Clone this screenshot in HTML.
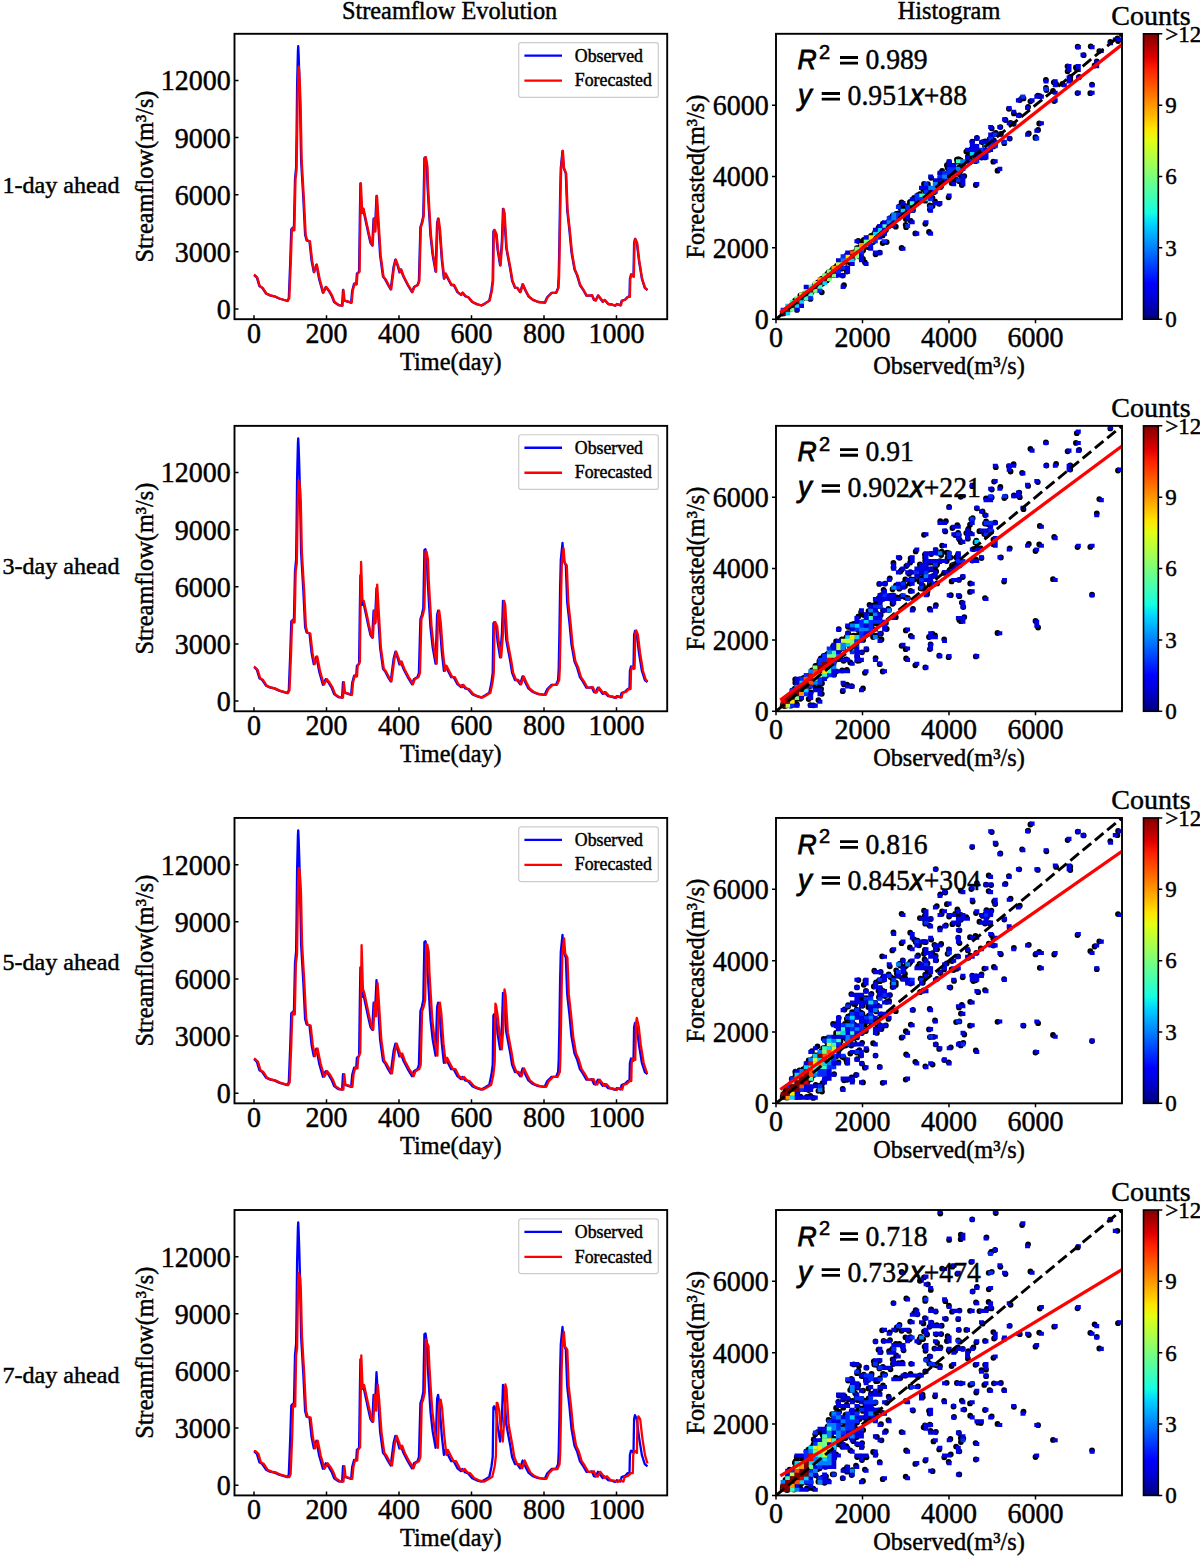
<!DOCTYPE html>
<html><head><meta charset="utf-8"><style>html,body{margin:0;padding:0;background:#fff;width:1200px;height:1557px;overflow:hidden}svg{display:block}text{stroke:#000;stroke-width:0.45px}</style></head>
<body><svg width="1200" height="1557" viewBox="0 0 1200 1557">
<defs>
<linearGradient id="jet" x1="0" y1="0" x2="0" y2="1"><stop offset="0.0000" stop-color="#800000"/><stop offset="0.0417" stop-color="#b00000"/><stop offset="0.0833" stop-color="#e00000"/><stop offset="0.1250" stop-color="#ff2100"/><stop offset="0.1667" stop-color="#ff4800"/><stop offset="0.2083" stop-color="#ff7000"/><stop offset="0.2500" stop-color="#ff9700"/><stop offset="0.2917" stop-color="#ffbe00"/><stop offset="0.3333" stop-color="#ffe600"/><stop offset="0.3750" stop-color="#e2ff15"/><stop offset="0.4167" stop-color="#c0ff37"/><stop offset="0.4583" stop-color="#9eff59"/><stop offset="0.5000" stop-color="#7bff7b"/><stop offset="0.5417" stop-color="#59ff9e"/><stop offset="0.5833" stop-color="#37ffc0"/><stop offset="0.6250" stop-color="#15ffe2"/><stop offset="0.6667" stop-color="#00d5ff"/><stop offset="0.7083" stop-color="#00aaff"/><stop offset="0.7500" stop-color="#0080ff"/><stop offset="0.7917" stop-color="#0055ff"/><stop offset="0.8333" stop-color="#002aff"/><stop offset="0.8750" stop-color="#0000ff"/><stop offset="0.9167" stop-color="#0000e0"/><stop offset="0.9583" stop-color="#0000b0"/><stop offset="1.0000" stop-color="#000080"/></linearGradient>
<clipPath id="cl0"><rect x="234.5" y="33.8" width="432.7" height="285.4"/></clipPath>
<clipPath id="cr0"><rect x="776.0" y="33.8" width="346.0" height="285.4"/></clipPath>
<clipPath id="cl1"><rect x="234.5" y="425.9" width="432.7" height="285.4"/></clipPath>
<clipPath id="cr1"><rect x="776.0" y="425.9" width="346.0" height="285.4"/></clipPath>
<clipPath id="cl2"><rect x="234.5" y="817.9" width="432.7" height="285.4"/></clipPath>
<clipPath id="cr2"><rect x="776.0" y="817.9" width="346.0" height="285.4"/></clipPath>
<clipPath id="cl3"><rect x="234.5" y="1210.0" width="432.7" height="285.4"/></clipPath>
<clipPath id="cr3"><rect x="776.0" y="1210.0" width="346.0" height="285.4"/></clipPath>
</defs>
<rect width="1200" height="1557" fill="#fff"/>
<text x="449.6" y="19" text-anchor="middle" style="font-family:'Liberation Serif',serif;font-size:24.3px">Streamflow Evolution</text>
<text x="949" y="18.7" text-anchor="middle" style="font-family:'Liberation Serif',serif;font-size:24.3px">Histogram</text>
<text x="2.4" y="193.0" style="font-family:'Liberation Serif',serif;font-size:24.1px">1-day ahead</text>
<g clip-path="url(#cl0)">
<polyline points="254,274.9 256.9,277.7 259.4,286.1 262.3,287.9 266,293.5 269.9,295.4 274.3,296.3 279,298.5 287.4,301 288.8,298.2 290.2,262.8 291.3,229.3 293.1,227.4 293.9,230.2 295,179 296.1,167.8 296.6,132.4 297.1,85.9 297.9,51.9 298.2,46.2 298.6,53.8 299.3,74.8 300,100.8 301.1,160.4 303.3,197.6 305.1,234.8 306.6,240.4 309.5,241.4 311.6,260.9 313.8,272.1 316.4,264.6 319.2,279.5 322.9,292.6 325.8,287 328.7,290.7 331.6,295.7 334.1,302 338.5,305.1 342.1,305.5 343,290 344.1,300.6 346.8,301.3 351.1,302.7 352.2,290.7 354.1,283.6 356.2,284.3 356.9,273.7 359.1,271.6 359.9,213 360.4,183.3 361.7,213 363.1,208.8 366.7,225.7 368.2,232.8 370.4,242.7 372.2,245.5 373.6,218.6 374.9,231.4 376.5,196 378,220 380.1,255.4 383,276.6 385.2,279.4 388.1,285 390.7,289.3 393.6,266.7 395.4,259.6 397.9,266.7 399.4,272.3 400.8,269.5 403.4,276.6 407.7,285 412,292.1 413.9,287.1 417.5,285 418.9,280.8 420.4,227.1 421.8,222.9 423.3,215.8 424.4,157.9 425.5,157.2 426.9,166.4 427.6,187.6 429.1,213 430.5,235.6 432.7,255.4 435.6,271.6 437.1,222.9 438.1,218.6 439.6,230 441.8,259.6 443.9,278.7 445.4,273.7 448.3,279.4 451.2,285 453.7,285 457.4,292.1 461,294.9 462.4,292.8 465.3,296.3 467.9,297 472.2,302 476.6,304.1 481.3,305.5 484.9,303.4 489.3,300.6 491.4,290.7 492.7,280.8 493.4,231.4 494.2,230 496.1,234.2 497.6,249.7 500.1,265.3 501.9,241.2 503,208.8 504.1,213 506.3,248.3 510.3,269.5 512.1,280.8 515,287.9 517.2,287.9 520.1,292.1 522.6,284.3 525.5,290.7 528.4,296.3 532.8,299.9 538.2,302 544.7,302.7 547.3,297 551.6,292.8 556,292.8 558.1,287.9 558.7,276.6 559.4,241.2 560.1,196 560.8,167.8 562.5,150.8 563.6,167.8 565.8,173.4 567.2,210.2 569.4,230 571.5,252.5 574.5,269.5 577,275.1 579.9,285 582.8,289.3 586.4,295.6 590.4,295.6 591.8,295.1 594,300 595.5,300.4 598,295.5 602.7,301.8 604.5,300 608.2,304 611.8,304.5 615,305.8 616.9,304 620.5,305.4 621.6,300.9 625.2,299.5 627.7,296.9 629.5,296.9 629.9,278.9 631,274.4 632.1,275.3 633.5,276.6 634.1,242.9 635,238.9 636.8,242.9 639,260.9 641.9,278.9 644.8,287.9 647.5,290.1" fill="none" stroke="#0000ff" stroke-width="2.3" stroke-linejoin="round" stroke-linecap="butt"/>
<polyline points="254,274.9 254.4,274.9 257.3,277.7 259.8,286.1 262.7,287.9 266.4,293.5 270.4,295.4 274.7,296.3 279.5,298.5 287.8,301 289.3,298.2 290.8,262.8 291.9,229.3 293.7,227.4 294.4,230.2 295.5,179 296.6,169.3 297.1,137.2 297.7,95.7 298.4,69 298.8,66.6 299.1,70.8 299.9,85.1 300.6,105.4 301.7,160.4 303.8,197.6 305.7,234.8 307.1,240.4 310,241.4 312.2,260.9 314.3,272.1 316.9,264.6 319.8,279.5 323.4,292.6 326.3,287 329.2,290.7 332.1,295.7 334.6,302 339,305.1 342.6,305.5 343.5,290 344.6,300.6 347.3,301.3 351.7,302.7 352.8,290.7 354.6,283.6 356.7,284.3 357.5,273.7 359.6,271.6 360.4,213 360.9,183.3 362.2,213 363.6,208.8 367.2,225.7 368.7,232.8 370.9,242.7 372.7,245.5 374.1,218.6 375.4,231.4 377,196 378.5,220 380.7,255.4 383.5,276.6 385.7,279.4 388.6,285 391.2,289.3 394.1,266.7 395.9,259.6 398.4,266.7 399.9,272.3 401.3,269.5 403.8,276.6 408.2,285 412.5,292.1 414.3,287.1 418,285 419.4,280.8 420.9,227.1 422.3,222.9 423.8,215.8 424.9,157.9 425.9,157.2 427.4,166.4 428.1,187.6 429.6,213 431,235.6 433.2,255.4 436.1,271.6 437.5,222.9 438.6,218.6 440.1,230 442.2,259.6 444.4,278.7 445.9,273.7 448.8,279.4 451.7,285 454.2,285 457.8,292.1 461.4,294.9 462.9,292.8 465.8,296.3 468.3,297 472.7,302 477,304.1 481.7,305.5 485.4,303.4 489.7,300.6 491.9,290.7 493.1,280.8 493.9,231.4 494.6,230 496.6,234.2 498,249.7 500.6,265.3 502.4,241.2 503.5,208.8 504.6,213 506.7,248.3 510.7,269.5 512.5,280.8 515.4,287.9 517.6,287.9 520.5,292.1 523,284.3 525.9,290.7 528.8,296.3 533.2,299.9 538.6,302 545.1,302.7 547.7,297 552,292.8 556.4,292.8 558.5,287.9 559.1,276.6 559.8,241.2 560.5,196 561.2,167.8 562.9,150.8 564,167.8 566.2,173.4 567.6,210.2 569.8,230 572,252.5 574.9,269.5 577.4,275.1 580.3,285 583.2,289.3 586.8,295.6 590.8,295.6 592.2,295.1 594.4,300 595.9,300.4 598.4,295.5 603.1,301.8 604.9,300 608.5,304 612.2,304.5 615.4,305.8 617.2,304 620.9,305.4 622,300.9 625.6,299.5 628.1,296.9 629.9,296.9 630.3,278.9 631.4,274.4 632.5,275.3 633.9,276.6 634.5,242.9 635.4,238.9 637.2,242.9 639.3,260.9 642.2,278.9 645.1,287.9 647.5,289.8" fill="none" stroke="#ff0000" stroke-width="2.3" stroke-linejoin="round" stroke-linecap="butt"/>
</g>
<rect x="234.5" y="33.80" width="432.70" height="285.4" fill="none" stroke="#000" stroke-width="1.9"/>
<text transform="translate(230.7,318.90) scale(1,1.08)" text-anchor="end" style="font-family:'Liberation Serif',serif;font-size:28px">0</text>
<text transform="translate(230.7,261.77) scale(1,1.08)" text-anchor="end" style="font-family:'Liberation Serif',serif;font-size:28px">3000</text>
<text transform="translate(230.7,204.65) scale(1,1.08)" text-anchor="end" style="font-family:'Liberation Serif',serif;font-size:28px">6000</text>
<text transform="translate(230.7,147.52) scale(1,1.08)" text-anchor="end" style="font-family:'Liberation Serif',serif;font-size:28px">9000</text>
<text transform="translate(230.7,90.40) scale(1,1.08)" text-anchor="end" style="font-family:'Liberation Serif',serif;font-size:28px">12000</text>
<text transform="translate(254.00,342.90) scale(1,1.08)" text-anchor="middle" style="font-family:'Liberation Serif',serif;font-size:28px">0</text>
<text transform="translate(326.50,342.90) scale(1,1.08)" text-anchor="middle" style="font-family:'Liberation Serif',serif;font-size:28px">200</text>
<text transform="translate(399.00,342.90) scale(1,1.08)" text-anchor="middle" style="font-family:'Liberation Serif',serif;font-size:28px">400</text>
<text transform="translate(471.50,342.90) scale(1,1.08)" text-anchor="middle" style="font-family:'Liberation Serif',serif;font-size:28px">600</text>
<text transform="translate(544.00,342.90) scale(1,1.08)" text-anchor="middle" style="font-family:'Liberation Serif',serif;font-size:28px">800</text>
<text transform="translate(616.50,342.90) scale(1,1.08)" text-anchor="middle" style="font-family:'Liberation Serif',serif;font-size:28px">1000</text>
<path d="M234.5,309.00h4 M234.5,251.87h4 M234.5,194.75h4 M234.5,137.62h4 M234.5,80.50h4 M254.00,319.20v-4 M326.50,319.20v-4 M399.00,319.20v-4 M471.50,319.20v-4 M544.00,319.20v-4 M616.50,319.20v-4" stroke="#000" stroke-width="1.5"/>
<text x="450.85" y="369.80" text-anchor="middle" style="font-family:'Liberation Serif',serif;font-size:24.3px">Time(day)</text>
<text transform="translate(153.1,176.50) rotate(-90)" text-anchor="middle" style="font-family:'Liberation Serif',serif;font-size:24.3px">Streamflow(m³/s)</text>
<rect x="518.7" y="42.70" width="139.6" height="54.7" rx="2.5" fill="#fff" fill-opacity="0.8" stroke="#cccccc" stroke-width="1.2"/>
<path d="M524.4,55.70H562" stroke="#0000ff" stroke-width="2.3"/>
<path d="M524.4,80.70H562" stroke="#ff0000" stroke-width="2.3"/>
<text x="574.8" y="61.70" style="font-family:'Liberation Serif',serif;font-size:17.8px">Observed</text>
<text x="574.8" y="86.30" style="font-family:'Liberation Serif',serif;font-size:17.8px">Forecasted</text>
<g clip-path="url(#cr0)">
<path d="M853.5 252.6h0M852.7 258.7h0M854.6 254.9h0M855.7 254.8h0M853.2 254.7h0M851.4 256.3h0M849.3 260.0h0M849.4 259.0h0M848.3 259.9h0M846.7 255.9h0M840.5 262.2h0M840.4 266.4h0M837.3 267.1h0M835.3 269.8h0M832.1 272.1h0M828.6 274.2h0M828.6 275.4h0M829.0 275.9h0M827.9 274.9h0M827.0 276.8h0M827.2 277.1h0M825.3 276.2h0M822.9 278.7h0M823.1 280.8h0M821.2 281.0h0M818.1 282.3h0M816.6 283.5h0M815.4 286.2h0M813.6 287.3h0M811.6 288.1h0M811.2 290.4h0M811.4 290.3h0M810.3 289.8h0M808.8 291.0h0M809.1 292.0h0M809.6 291.4h0M809.1 293.2h0M809.3 291.3h0M809.8 292.1h0M809.1 292.4h0M808.0 292.0h0M808.0 292.4h0M807.8 293.1h0M808.3 293.4h0M806.7 293.0h0M806.1 294.1h0M805.4 293.9h0M804.1 294.9h0M804.4 295.8h0M804.9 295.1h0M804.4 295.6h0M805.4 296.0h0M805.9 294.5h0M806.1 294.2h0M806.1 294.4h0M806.5 294.6h0M805.1 294.2h0M805.2 296.3h0M805.1 294.8h0M803.3 295.4h0M803.2 297.4h0M802.7 296.9h0M802.9 297.6h0M802.1 296.9h0M801.7 298.6h0M801.6 298.4h0M800.6 298.1h0M800.6 298.4h0M800.2 299.8h0M800.1 299.5h0M799.5 299.3h0M799.9 299.9h0M799.9 298.8h0M799.4 300.0h0M799.5 299.7h0M799.8 300.2h0M800.4 298.8h0M798.9 299.5h0M799.0 300.5h0M798.8 301.0h0M798.2 299.9h0M797.3 300.8h0M797.6 301.3h0M796.6 301.2h0M796.6 302.1h0M796.9 302.4h0M795.7 302.5h0M795.3 303.3h0M794.5 303.1h0M794.4 304.4h0M795.0 304.0h0M795.6 303.5h0M794.4 303.2h0M795.6 303.6h0M797.6 302.9h0M800.1 301.4h0M801.9 298.9h0M821.8 292.3h0M842.7 275.6h0M863.0 258.9h0M882.7 243.1h0M905.7 225.0h0M932.6 206.1h0M959.3 181.2h0M959.4 170.4h0M959.0 167.6h0M954.0 169.8h0M953.5 170.9h0M960.9 170.3h0M956.9 159.7h0M947.6 167.8h0M993.3 161.7h0M1035.5 137.1h0M1090.3 93.2h0M1096.8 61.5h0M1099.3 51.1h0M1094.6 65.5h0M1090.7 46.3h0M1067.5 66.3h0M1062.4 83.9h0M1045.9 80.0h0M1037.8 95.6h0M1028.1 107.0h0M1019.3 115.3h0M1005.5 120.0h0M991.8 135.9h0M971.3 149.5h0M949.1 162.1h0M942.1 171.0h0M936.8 184.2h0M929.5 189.8h0M925.1 196.6h0M925.5 199.3h0M927.1 194.2h0M926.1 192.7h0M919.5 197.0h0M920.6 199.8h0M922.6 199.2h0M927.5 196.7h0M929.7 197.5h0M920.0 195.9h0M910.6 202.5h0M910.6 209.9h0M905.0 210.6h0M902.2 215.2h0M899.3 216.5h0M890.0 218.1h0M885.1 227.1h0M880.5 230.6h0M876.1 232.7h0M871.6 236.7h0M866.4 239.0h0M868.3 247.2h0M866.5 242.2h0M868.3 244.8h0M868.9 242.7h0M871.7 240.6h0M873.0 238.2h0M877.2 236.4h0M874.9 236.0h0M871.0 236.0h0M867.0 242.3h0M862.4 245.5h0M856.8 248.2h0M852.0 254.5h0M846.8 255.1h0M843.3 260.5h0M840.3 262.0h0M838.2 266.7h0M833.0 269.6h0M831.5 272.4h0M827.4 273.8h0M823.7 278.2h0M820.8 280.3h0M817.5 283.1h0M815.2 284.4h0M811.9 288.1h0M812.6 288.8h0M813.7 289.1h0M816.9 287.9h0M818.7 285.5h0M819.1 284.7h0M820.9 283.1h0M820.9 281.4h0M825.1 281.0h0M822.4 278.9h0M822.3 279.7h0M822.1 280.8h0M819.6 281.6h0M819.2 283.5h0M819.5 284.6h0M819.0 282.9h0M818.1 285.2h0M817.6 284.1h0M816.1 285.3h0M814.8 285.7h0M813.0 287.7h0M811.9 289.5h0M809.4 290.0h0M808.6 292.1h0M806.6 292.9h0M803.7 294.6h0M802.0 296.8h0M801.0 298.1h0M799.3 299.3h0M796.7 300.7h0M794.8 303.3h0M792.4 304.3h0M791.7 306.2h0M791.0 306.1h0M789.6 306.8h0M789.2 308.5h0M788.3 308.5h0M787.7 309.2h0M786.8 310.0h0M786.0 310.4h0M785.4 311.2h0M785.3 311.7h0M785.2 311.6h0M784.7 311.8h0M784.8 312.0h0M784.7 312.1h0M784.2 312.1h0M784.2 312.3h0M784.2 312.6h0M784.1 312.5h0M784.1 312.5h0M784.1 312.6h0M783.9 312.3h0M783.5 312.8h0M796.9 309.9h0M810.4 298.9h0M813.3 290.2h0M806.9 288.6h0M800.4 295.4h0M795.2 300.3h0M795.3 303.2h0M795.5 303.2h0M795.4 302.4h0M795.5 303.3h0M794.9 303.0h0M794.9 303.6h0M795.4 303.3h0M795.2 303.6h0M794.3 303.0h0M794.1 304.2h0M794.2 304.2h0M793.8 304.6h0M793.0 304.9h0M793.2 305.0h0M792.2 305.0h0M792.0 305.7h0M791.5 305.8h0M790.7 306.4h0M790.9 307.0h0M800.4 304.3h0M808.7 296.8h0M818.4 289.9h0M821.1 283.0h0M822.0 280.8h0M824.6 280.4h0M828.4 278.5h0M832.7 274.3h0M832.8 270.6h0M832.7 272.5h0M833.2 272.4h0M832.6 272.3h0M834.0 271.0h0M833.7 273.2h0M846.3 268.1h0M859.4 256.5h0M857.6 251.9h0M856.8 250.1h0M860.9 250.8h0M862.1 249.6h0M861.9 247.9h0M863.2 250.2h0M929.0 232.0h0M997.5 170.7h0M1038.1 129.9h0M1053.0 91.0h0M1023.5 98.4h0M1013.9 113.4h0M991.7 128.3h0M986.0 150.4h0M988.6 147.3h0M990.4 142.7h0M995.1 145.2h0M986.5 145.3h0M986.9 144.2h0M1004.3 143.2h0M991.4 140.3h0M988.8 144.6h0M982.6 142.2h0M979.4 151.2h0M966.3 151.6h0M958.2 159.4h0M958.2 168.8h0M955.2 173.0h0M959.5 174.2h0M952.0 169.8h0M948.9 172.3h0M957.9 173.6h0M948.7 169.8h0M940.0 180.2h0M935.7 184.2h0M931.5 189.7h0M930.8 191.9h0M929.3 195.1h0M924.6 197.8h0M924.0 198.0h0M932.5 197.8h0M934.4 192.1h0M937.1 186.1h0M951.6 183.0h0M962.7 162.7h0M981.5 157.6h0M972.3 154.1h0M973.4 154.5h0M967.9 156.6h0M975.5 161.2h0M993.4 146.4h0M1009.8 138.6h0M1028.8 133.4h0M1054.2 101.0h0M1039.8 96.1h0M1019.8 100.1h0M1010.6 122.9h0M994.1 134.2h0M976.9 138.0h0M957.3 161.7h0M940.3 173.3h0M924.0 183.9h0M901.6 202.4h0M893.4 217.8h0M889.8 223.1h0M883.6 225.3h0M880.7 232.6h0M875.5 233.1h0M870.0 237.5h0M858.3 241.0h0M852.5 253.2h0M848.1 258.3h0M850.2 258.3h0M852.3 258.0h0M853.1 255.7h0M848.8 256.5h0M843.3 259.1h0M843.4 264.4h0M841.8 264.1h0M841.7 267.6h0M839.7 266.4h0M838.2 265.4h0M834.2 269.6h0M833.4 272.1h0M831.2 273.5h0M830.3 273.3h0M829.5 274.5h0M827.9 276.5h0M826.9 276.1h0M825.4 277.4h0M824.8 278.0h0M823.8 279.7h0M821.5 279.0h0M827.1 280.0h0M836.1 274.9h0M842.2 268.6h0M850.3 262.9h0M857.2 255.1h0M862.0 251.4h0M866.5 245.6h0M873.1 242.0h0M876.9 236.0h0M881.5 233.5h0M881.0 232.4h0M882.7 235.4h0M885.9 229.9h0M888.4 226.4h0M879.4 228.4h0M878.9 233.1h0M875.6 235.9h0M875.0 237.8h0M871.8 239.9h0M870.8 238.3h0M871.5 240.6h0M868.6 241.9h0M865.9 245.5h0M862.9 246.0h0M862.4 245.6h0M865.0 246.6h0M865.8 246.7h0M865.3 243.1h0M863.0 244.0h0M860.3 246.7h0M859.7 248.7h0M857.1 249.2h0M853.7 252.4h0M854.3 254.0h0M853.5 255.8h0M853.6 253.3h0M852.2 255.2h0M849.4 254.5h0M846.3 261.8h0M843.7 261.1h0M843.3 262.4h0M841.3 264.5h0M836.9 265.9h0M835.3 268.6h0M831.7 270.6h0M830.7 274.0h0M827.7 275.0h0M825.3 276.3h0M824.7 277.7h0M823.8 279.2h0M821.0 280.4h0M821.2 281.9h0M822.7 280.8h0M819.7 282.2h0M820.6 283.9h0M818.3 282.9h0M816.5 285.5h0M815.1 286.5h0M812.5 287.5h0M816.2 287.9h0M819.1 286.0h0M820.5 282.7h0M822.5 283.3h0M823.1 280.3h0M823.5 281.5h0M825.5 280.5h0M824.0 278.2h0M824.4 279.8h0M825.5 279.6h0M827.7 278.2h0M830.1 275.6h0M829.8 274.7h0M829.2 275.0h0M830.4 274.0h0M832.3 274.5h0M834.3 272.7h0M838.5 270.6h0M843.6 265.2h0M875.6 254.3h0M906.1 227.2h0M939.2 203.8h0M960.8 179.7h0M963.3 163.5h0M960.9 166.5h0M975.6 160.4h0M980.8 150.8h0M984.3 151.8h0M986.1 147.2h0M976.3 148.7h0M985.0 145.9h0M1039.2 123.5h0M1077.5 93.1h0M1118.1 41.0h0M1117.4 38.4h0M1077.7 46.7h0M1053.8 82.3h0M1046.0 88.0h0M1022.1 97.8h0M1013.6 123.8h0M995.8 132.9h0M972.2 141.6h0M960.7 160.3h0M945.3 174.2h0M935.8 182.7h0M925.2 190.3h0M923.4 196.9h0M914.1 197.9h0M909.0 205.7h0M900.4 207.8h0M892.9 215.7h0M892.6 221.5h0M888.7 221.9h0M883.0 225.2h0M875.4 231.6h0M874.4 239.4h0M871.6 237.4h0M866.0 241.7h0M861.8 243.6h0M886.7 242.1h0M910.8 220.9h0M935.0 201.3h0M964.3 176.1h0M970.0 161.9h0M970.2 160.0h0M978.2 156.0h0M976.2 154.4h0M970.3 155.0h0M968.4 159.4h0M959.5 161.8h0M946.9 165.2h0M937.1 181.8h0M924.9 189.3h0M915.7 199.1h0M899.5 206.4h0M892.3 221.5h0M882.1 227.1h0M874.3 233.7h0M863.8 239.9h0M858.4 248.2h0M853.8 253.0h0M848.1 257.5h0M852.1 258.1h0M851.4 254.8h0M852.6 256.3h0M854.7 255.2h0M851.5 254.5h0M852.5 257.8h0M851.3 256.8h0M849.6 257.8h0M848.9 258.3h0M845.5 260.0h0M842.5 264.0h0M839.8 263.8h0M839.6 264.8h0M838.9 267.2h0M838.4 267.0h0M838.5 267.4h0M834.6 267.8h0M832.3 272.8h0M831.2 271.5h0M827.9 274.9h0M827.6 275.3h0M829.4 276.1h0M831.0 275.1h0M832.5 273.6h0M832.2 271.8h0M831.7 273.8h0M833.0 273.3h0M830.4 273.3h0M829.0 276.2h0M828.8 274.4h0M826.1 275.8h0M823.4 278.5h0M821.6 279.6h0M820.5 282.6h0M819.2 282.9h0M817.4 282.8h0M816.1 284.7h0M813.6 288.1h0M812.2 290.5h0M811.9 290.0h0M810.5 289.3h0M809.0 291.4h0M807.7 292.4h0M806.8 292.9h0M806.5 294.3h0M805.6 294.1h0M805.6 294.4h0M808.4 293.8h0M809.6 291.9h0M812.0 291.2h0M813.4 288.8h0M811.3 289.1h0M810.2 289.6h0M808.5 289.9h0M808.4 292.8h0M806.5 294.1h0M806.8 294.2h0M806.2 293.8h0M803.7 294.4h0M804.2 295.7h0M805.2 296.1h0M804.2 295.7h0M804.7 295.2h0M803.1 296.4h0M803.1 296.3h0M801.9 297.2h0M801.5 297.6h0M799.6 298.4h0M797.5 300.0h0M797.3 301.2h0M797.9 301.8h0M796.8 301.3h0M796.4 302.1h0M795.6 302.5h0M794.5 302.9h0M793.9 304.2h0M793.6 304.7h0M792.0 305.3h0M791.8 306.1h0M791.5 306.0h0M790.5 306.9h0M790.7 306.9h0M791.0 306.9h0M790.0 307.1h0M790.2 307.9h0M789.6 307.6h0M789.0 308.0h0M788.9 308.9h0M788.4 308.4h0M787.9 308.7h0M788.0 309.3h0M787.9 309.2h0M787.7 308.9h0M786.9 309.5h0M786.1 310.6h0M786.1 310.9h0M785.5 311.0h0M785.3 311.4h0M784.8 312.0h0M784.5 311.9h0M784.1 312.4h0M784.2 312.5h0M783.8 312.6h0M784.2 312.6h0M784.7 312.3h0M785.5 312.0h0M785.6 311.3h0M786.1 310.9h0M786.5 310.8h0M787.2 310.1h0M787.8 309.8h0M788.1 309.5h0M788.7 308.7h0M789.1 308.8h0M789.8 308.0h0M790.3 307.8h0M790.6 307.2h0M791.1 307.3h0M791.8 306.7h0M793.3 305.5h0M793.5 304.8h0M794.1 304.6h0M795.3 304.1h0M794.6 303.3h0M794.3 304.3h0M797.4 303.7h0M801.1 300.7h0M806.7 297.5h0M810.8 293.2h0M815.7 289.3h0M819.1 285.7h0M822.5 283.0h0M826.0 278.7h0M834.1 275.1h0M864.9 262.3h0M915.3 233.4h0M948.6 197.3h0M944.2 181.9h0M950.8 179.8h0M956.1 179.7h0M950.4 173.8h0M944.1 174.7h0M946.7 175.3h0M940.5 177.2h0M936.2 186.9h0M923.1 189.1h0M918.1 201.0h0M909.9 202.1h0M903.6 210.5h0M896.2 214.0h0M892.6 215.8h0M882.9 223.7h0M878.5 227.9h0M873.8 235.5h0M871.5 239.6h0M879.4 236.3h0M895.8 226.7h0M905.8 219.0h0M913.0 210.2h0M929.7 205.4h0M961.8 185.0h0M985.0 157.4h0M1004.1 142.3h0M1000.9 133.9h0M993.9 140.5h0M989.6 139.2h0M985.1 141.3h0M972.7 147.8h0M958.9 159.5h0M945.9 175.3h0M931.2 177.8h0M919.9 194.1h0M917.5 201.4h0M910.4 202.5h0M905.4 214.2h0M907.9 212.0h0M902.7 212.0h0M895.8 215.6h0M895.8 217.7h0M889.1 221.1h0M879.8 231.5h0M876.1 235.0h0M868.5 238.2h0M861.7 244.4h0M857.0 251.4h0M851.3 255.9h0M844.6 258.1h0M838.8 263.7h0M836.1 268.1h0M836.1 271.3h0M833.1 268.6h0M830.4 275.4h0M831.4 274.4h0M828.4 272.3h0M828.2 276.1h0M827.5 276.1h0M826.7 277.9h0M824.5 276.8h0M825.0 280.1h0M825.7 278.4h0M826.6 277.9h0M826.3 278.4h0M826.2 277.0h0M826.1 279.0h0M822.8 279.3h0M822.8 280.6h0M821.2 281.3h0M818.8 282.2h0M816.9 283.7h0M817.4 285.5h0M820.7 284.6h0M820.8 282.7h0M823.3 281.9h0M825.5 279.0h0M827.7 278.0h0M829.5 275.8h0M830.0 275.0h0M829.7 275.5h0M826.8 274.9h0M824.8 278.7h0M822.6 279.5h0M820.4 280.2h0M819.8 283.5h0M818.7 283.4h0M816.3 285.7h0M814.0 286.8h0M812.4 289.2h0M812.0 289.5h0M810.7 290.1h0M809.4 290.8h0M807.6 291.2h0M805.9 293.4h0M804.5 294.6h0M802.7 296.1h0M803.3 297.2h0M802.1 297.3h0M801.2 298.6h0M801.5 298.3h0M801.0 297.6h0M800.3 298.6h0M799.2 299.6h0M797.7 299.8h0M797.3 301.6h0M797.4 301.8h0M796.2 302.3h0M796.7 302.7h0M795.7 302.5h0M795.1 302.4h0M795.1 303.5h0M794.9 303.8h0M794.9 303.8h0M794.2 303.8h0M793.5 304.8h0M792.5 305.0h0M791.9 305.6h0M791.4 306.1h0M790.8 306.5h0M791.0 307.2h0M790.7 307.3h0M789.9 307.0h0M791.0 307.2h0M790.7 307.3h0M790.3 307.1h0M790.9 307.2h0M791.3 306.7h0M790.8 306.6h0M790.3 307.2h0M790.0 307.4h0M790.5 307.5h0M790.4 307.3h0M790.1 307.8h0M790.1 308.2h0M790.6 307.6h0M790.0 307.7h0M789.9 307.6h0M789.4 307.7h0M790.3 307.8h0M790.9 307.4h0M793.1 306.4h0M794.8 304.3h0M797.0 303.4h0M797.6 301.4h0M799.6 300.7h0M800.6 299.4h0M801.6 298.1h0M802.2 298.2h0M803.0 297.0h0M804.4 297.0h0M805.9 295.8h0M806.9 294.8h0M807.0 293.4h0M808.5 293.7h0M809.2 292.2h0M811.1 292.0h0M811.0 289.7h0M809.4 289.7h0M810.1 291.3h0M812.4 289.5h0M812.9 288.7h0M812.7 287.4h0M813.6 288.6h0M813.9 289.1h0M814.2 286.9h0M813.5 288.0h0M813.5 288.9h0M813.5 288.7h0M812.8 289.4h0M811.8 289.2h0M812.1 290.2h0M815.0 287.8h0M817.4 286.0h0M819.7 285.6h0M822.0 283.7h0M826.8 280.5h0M828.4 278.5h0M846.9 271.5h0M879.7 252.7h0M925.3 223.8h0M975.8 185.0h0M1035.5 137.9h0M1092.0 84.6h0M1110.3 42.0h0M1083.7 55.2h0M1075.9 67.4h0M1076.8 68.8h0M1070.3 79.7h0M1079.2 76.9h0M1067.6 71.3h0M1070.3 76.9h0M1056.1 83.9h0M1046.4 90.1h0M1030.4 101.3h0M1008.9 108.8h0M1000.4 127.1h0M991.2 141.2h0M988.7 149.9h0M976.0 146.6h0M970.0 151.8h0M960.8 160.9h0M952.4 166.2h0M941.7 177.7h0M941.2 186.3h0M927.9 184.2h0M919.0 195.9h0M910.2 201.8h0M906.3 212.5h0M901.6 212.5h0M896.8 218.0h0M893.5 218.8h0M883.0 226.0h0M877.7 233.3h0M869.5 238.3h0M865.4 241.1h0M861.1 246.5h0M857.8 250.9h0M856.6 253.4h0M858.2 253.7h0M857.6 249.5h0M856.3 254.6h0M857.0 253.9h0M851.7 252.9h0M844.9 257.0h0M841.9 263.3h0M839.1 264.7h0M838.7 266.4h0M839.3 266.3h0M833.9 268.3h0M834.5 269.7h0M834.9 270.6h0M833.9 269.4h0M832.2 272.9h0M833.4 271.6h0M830.9 273.6h0M827.9 275.9h0M826.1 276.4h0M822.5 279.4h0M821.3 280.8h0M819.4 283.0h0M818.1 282.5h0M816.7 284.8h0M814.0 287.0h0M813.7 287.8h0M811.1 288.2h0M810.4 290.8h0M807.5 291.2h0M806.4 292.4h0M805.8 293.8h0M805.9 294.6h0M805.5 294.8h0M804.1 294.9h0M803.7 296.8h0M804.1 297.6h0M804.9 296.1h0M804.1 296.0h0M803.0 295.4h0M802.9 296.9h0M803.3 297.3h0M803.6 297.1h0M803.7 296.2h0M805.1 296.4h0M806.4 295.2h0M805.3 294.4h0M802.9 295.5h0M801.3 297.3h0M799.5 298.7h0M797.0 299.9h0M795.9 301.5h0M795.8 303.3h0M795.4 302.1h0M796.0 303.0h0M796.1 302.2h0M798.1 302.3h0M800.4 300.2h0M802.3 298.5h0M802.8 297.3h0M804.0 296.4h0M806.3 295.2h0M807.2 294.4h0M806.0 293.8h0M805.2 294.2h0M805.0 294.8h0M804.5 295.6h0M803.6 296.0h0M801.9 296.9h0M801.0 298.5h0M799.8 299.3h0M798.3 299.3h0M797.6 301.1h0M796.3 301.6h0M794.5 303.1h0M793.8 303.7h0M794.3 303.9h0M795.3 303.9h0M795.2 303.1h0M796.0 303.4h0M796.3 302.0h0M795.0 302.5h0M793.3 304.2h0M793.6 304.5h0M792.6 304.8h0M791.9 305.5h0M791.4 306.1h0M790.4 306.9h0M789.6 307.7h0M788.2 308.2h0M787.3 309.4h0M787.1 310.1h0M787.2 309.6h0M787.1 310.0h0M786.6 310.3h0M786.1 310.7h0M785.8 310.8h0M786.0 310.9h0M786.1 310.9h0M786.1 310.7h0M785.5 311.2h0M784.7 311.6h0M784.5 312.1h0M784.3 312.3h0M784.0 312.4h0M783.9 312.9h0M783.6 312.3h0M783.2 313.1h0M782.9 313.3h0M782.7 313.5h0M783.6 313.4h0M784.4 312.7h0M785.8 312.3h0M786.5 311.1h0M787.4 310.1h0M786.8 310.1h0M786.4 310.6h0M786.3 311.0h0M786.1 310.5h0M785.8 310.8h0M785.6 311.3h0M785.2 311.4h0M784.5 311.8h0M783.6 312.6h0M783.9 312.9h0M787.4 311.8h0M790.8 308.8h0M793.4 306.0h0M793.3 304.8h0M794.4 304.8h0M793.6 304.1h0M794.0 304.8h0M794.9 304.5h0M795.4 303.1h0M796.3 303.1h0M796.6 302.4h0M798.2 301.6h0M797.8 301.4h0M797.9 300.9h0M798.9 300.7h0M800.7 299.9h0M801.4 298.5h0M802.9 298.2h0M803.2 297.9h0M803.2 296.9h0M804.2 296.9h0M805.2 295.3h0M806.1 294.8h0M805.3 294.8h0M804.2 295.2h0M844.0 285.2h0M847.0 261.1h0M851.6 259.0h0M856.0 255.2h0M852.3 254.5h0M852.2 256.4h0M851.7 255.7h0M851.3 257.0h0M850.6 256.9h0M849.5 259.3h0M850.0 260.4h0M901.6 247.9h0M929.9 209.5h0M930.6 188.6h0M935.9 187.3h0M933.5 190.5h0M923.6 195.6h0M924.9 195.1h0M922.8 195.7h0M925.2 200.7h0M918.0 195.2h0M911.1 203.3h0M905.3 206.2h0M898.5 213.5h0M890.5 218.3h0M879.2 226.9h0M879.9 235.5h0M871.0 236.0h0M865.9 243.1h0M863.0 244.5h0M859.0 249.8h0M855.2 253.7h0M851.4 253.9h0M848.1 256.4h0M845.4 258.6h0M847.1 260.2h0M841.4 263.6h0M838.3 266.7h0M834.4 269.3h0M830.6 272.0h0M828.1 276.7h0M827.0 276.5h0M825.0 277.4h0M823.2 280.0h0M823.3 280.1h0M823.0 279.3h0M824.4 280.0h0M824.3 278.4h0M823.2 278.8h0" stroke="#000" stroke-width="5.8" stroke-linecap="round" fill="none"/>
<path d="M849.8 252.6h4.9" stroke="#ff4800" stroke-width="4.11" fill="none"/>
<path d="M849.8 260.2h4.9M794.5 305.9h4.9M799.1 302.1h4.9M923.6 199.3h4.9M900.6 210.7h4.9M877.5 229.8h4.9M872.9 233.6h4.9M785.2 305.9h4.9M785.2 313.5h4.9M859.0 248.8h4.9M983.6 146.1h4.9M969.8 153.7h4.9M822.1 283.0h4.9" stroke="#00d4ff" stroke-width="4.11" fill="none"/>
<path d="M854.4 256.4h4.9M822.1 275.4h4.9M803.7 290.7h4.9M794.5 298.3h4.9M863.7 241.2h4.9M868.3 241.2h4.9M854.4 248.8h4.9M812.9 290.7h4.9M826.7 279.2h4.9M831.4 275.4h4.9M877.5 233.6h4.9M826.7 271.6h4.9M789.8 309.7h4.9" stroke="#7bff7b" stroke-width="4.11" fill="none"/>
<path d="M849.8 256.4h4.9M831.4 271.6h4.9M826.7 275.4h4.9M822.1 279.2h4.9M817.5 283.0h4.9M812.9 286.9h4.9M808.3 290.7h4.9M803.7 294.5h4.9M799.1 298.3h4.9M794.5 302.1h4.9M789.8 305.9h4.9M785.2 309.7h4.9M780.6 313.5h4.9" stroke="#800000" stroke-width="4.11" fill="none"/>
<path d="M845.2 260.2h4.9M817.5 279.2h4.9M859.0 245.0h4.9M831.4 267.8h4.9" stroke="#ff9700" stroke-width="4.11" fill="none"/>
<path d="M845.2 256.4h4.9M868.3 237.4h4.9M840.6 264.0h4.9" stroke="#ffe600" stroke-width="4.11" fill="none"/>
<path d="M836.0 264.0h4.9M812.9 283.0h4.9M799.1 294.5h4.9M872.9 237.4h4.9M854.4 252.6h4.9" stroke="#c0ff37" stroke-width="4.11" fill="none"/>
<path d="M836.0 267.8h4.9" stroke="#e00000" stroke-width="4.11" fill="none"/>
<path d="M808.3 286.9h4.9M808.3 294.5h4.9M789.8 302.1h4.9M955.9 161.3h4.9M923.6 195.5h4.9M919.0 195.5h4.9M909.8 203.1h4.9M882.1 226.0h4.9M817.5 286.9h4.9M863.7 245.0h4.9M803.7 298.3h4.9" stroke="#37ffc0" stroke-width="4.11" fill="none"/>
<path d="M817.5 290.7h4.9M882.1 241.2h4.9M905.2 226.0h4.9M928.2 206.9h4.9M955.9 180.3h4.9M951.3 168.9h4.9M951.3 172.7h4.9M946.7 168.9h4.9M1034.3 138.4h4.9M942.1 172.7h4.9M923.6 191.7h4.9M919.0 199.3h4.9M928.2 199.3h4.9M909.8 210.7h4.9M895.9 218.4h4.9M886.7 218.4h4.9M808.3 298.3h4.9M859.0 252.6h4.9M1020.5 96.6h4.9M988.2 146.1h4.9M988.2 142.3h4.9M992.8 146.1h4.9M1002.1 142.3h4.9M988.2 138.4h4.9M979.0 149.9h4.9M955.9 172.7h4.9M946.7 172.7h4.9M932.9 191.7h4.9M974.4 161.3h4.9M992.8 134.6h4.9M923.6 184.1h4.9M840.6 267.8h4.9M872.9 241.2h4.9M836.0 271.6h4.9M960.5 165.1h4.9M1043.6 89.0h4.9M905.2 206.9h4.9M895.9 206.9h4.9M891.3 222.2h4.9M969.8 161.3h4.9M914.4 199.3h4.9M937.5 176.5h4.9M895.9 214.6h4.9M905.2 210.7h4.9M840.6 256.4h4.9M914.4 195.5h4.9M780.6 309.7h4.9" stroke="#002aff" stroke-width="4.11" fill="none"/>
<path d="M840.6 275.4h4.9M859.0 260.2h4.9M960.5 168.9h4.9M992.8 161.3h4.9M1089.7 92.8h4.9M1094.3 62.3h4.9M1098.9 50.9h4.9M1094.3 66.1h4.9M1089.7 47.1h4.9M1066.6 66.1h4.9M1062.0 85.2h4.9M1043.6 81.4h4.9M1034.3 96.6h4.9M1025.1 108.0h4.9M1015.9 115.6h4.9M1002.1 119.4h4.9M988.2 134.6h4.9M969.8 149.9h4.9M946.7 161.3h4.9M900.6 214.6h4.9M863.7 237.4h4.9M868.3 248.8h4.9M868.3 245.0h4.9M836.0 260.2h4.9M794.5 309.7h4.9M803.7 286.9h4.9M799.1 305.9h4.9M845.2 267.8h4.9M859.0 256.4h4.9M928.2 233.6h4.9M997.4 168.9h4.9M1034.3 130.8h4.9M1052.8 92.8h4.9M1011.3 111.8h4.9M988.2 127.0h4.9M983.6 149.9h4.9M979.0 142.3h4.9M965.1 149.9h4.9M937.5 180.3h4.9M928.2 191.7h4.9M928.2 195.5h4.9M951.3 184.1h4.9M979.0 157.5h4.9M965.1 157.5h4.9M1006.7 138.4h4.9M1025.1 134.6h4.9M1052.8 100.4h4.9M1039.0 96.6h4.9M1015.9 100.4h4.9M1006.7 123.2h4.9M974.4 138.4h4.9M937.5 172.7h4.9M900.6 203.1h4.9M854.4 241.2h4.9M836.0 275.4h4.9M849.8 264.0h4.9M882.1 233.6h4.9M882.1 229.8h4.9M886.7 226.0h4.9M845.2 252.6h4.9M872.9 252.6h4.9M937.5 203.1h4.9M960.5 180.3h4.9M983.6 153.7h4.9M974.4 149.9h4.9M1039.0 123.2h4.9M1075.9 92.8h4.9M1117.4 39.5h4.9M1112.8 39.5h4.9M1075.9 47.1h4.9M1052.8 81.4h4.9M1011.3 123.2h4.9M969.8 142.3h4.9M909.8 199.3h4.9M872.9 229.8h4.9M909.8 222.2h4.9M932.9 203.1h4.9M960.5 176.5h4.9M974.4 157.5h4.9M974.4 153.7h4.9M965.1 161.3h4.9M946.7 165.1h4.9M932.9 180.3h4.9M923.6 187.9h4.9M863.7 264.0h4.9M914.4 233.6h4.9M946.7 195.5h4.9M942.1 180.3h4.9M946.7 180.3h4.9M919.0 187.9h4.9M882.1 222.2h4.9M877.5 237.4h4.9M891.3 226.0h4.9M905.2 218.4h4.9M960.5 184.1h4.9M983.6 157.5h4.9M997.4 134.6h4.9M992.8 142.3h4.9M983.6 142.3h4.9M969.8 146.1h4.9M928.2 176.5h4.9M914.4 203.1h4.9M905.2 214.6h4.9M845.2 271.6h4.9M877.5 252.6h4.9M923.6 222.2h4.9M974.4 184.1h4.9M1089.7 85.2h4.9M1108.2 43.3h4.9M1080.5 54.7h4.9M1075.9 66.1h4.9M1075.9 70.0h4.9M1066.6 81.4h4.9M1075.9 77.6h4.9M1066.6 70.0h4.9M1066.6 77.6h4.9M1052.8 85.2h4.9M1029.7 100.4h4.9M1006.7 108.0h4.9M997.4 127.0h4.9M988.2 149.9h4.9M974.4 146.1h4.9M951.3 165.1h4.9M937.5 187.9h4.9M840.6 286.9h4.9M900.6 248.8h4.9M928.2 210.7h4.9M877.5 226.0h4.9" stroke="#0000e0" stroke-width="4.11" fill="none"/>
<path d="M955.9 168.9h4.9M932.9 184.1h4.9M928.2 187.9h4.9M840.6 260.2h4.9M932.9 187.9h4.9M960.5 161.3h4.9M891.3 218.4h4.9M886.7 222.2h4.9M891.3 214.6h4.9M942.1 176.5h4.9" stroke="#0080ff" stroke-width="4.11" fill="none"/>
<path d="M776.0,319.20L1122.00,33.80" stroke="#000" stroke-width="2.9" stroke-dasharray="11.1,4.8"/>
<path d="M780.33,312.67L1122.00,44.65" stroke="#ff0000" stroke-width="3.3"/>
</g>
<rect x="776.0" y="33.80" width="346.0" height="285.4" fill="none" stroke="#000" stroke-width="1.9"/>
<text transform="translate(776.00,346.80) scale(1,1.08)" text-anchor="middle" style="font-family:'Liberation Serif',serif;font-size:28px">0</text>
<text transform="translate(768.7,329.10) scale(1,1.08)" text-anchor="end" style="font-family:'Liberation Serif',serif;font-size:28px">0</text>
<text transform="translate(862.50,346.80) scale(1,1.08)" text-anchor="middle" style="font-family:'Liberation Serif',serif;font-size:28px">2000</text>
<text transform="translate(768.7,257.75) scale(1,1.08)" text-anchor="end" style="font-family:'Liberation Serif',serif;font-size:28px">2000</text>
<text transform="translate(949.00,346.80) scale(1,1.08)" text-anchor="middle" style="font-family:'Liberation Serif',serif;font-size:28px">4000</text>
<text transform="translate(768.7,186.40) scale(1,1.08)" text-anchor="end" style="font-family:'Liberation Serif',serif;font-size:28px">4000</text>
<text transform="translate(1035.50,346.80) scale(1,1.08)" text-anchor="middle" style="font-family:'Liberation Serif',serif;font-size:28px">6000</text>
<text transform="translate(768.7,115.05) scale(1,1.08)" text-anchor="end" style="font-family:'Liberation Serif',serif;font-size:28px">6000</text>
<path d="M776.00,319.20v4 M776.0,319.20h-4 M862.50,319.20v4 M776.0,247.85h-4 M949.00,319.20v4 M776.0,176.50h-4 M1035.50,319.20v4 M776.0,105.15h-4" stroke="#000" stroke-width="1.5"/>
<text x="949" y="373.80" text-anchor="middle" style="font-family:'Liberation Serif',serif;font-size:24.3px">Observed(m³/s)</text>
<text transform="translate(704,176.50) rotate(-90)" text-anchor="middle" style="font-family:'Liberation Serif',serif;font-size:24.3px">Forecasted(m³/s)</text>
<text transform="translate(797.6,69.40) scale(0.93,1)" style="font-family:'Liberation Sans',sans-serif;font-size:28.5px;font-style:italic;stroke-width:0.9px">R</text>
<text x="819" y="59.20" style="font-family:'Liberation Sans',sans-serif;font-size:20px;stroke-width:0.6px">2</text>
<path d="M840,56.10h18v2.8h-18z M840,61.80h18v2.8h-18z" fill="#000"/>
<text transform="translate(865.4,69.40) scale(0.955,1.04)" style="font-family:'Liberation Serif',serif;font-size:29px">0.989</text>
<text transform="translate(798,105.40) scale(0.95,1)" style="font-family:'Liberation Sans',sans-serif;font-size:29px;font-style:italic;stroke-width:0.9px">y</text>
<path d="M821.7,92.10h18.3v2.8h-18.3z M821.7,97.80h18.3v2.8h-18.3z" fill="#000"/>
<text transform="translate(847.6,105.40) scale(0.955,1.04)" style="font-family:'Liberation Serif',serif;font-size:29px">0.951<tspan style="font-family:'Liberation Sans',sans-serif;font-style:italic;font-size:29px;stroke-width:0.9px">x</tspan>+88</text>
<rect x="1143.5" y="33.80" width="14.8" height="285.4" fill="url(#jet)" stroke="#000" stroke-width="1.6"/>
<text x="1165.3" y="327.00" style="font-family:'Liberation Serif',serif;font-size:23px">0</text>
<text x="1165.3" y="255.65" style="font-family:'Liberation Serif',serif;font-size:23px">3</text>
<text x="1165.3" y="184.30" style="font-family:'Liberation Serif',serif;font-size:23px">6</text>
<text x="1165.3" y="112.95" style="font-family:'Liberation Serif',serif;font-size:23px">9</text>
<text x="1165.3" y="41.60" style="font-family:'Liberation Serif',serif;font-size:23px">&gt;12</text>
<path d="M1158.3,319.20h4 M1158.3,247.85h4 M1158.3,176.50h4 M1158.3,105.15h4 M1158.3,33.80h4" stroke="#000" stroke-width="1.5"/>
<text x="1151" y="25.00" text-anchor="middle" style="font-family:'Liberation Serif',serif;font-size:28px">Counts</text>
<text x="2.4" y="573.8" style="font-family:'Liberation Serif',serif;font-size:24.1px">3-day ahead</text>
<g clip-path="url(#cl1)">
<polyline points="254,667 256.9,669.8 259.4,678.2 262.3,680 266,685.6 269.9,687.5 274.3,688.4 279,690.6 287.4,693.1 288.8,690.3 290.2,654.9 291.3,621.4 293.1,619.5 293.9,622.3 295,571.1 296.1,559.9 296.6,524.5 297.1,478 297.9,444 298.2,438.3 298.6,445.9 299.3,466.9 300,492.9 301.1,552.5 303.3,589.7 305.1,626.9 306.6,632.5 309.5,633.5 311.6,653 313.8,664.2 316.4,656.7 319.2,671.6 322.9,684.7 325.8,679.1 328.7,682.8 331.6,687.7 334.1,694.1 338.5,697.2 342.1,697.6 343,682.1 344.1,692.7 346.8,693.4 351.1,694.8 352.2,682.8 354.1,675.7 356.2,676.4 356.9,665.8 359.1,663.7 359.9,605.1 360.4,575.4 361.7,605.1 363.1,600.9 366.7,617.8 368.2,624.9 370.4,634.8 372.2,637.6 373.6,610.7 374.9,623.5 376.5,588.1 378,612.1 380.1,647.5 383,668.7 385.2,671.5 388.1,677.1 390.7,681.4 393.6,658.8 395.4,651.7 397.9,658.8 399.4,664.4 400.8,661.6 403.4,668.7 407.7,677.1 412,684.2 413.9,679.2 417.5,677.1 418.9,672.9 420.4,619.2 421.8,615 423.3,607.9 424.4,550 425.5,549.3 426.9,558.5 427.6,579.7 429.1,605.1 430.5,627.7 432.7,647.5 435.6,663.7 437.1,615 438.1,610.7 439.6,622.1 441.8,651.7 443.9,670.8 445.4,665.8 448.3,671.5 451.2,677.1 453.7,677.1 457.4,684.2 461,687 462.4,684.9 465.3,688.4 467.9,689.1 472.2,694.1 476.6,696.2 481.3,697.6 484.9,695.5 489.3,692.7 491.4,682.8 492.7,672.9 493.4,623.5 494.2,622.1 496.1,626.3 497.6,641.8 500.1,657.4 501.9,633.3 503,600.9 504.1,605.1 506.3,640.4 510.3,661.6 512.1,672.9 515,680 517.2,680 520.1,684.2 522.6,676.4 525.5,682.8 528.4,688.4 532.8,692 538.2,694.1 544.7,694.8 547.3,689.1 551.6,684.9 556,684.9 558.1,680 558.7,668.7 559.4,633.3 560.1,588.1 560.8,559.9 562.5,542.9 563.6,559.9 565.8,565.5 567.2,602.3 569.4,622.1 571.5,644.6 574.5,661.6 577,667.2 579.9,677.1 582.8,681.4 586.4,687.7 590.4,687.7 591.8,687.2 594,692.1 595.5,692.5 598,687.6 602.7,693.9 604.5,692.1 608.2,696.1 611.8,696.6 615,697.9 616.9,696.1 620.5,697.5 621.6,693 625.2,691.6 627.7,689 629.5,689 629.9,671 631,666.5 632.1,667.4 633.5,668.7 634.1,635 635,631 636.8,635 639,653 641.9,671 644.8,680 647.5,682.2" fill="none" stroke="#0000ff" stroke-width="2.3" stroke-linejoin="round" stroke-linecap="butt"/>
<polyline points="254,667 254.7,667 257.6,669.8 260.2,678.2 263.1,680 266.7,685.6 270.7,687.5 275,688.4 279.7,690.6 288.1,693.1 289.5,690.3 291,654.9 292.1,621.4 293.9,619.5 294.6,622.3 295.7,571.1 296.8,563.1 297.3,534.7 297.9,498.9 298.6,480.3 298.9,481.6 299.3,481.9 300.1,488.8 300.8,502.6 301.9,552.5 304.1,589.7 305.9,626.9 307.4,632.5 310.3,633.5 312.5,653 314.7,664.2 317.3,656.7 320.2,671.6 323.9,684.7 326.9,679.1 329.7,682.8 332.6,687.7 335.1,694.1 339.4,697.2 343,697.6 343.9,682.1 345,692.7 347.7,693.4 352,694.8 353,682.8 354.8,675.7 357,676.4 357.7,665.8 359.9,662 360.6,597.2 361.1,562 362.4,600.1 363.8,600.9 367.5,617.8 368.9,624.9 371.1,634.8 372.9,637.6 374.4,610.7 375.6,622.6 377.2,584.6 378.7,610.9 380.9,647.5 383.8,668.7 386,671.5 388.9,677.1 391.5,681.4 394.4,658.8 396.2,651.7 398.8,658.8 400.3,664.4 401.7,661.6 404.3,668.7 408.7,677.1 413,684.2 414.9,679.2 418.5,677.1 420,672.9 421.4,619.2 422.9,615 424.4,608.1 425.5,551.3 426.5,551.7 428,559.4 428.7,579.9 430.2,605.1 431.6,627.7 433.8,647.5 436.7,663.7 438.1,615 439.2,610.7 440.7,622.1 442.9,651.7 445,670.8 446.5,665.8 449.4,671.5 452.3,677.1 454.8,677.1 458.4,684.2 462.1,687 463.5,684.9 466.4,688.4 469,689.1 473.3,694.1 477.7,696.2 482.4,697.6 486,695.5 490.4,692.7 492.5,682.8 493.8,672.9 494.5,623.5 495.3,622.1 497.2,626.3 498.7,641.8 501.2,657.4 503,633.3 504.1,600.9 505.2,605.1 507.4,640.4 511.4,661.6 513.2,672.9 516.1,680 518.3,680 521.2,684.2 523.7,676.4 526.6,682.8 529.5,688.4 533.8,692 539.3,694.1 545.8,694.8 548.3,689.1 552.7,684.9 557,684.9 559.2,680 559.8,668.7 560.5,633.3 561.2,588.4 561.9,561.5 563.6,548.5 564.7,562.7 566.8,565.5 568.3,602.3 570.5,622.1 572.6,644.6 575.5,661.6 578.1,667.2 581,677.1 583.9,681.4 587.5,687.7 591.5,687.7 592.9,687.2 595.1,692.1 596.6,692.5 599.1,687.6 603.8,693.9 605.6,692.1 609.2,696.1 612.9,696.6 616.1,697.9 618,696.1 621.6,697.5 622.7,693 626.3,691.6 628.8,689 630.6,689 631,671 632.1,666.5 633.2,667.4 634.6,668.6 635.2,634.6 636.1,630.3 637.9,634.8 640.1,653 643,671 645.9,680 647.5,681.3" fill="none" stroke="#ff0000" stroke-width="2.3" stroke-linejoin="round" stroke-linecap="butt"/>
</g>
<rect x="234.5" y="425.87" width="432.70" height="285.4" fill="none" stroke="#000" stroke-width="1.9"/>
<text transform="translate(230.7,710.97) scale(1,1.08)" text-anchor="end" style="font-family:'Liberation Serif',serif;font-size:28px">0</text>
<text transform="translate(230.7,653.84) scale(1,1.08)" text-anchor="end" style="font-family:'Liberation Serif',serif;font-size:28px">3000</text>
<text transform="translate(230.7,596.72) scale(1,1.08)" text-anchor="end" style="font-family:'Liberation Serif',serif;font-size:28px">6000</text>
<text transform="translate(230.7,539.59) scale(1,1.08)" text-anchor="end" style="font-family:'Liberation Serif',serif;font-size:28px">9000</text>
<text transform="translate(230.7,482.47) scale(1,1.08)" text-anchor="end" style="font-family:'Liberation Serif',serif;font-size:28px">12000</text>
<text transform="translate(254.00,734.97) scale(1,1.08)" text-anchor="middle" style="font-family:'Liberation Serif',serif;font-size:28px">0</text>
<text transform="translate(326.50,734.97) scale(1,1.08)" text-anchor="middle" style="font-family:'Liberation Serif',serif;font-size:28px">200</text>
<text transform="translate(399.00,734.97) scale(1,1.08)" text-anchor="middle" style="font-family:'Liberation Serif',serif;font-size:28px">400</text>
<text transform="translate(471.50,734.97) scale(1,1.08)" text-anchor="middle" style="font-family:'Liberation Serif',serif;font-size:28px">600</text>
<text transform="translate(544.00,734.97) scale(1,1.08)" text-anchor="middle" style="font-family:'Liberation Serif',serif;font-size:28px">800</text>
<text transform="translate(616.50,734.97) scale(1,1.08)" text-anchor="middle" style="font-family:'Liberation Serif',serif;font-size:28px">1000</text>
<path d="M234.5,701.07h4 M234.5,643.94h4 M234.5,586.82h4 M234.5,529.69h4 M234.5,472.57h4 M254.00,711.27v-4 M326.50,711.27v-4 M399.00,711.27v-4 M471.50,711.27v-4 M544.00,711.27v-4 M616.50,711.27v-4" stroke="#000" stroke-width="1.5"/>
<text x="450.85" y="761.87" text-anchor="middle" style="font-family:'Liberation Serif',serif;font-size:24.3px">Time(day)</text>
<text transform="translate(153.1,568.57) rotate(-90)" text-anchor="middle" style="font-family:'Liberation Serif',serif;font-size:24.3px">Streamflow(m³/s)</text>
<rect x="518.7" y="434.77" width="139.6" height="54.7" rx="2.5" fill="#fff" fill-opacity="0.8" stroke="#cccccc" stroke-width="1.2"/>
<path d="M524.4,447.77H562" stroke="#0000ff" stroke-width="2.3"/>
<path d="M524.4,472.77H562" stroke="#ff0000" stroke-width="2.3"/>
<text x="574.8" y="453.77" style="font-family:'Liberation Serif',serif;font-size:17.8px">Observed</text>
<text x="574.8" y="478.37" style="font-family:'Liberation Serif',serif;font-size:17.8px">Forecasted</text>
<g clip-path="url(#cr1)">
<path d="M853.5 640.5h0M852.7 640.6h0M854.6 643.7h0M855.7 636.9h0M853.2 644.8h0M851.4 644.1h0M849.3 637.1h0M849.4 645.4h0M848.3 642.4h0M846.7 641.7h0M840.5 645.5h0M840.4 646.4h0M837.3 644.7h0M835.3 651.1h0M832.1 658.9h0M828.6 660.8h0M828.6 654.0h0M829.0 660.1h0M827.9 669.9h0M827.0 668.0h0M827.2 664.0h0M825.3 667.6h0M822.9 664.5h0M823.1 665.4h0M821.2 666.0h0M818.1 672.3h0M816.6 667.7h0M815.4 665.9h0M813.6 675.5h0M811.6 672.1h0M811.2 674.0h0M811.4 676.4h0M810.3 679.6h0M808.8 682.0h0M809.1 681.3h0M809.6 679.3h0M809.1 680.4h0M809.3 679.6h0M809.8 679.6h0M809.1 680.2h0M808.0 682.4h0M808.0 683.3h0M807.8 681.4h0M808.3 682.0h0M806.7 682.7h0M806.1 685.5h0M805.4 683.5h0M804.1 686.4h0M804.4 684.5h0M804.9 686.9h0M804.4 686.8h0M805.4 685.8h0M805.9 685.6h0M806.1 684.2h0M806.1 687.0h0M806.5 688.1h0M805.1 683.1h0M805.2 682.3h0M805.1 681.8h0M803.3 685.1h0M803.2 684.7h0M802.7 685.4h0M802.9 689.1h0M802.1 688.2h0M801.7 687.2h0M801.6 688.5h0M800.6 685.6h0M800.6 690.7h0M800.2 689.5h0M800.1 688.3h0M799.5 690.5h0M799.9 691.5h0M799.9 691.9h0M799.4 691.7h0M799.5 688.4h0M799.8 689.9h0M800.4 690.2h0M798.9 691.4h0M799.0 689.4h0M798.8 689.8h0M798.2 692.4h0M797.3 691.8h0M797.6 691.2h0M796.6 690.6h0M796.6 692.9h0M796.9 691.9h0M795.7 691.2h0M795.3 694.3h0M794.5 694.4h0M794.4 693.2h0M795.0 694.2h0M795.6 695.5h0M794.4 695.1h0M795.6 695.2h0M797.6 693.8h0M800.1 695.8h0M801.9 693.5h0M821.8 693.8h0M842.7 691.2h0M863.0 688.5h0M882.7 671.5h0M905.7 649.2h0M932.6 633.8h0M959.3 619.9h0M959.4 596.2h0M959.0 579.9h0M954.0 568.4h0M953.5 564.7h0M960.9 562.0h0M956.9 562.8h0M947.6 558.0h0M993.3 544.2h0M1035.5 551.0h0M1090.3 546.9h0M1096.8 513.5h0M1099.3 499.1h0M1045.9 442.4h0M1037.8 482.1h0M1028.1 485.9h0M1019.3 492.7h0M1005.5 496.7h0M991.8 489.5h0M971.3 519.1h0M949.1 506.9h0M942.1 545.6h0M936.8 552.6h0M929.5 562.7h0M925.1 557.6h0M925.5 577.2h0M927.1 594.2h0M926.1 578.3h0M919.5 581.5h0M920.6 588.3h0M922.6 588.7h0M927.5 591.3h0M929.7 584.6h0M920.0 578.5h0M910.6 590.9h0M910.6 558.3h0M905.0 586.1h0M902.2 596.1h0M899.3 588.7h0M890.0 597.4h0M885.1 583.7h0M880.5 595.5h0M876.1 612.8h0M871.6 617.0h0M866.4 621.4h0M868.3 624.2h0M866.5 622.7h0M868.3 633.8h0M868.9 620.6h0M871.7 631.0h0M873.0 629.7h0M877.2 623.7h0M874.9 635.7h0M871.0 629.7h0M867.0 618.2h0M862.4 623.3h0M856.8 626.8h0M852.0 628.2h0M846.8 636.8h0M843.3 639.9h0M840.3 648.7h0M838.2 654.8h0M833.0 646.4h0M831.5 657.0h0M827.4 658.1h0M823.7 655.9h0M820.8 658.5h0M817.5 666.8h0M815.2 670.0h0M811.9 671.5h0M812.6 676.3h0M813.7 675.1h0M816.9 678.9h0M818.7 678.3h0M819.1 676.1h0M820.9 673.2h0M820.9 668.7h0M825.1 669.1h0M822.4 675.1h0M822.3 668.9h0M822.1 670.3h0M819.6 673.3h0M819.2 668.1h0M819.5 671.8h0M819.0 673.1h0M818.1 670.1h0M817.6 673.9h0M816.1 674.9h0M814.8 672.9h0M813.0 671.3h0M811.9 674.3h0M809.4 679.7h0M808.6 679.5h0M806.6 679.5h0M803.7 677.8h0M802.0 680.7h0M801.0 682.7h0M799.3 685.0h0M796.7 688.9h0M794.8 688.7h0M792.4 690.3h0M791.7 694.3h0M791.0 695.0h0M789.6 696.7h0M789.2 698.7h0M788.3 697.8h0M787.7 699.1h0M786.8 699.3h0M786.0 701.3h0M785.4 701.3h0M785.3 701.3h0M785.2 702.4h0M784.7 703.7h0M784.8 703.3h0M784.7 702.8h0M784.2 704.0h0M784.2 703.6h0M784.2 702.7h0M784.1 704.4h0M784.1 704.4h0M784.1 704.7h0M783.9 704.7h0M783.5 703.8h0M796.9 704.5h0M810.4 705.1h0M813.3 705.3h0M806.9 693.1h0M800.4 679.2h0M795.2 679.4h0M795.3 682.7h0M795.5 690.6h0M795.4 694.3h0M795.5 694.1h0M794.9 693.8h0M794.9 694.9h0M795.4 694.6h0M795.2 694.5h0M794.3 696.2h0M794.1 694.3h0M794.2 694.2h0M793.8 694.5h0M793.0 695.7h0M793.2 695.8h0M792.2 695.9h0M792.0 697.3h0M791.5 696.7h0M790.7 697.1h0M790.9 697.4h0M800.4 698.8h0M808.7 699.0h0M818.4 700.1h0M821.1 689.0h0M822.0 683.2h0M824.6 672.9h0M828.4 673.7h0M832.7 670.5h0M832.8 666.8h0M832.7 661.8h0M833.2 664.7h0M832.6 658.0h0M834.0 661.3h0M833.7 662.7h0M846.3 659.4h0M859.4 660.5h0M857.6 660.8h0M856.8 651.3h0M860.9 636.0h0M862.1 638.5h0M861.9 640.1h0M863.2 639.9h0M929.0 637.0h0M997.5 633.0h0M1038.1 627.5h0M1053.0 579.2h0M1023.5 509.2h0M1013.9 495.4h0M991.7 497.5h0M986.0 498.3h0M988.6 524.4h0M990.4 525.5h0M995.1 522.6h0M986.5 535.6h0M986.9 531.9h0M1004.3 498.0h0M991.4 531.3h0M988.8 530.8h0M982.6 511.3h0M979.4 531.2h0M966.3 533.1h0M958.2 532.8h0M958.2 562.3h0M955.2 535.1h0M959.5 565.4h0M952.0 565.5h0M948.9 553.1h0M957.9 554.5h0M948.7 571.6h0M940.0 561.2h0M935.7 566.2h0M931.5 569.3h0M930.8 582.4h0M929.3 580.3h0M924.6 573.7h0M924.0 576.6h0M932.5 576.2h0M934.4 575.3h0M937.1 583.4h0M951.6 581.4h0M962.7 577.0h0M981.5 558.1h0M972.3 560.6h0M973.4 549.2h0M967.9 538.7h0M975.5 542.4h0M993.4 539.6h0M1009.8 548.3h0M1028.8 543.9h0M1054.2 537.0h0M1039.8 525.9h0M1019.8 497.2h0M1010.6 471.5h0M994.1 481.6h0M976.9 508.3h0M957.3 525.2h0M940.3 521.1h0M924.0 534.8h0M901.6 569.8h0M893.4 563.0h0M889.8 578.5h0M883.6 589.8h0M880.7 614.9h0M875.5 618.6h0M870.0 611.8h0M858.3 628.3h0M852.5 626.9h0M848.1 633.1h0M850.2 642.4h0M852.3 650.5h0M853.1 648.0h0M848.8 641.3h0M843.3 641.5h0M843.4 640.8h0M841.8 647.9h0M841.7 645.9h0M839.7 649.4h0M838.2 648.9h0M834.2 657.9h0M833.4 653.4h0M831.2 659.6h0M830.3 658.4h0M829.5 659.6h0M827.9 665.3h0M826.9 662.4h0M825.4 660.2h0M824.8 663.6h0M823.8 664.3h0M821.5 669.5h0M827.1 669.5h0M836.1 671.4h0M842.2 670.4h0M850.3 662.4h0M857.2 656.3h0M862.0 652.3h0M866.5 649.4h0M873.1 637.0h0M876.9 635.7h0M881.5 639.5h0M881.0 633.6h0M882.7 623.8h0M885.9 622.9h0M888.4 608.9h0M879.4 616.8h0M878.9 620.1h0M875.6 615.1h0M875.0 610.7h0M871.8 625.2h0M870.8 618.8h0M871.5 621.2h0M868.6 618.5h0M865.9 624.4h0M862.9 628.5h0M862.4 626.3h0M865.0 631.0h0M865.8 629.2h0M865.3 634.6h0M863.0 622.1h0M860.3 631.9h0M859.7 629.7h0M857.1 636.7h0M853.7 635.6h0M854.3 636.6h0M853.5 638.2h0M853.6 638.2h0M852.2 643.7h0M849.4 645.6h0M846.3 637.3h0M843.7 644.5h0M843.3 648.4h0M841.3 644.1h0M836.9 648.1h0M835.3 660.0h0M831.7 654.3h0M830.7 654.3h0M827.7 655.7h0M825.3 663.1h0M824.7 657.8h0M823.8 667.3h0M821.0 667.9h0M821.2 667.5h0M822.7 668.7h0M819.7 669.2h0M820.6 668.4h0M818.3 669.7h0M816.5 668.9h0M815.1 673.1h0M812.5 674.0h0M816.2 671.2h0M819.1 676.2h0M820.5 676.6h0M822.5 676.3h0M823.1 673.4h0M823.5 671.8h0M825.5 669.3h0M824.0 670.1h0M824.4 668.8h0M825.5 665.3h0M827.7 665.2h0M830.1 667.8h0M829.8 665.3h0M829.2 662.5h0M830.4 666.0h0M832.3 667.6h0M834.3 658.9h0M838.5 658.7h0M843.6 660.8h0M875.6 658.1h0M906.1 658.5h0M939.2 655.7h0M960.8 621.2h0M963.3 607.0h0M960.9 562.5h0M975.6 559.5h0M980.8 548.5h0M984.3 533.9h0M986.1 521.5h0M976.3 540.6h0M985.0 523.5h0M1039.2 544.3h0M1077.5 547.1h0M1118.0 470.5h0M1022.1 472.8h0M1013.6 464.2h0M995.8 467.2h0M972.2 486.2h0M960.7 496.8h0M945.3 531.4h0M935.8 550.2h0M925.2 560.7h0M923.4 573.3h0M914.1 579.6h0M909.0 573.8h0M900.4 571.5h0M892.9 595.3h0M892.6 589.2h0M888.7 610.1h0M883.0 610.4h0M875.4 614.6h0M874.4 621.1h0M871.6 616.4h0M866.0 622.7h0M861.8 626.1h0M886.7 629.0h0M910.8 635.8h0M935.0 635.4h0M964.3 617.1h0M970.0 591.9h0M970.2 583.5h0M978.2 548.5h0M976.2 541.2h0M970.3 533.3h0M968.4 528.8h0M959.5 539.6h0M946.9 552.7h0M937.1 564.5h0M924.9 554.6h0M915.7 551.4h0M899.5 557.8h0M892.3 600.4h0M882.1 594.9h0M874.3 605.2h0M863.8 615.1h0M858.4 616.4h0M853.8 623.9h0M848.1 635.4h0M852.1 638.0h0M851.4 648.2h0M852.6 650.7h0M854.7 647.0h0M851.5 640.3h0M852.5 649.3h0M851.3 642.1h0M849.6 640.8h0M848.9 643.3h0M845.5 640.8h0M842.5 648.2h0M839.8 644.6h0M839.6 645.9h0M838.9 643.5h0M838.4 651.8h0M838.5 649.5h0M834.6 655.2h0M832.3 655.3h0M831.2 650.1h0M827.9 657.2h0M827.6 656.6h0M829.4 660.0h0M831.0 658.7h0M832.5 658.2h0M832.2 666.0h0M831.7 656.4h0M833.0 659.6h0M830.4 659.7h0M829.0 662.0h0M828.8 658.2h0M826.1 665.8h0M823.4 666.0h0M821.6 666.3h0M820.5 665.8h0M819.2 666.6h0M817.4 668.7h0M816.1 670.7h0M813.6 674.1h0M812.2 678.0h0M811.9 674.6h0M810.5 677.4h0M809.0 678.2h0M807.7 676.4h0M806.8 680.8h0M806.5 682.3h0M805.6 686.8h0M805.6 683.0h0M808.4 684.3h0M809.6 686.3h0M812.0 684.5h0M813.4 684.2h0M811.3 682.3h0M810.2 675.1h0M808.5 676.3h0M808.4 677.9h0M806.5 679.4h0M806.8 681.3h0M806.2 682.2h0M803.7 680.3h0M804.2 684.2h0M805.2 683.3h0M804.2 687.2h0M804.7 687.0h0M803.1 689.1h0M803.1 689.1h0M801.9 683.5h0M801.5 685.3h0M799.6 688.1h0M797.5 688.7h0M797.3 688.2h0M797.9 691.9h0M796.8 690.5h0M796.4 693.9h0M795.6 693.0h0M794.5 696.0h0M793.9 691.9h0M793.6 694.3h0M792.0 693.7h0M791.8 696.8h0M791.5 695.8h0M790.5 697.5h0M790.7 697.6h0M791.0 696.3h0M790.0 697.1h0M790.2 697.6h0M789.6 698.8h0M789.0 698.6h0M788.9 698.2h0M788.4 699.3h0M787.9 699.9h0M788.0 700.0h0M787.9 701.3h0M787.7 701.0h0M786.9 700.1h0M786.1 701.7h0M786.1 701.3h0M785.5 701.6h0M785.3 703.4h0M784.8 702.8h0M784.5 704.0h0M784.1 703.7h0M784.2 704.5h0M783.8 704.5h0M784.2 704.7h0M784.7 704.5h0M785.5 704.8h0M785.6 705.3h0M786.1 703.2h0M786.5 703.4h0M787.2 703.7h0M787.8 703.1h0M788.1 702.2h0M788.7 702.4h0M789.1 701.5h0M789.8 701.3h0M790.3 700.1h0M790.6 700.6h0M791.1 699.2h0M791.8 698.8h0M793.3 698.9h0M793.5 697.3h0M794.1 697.7h0M795.3 697.4h0M794.6 696.0h0M794.3 695.6h0M797.4 694.7h0M801.1 695.0h0M806.7 693.1h0M810.8 692.5h0M815.7 688.7h0M819.1 684.5h0M822.5 677.7h0M826.0 676.0h0M834.1 674.7h0M864.9 672.8h0M915.3 665.3h0M948.6 657.2h0M944.2 639.3h0M950.8 595.2h0M956.1 557.3h0M950.4 557.5h0M944.1 572.9h0M946.7 561.0h0M940.5 554.1h0M936.2 571.4h0M923.1 568.6h0M918.1 574.1h0M909.9 583.5h0M903.6 583.3h0M896.2 585.4h0M892.6 603.8h0M882.9 598.9h0M878.5 598.5h0M873.8 607.4h0M871.5 611.4h0M879.4 623.5h0M895.8 617.2h0M905.8 630.4h0M913.0 608.9h0M929.7 608.9h0M961.8 602.6h0M985.0 598.1h0M1004.1 581.6h0M1000.9 557.5h0M993.9 542.0h0M989.6 524.1h0M985.1 515.1h0M972.7 518.2h0M958.9 535.0h0M945.9 521.2h0M931.2 554.0h0M919.9 564.4h0M917.5 574.9h0M910.4 572.2h0M905.4 597.3h0M907.9 598.1h0M902.7 584.6h0M895.8 585.9h0M895.8 586.4h0M889.1 609.9h0M879.8 606.1h0M876.1 600.7h0M868.5 611.1h0M861.7 628.0h0M857.0 624.4h0M851.3 637.1h0M844.6 640.4h0M838.8 629.2h0M836.1 641.4h0M836.1 655.3h0M833.1 660.2h0M830.4 656.3h0M831.4 659.7h0M828.4 658.7h0M828.2 664.7h0M827.5 662.5h0M826.7 663.9h0M824.5 667.6h0M825.0 670.4h0M825.7 669.2h0M826.6 669.8h0M826.3 668.2h0M826.2 667.2h0M826.1 666.4h0M822.8 665.1h0M822.8 668.9h0M821.2 662.8h0M818.8 664.3h0M816.9 668.7h0M817.4 670.6h0M820.7 670.2h0M820.8 673.4h0M823.3 674.0h0M825.5 671.9h0M827.7 673.1h0M829.5 672.0h0M830.0 665.4h0M829.7 661.9h0M826.8 666.6h0M824.8 663.4h0M822.6 662.8h0M820.4 667.2h0M819.8 669.8h0M818.7 670.8h0M816.3 676.2h0M814.0 672.4h0M812.4 674.0h0M812.0 670.5h0M810.7 675.5h0M809.4 679.6h0M807.6 679.2h0M805.9 677.1h0M804.5 678.6h0M802.7 683.0h0M803.3 685.2h0M802.1 688.3h0M801.2 688.4h0M801.5 687.6h0M801.0 689.4h0M800.3 686.9h0M799.2 691.4h0M797.7 689.7h0M797.3 689.6h0M797.4 690.6h0M796.2 690.5h0M796.7 694.3h0M795.7 693.6h0M795.1 693.7h0M795.1 693.3h0M794.9 694.6h0M794.9 695.6h0M794.2 693.7h0M793.5 696.0h0M792.5 695.6h0M791.9 694.2h0M791.4 694.6h0M790.8 696.4h0M791.0 698.4h0M790.7 698.8h0M789.9 699.3h0M791.0 699.4h0M790.7 699.1h0M790.3 698.5h0M790.9 698.3h0M791.3 699.3h0M790.8 699.6h0M790.3 699.4h0M790.0 697.2h0M790.5 700.1h0M790.4 698.9h0M790.1 700.3h0M790.1 699.7h0M790.6 700.1h0M790.0 698.6h0M789.9 699.3h0M789.4 696.6h0M790.3 700.1h0M790.9 700.2h0M793.1 699.4h0M794.8 698.7h0M797.0 698.8h0M797.6 698.3h0M799.6 693.6h0M800.6 692.6h0M801.6 692.2h0M802.2 691.5h0M803.0 689.0h0M804.4 689.7h0M805.9 688.4h0M806.9 688.0h0M807.0 684.4h0M808.5 685.7h0M809.2 684.6h0M811.1 682.0h0M811.0 682.1h0M809.4 681.9h0M810.1 680.5h0M812.4 678.4h0M812.9 682.8h0M812.7 680.1h0M813.6 674.7h0M813.9 677.7h0M814.2 680.2h0M813.5 680.2h0M813.5 677.3h0M813.5 679.8h0M812.8 681.0h0M811.8 679.5h0M812.1 680.1h0M815.0 676.8h0M817.4 682.1h0M819.7 676.0h0M822.0 678.2h0M826.8 674.2h0M828.4 670.9h0M846.9 669.9h0M879.7 664.2h0M925.3 667.4h0M975.8 656.4h0M1035.5 621.0h0M1092.0 594.7h0M1110.3 428.4h0M1075.9 442.9h0M1076.8 433.2h0M1070.3 465.4h0M1079.2 450.0h0M1067.6 451.3h0M1070.3 469.6h0M1056.1 464.0h0M1046.4 465.5h0M1030.4 448.8h0M1008.9 466.1h0M1000.4 487.0h0M991.2 497.7h0M988.7 498.3h0M976.0 541.4h0M970.0 524.7h0M960.8 542.0h0M952.4 528.0h0M941.7 551.7h0M941.2 555.1h0M927.9 570.1h0M919.0 568.8h0M910.2 562.5h0M906.3 566.1h0M901.6 596.3h0M896.8 597.4h0M893.5 567.5h0M883.0 595.0h0M877.7 605.4h0M869.5 604.8h0M865.4 630.8h0M861.1 612.2h0M857.8 627.5h0M856.6 638.3h0M858.2 630.0h0M857.6 641.1h0M856.3 643.8h0M857.0 635.7h0M851.7 636.8h0M844.9 641.7h0M841.9 639.4h0M839.1 649.1h0M838.7 655.0h0M839.3 649.3h0M833.9 650.4h0M834.5 653.9h0M834.9 653.6h0M833.9 660.9h0M832.2 659.5h0M833.4 661.7h0M830.9 654.0h0M827.9 662.9h0M826.1 658.8h0M822.5 662.3h0M821.3 668.7h0M819.4 661.2h0M818.1 670.7h0M816.7 672.7h0M814.0 672.3h0M813.7 675.7h0M811.1 674.9h0M810.4 679.3h0M807.5 676.5h0M806.4 679.9h0M805.8 683.1h0M805.9 681.6h0M805.5 684.1h0M804.1 686.7h0M803.7 684.3h0M804.1 684.5h0M804.9 683.6h0M804.1 688.2h0M803.0 685.2h0M802.9 685.9h0M803.3 685.6h0M803.6 688.0h0M803.7 687.8h0M805.1 686.6h0M806.4 688.8h0M805.3 689.8h0M802.9 685.7h0M801.3 685.1h0M799.5 685.3h0M797.0 686.7h0M795.9 689.4h0M795.8 689.3h0M795.4 693.1h0M796.0 694.0h0M796.1 693.3h0M798.1 693.9h0M800.4 694.1h0M802.3 693.7h0M802.8 692.9h0M804.0 690.8h0M806.3 688.1h0M807.2 686.6h0M806.0 687.2h0M805.2 683.0h0M805.0 680.2h0M804.5 681.1h0M803.6 685.5h0M801.9 684.1h0M801.0 685.2h0M799.8 685.8h0M798.3 687.4h0M797.6 688.7h0M796.3 689.4h0M794.5 691.7h0M793.8 692.8h0M794.3 693.4h0M795.3 694.8h0M795.2 694.8h0M796.0 695.1h0M796.3 693.8h0M795.0 693.2h0M793.3 694.9h0M793.6 694.0h0M792.6 694.4h0M791.9 696.3h0M791.4 697.0h0M790.4 696.1h0M789.6 697.7h0M788.2 698.8h0M787.3 697.5h0M787.1 700.5h0M787.2 700.9h0M787.1 702.0h0M786.6 701.8h0M786.1 701.5h0M785.8 702.3h0M786.0 702.3h0M786.1 702.8h0M786.1 703.5h0M785.5 702.2h0M784.7 702.6h0M784.5 702.8h0M784.3 703.5h0M784.0 704.0h0M783.9 704.1h0M783.6 704.5h0M783.2 704.0h0M782.9 705.6h0M782.7 705.6h0M783.6 705.3h0M784.4 706.1h0M785.8 705.7h0M786.5 705.2h0M787.4 703.9h0M786.8 702.8h0M786.4 701.6h0M786.3 701.0h0M786.1 701.4h0M785.8 702.1h0M785.6 702.0h0M785.2 702.4h0M784.5 703.3h0M783.6 703.8h0M783.9 704.0h0M787.4 703.9h0M790.8 705.7h0M793.4 704.6h0M793.3 702.0h0M794.4 698.0h0M793.6 696.1h0M794.0 697.0h0M794.9 695.4h0M795.4 698.1h0M796.3 695.5h0M796.6 694.5h0M798.2 696.2h0M797.8 692.8h0M797.9 693.6h0M798.9 691.7h0M800.7 693.8h0M801.4 691.5h0M802.9 690.6h0M803.2 689.7h0M803.2 690.3h0M804.2 686.5h0M805.2 685.5h0M806.1 686.8h0M805.3 684.9h0M804.2 686.4h0M844.0 684.4h0M847.0 684.7h0M851.6 686.2h0M856.0 639.3h0M852.3 646.1h0M852.2 645.9h0M851.7 636.1h0M851.3 647.3h0M850.6 641.5h0M849.5 640.3h0M850.0 645.8h0M901.6 645.8h0M929.9 649.1h0M930.6 644.5h0M935.9 605.1h0M933.5 562.7h0M923.6 571.5h0M924.9 574.4h0M922.8 585.6h0M925.2 565.7h0M918.0 570.9h0M911.1 579.4h0M905.3 579.5h0M898.5 585.7h0M890.5 596.0h0M879.2 583.9h0M879.9 601.8h0M871.0 618.3h0M865.9 622.9h0M863.0 632.1h0M859.0 623.0h0M855.2 627.0h0M851.4 624.6h0M848.1 626.8h0M845.4 643.6h0M847.1 641.8h0M841.4 642.6h0M838.3 646.0h0M834.4 649.4h0M830.6 649.8h0M828.1 653.7h0M827.0 654.5h0M825.0 662.5h0M823.2 665.3h0M823.3 666.9h0M823.0 668.4h0M824.4 670.9h0M824.3 669.8h0M823.2 667.9h0" stroke="#000" stroke-width="5.8" stroke-linecap="round" fill="none"/>
<path d="M849.8 640.9h4.9M849.8 644.7h4.9M812.9 667.5h4.9M831.4 656.1h4.9M812.9 678.9h4.9M826.7 656.1h4.9M794.5 698.0h4.9" stroke="#7bff7b" stroke-width="4.11" fill="none"/>
<path d="M854.4 644.7h4.9M951.3 564.8h4.9M960.5 561.0h4.9M955.9 561.0h4.9M946.7 557.2h4.9M1002.1 496.3h4.9M969.8 519.1h4.9M919.0 580.0h4.9M919.0 587.6h4.9M928.2 583.8h4.9M900.6 595.2h4.9M895.9 587.6h4.9M868.3 625.6h4.9M868.3 621.8h4.9M868.3 629.5h4.9M872.9 621.8h4.9M859.0 621.8h4.9M822.1 656.1h4.9M817.5 659.9h4.9M817.5 678.9h4.9M799.1 678.9h4.9M789.8 690.3h4.9M803.7 694.1h4.9M817.5 682.7h4.9M826.7 675.1h4.9M831.4 663.7h4.9M859.0 637.1h4.9M859.0 640.9h4.9M988.2 496.3h4.9M988.2 522.9h4.9M983.6 534.3h4.9M988.2 530.5h4.9M955.9 534.3h4.9M946.7 553.3h4.9M932.9 564.8h4.9M923.6 572.4h4.9M854.4 629.5h4.9M849.8 652.3h4.9M822.1 659.9h4.9M877.5 621.8h4.9M859.0 625.6h4.9M859.0 633.3h4.9M983.6 522.9h4.9M909.8 580.0h4.9M882.1 595.2h4.9M872.9 606.6h4.9M826.7 648.5h4.9M803.7 675.1h4.9M808.3 686.5h4.9M914.4 572.4h4.9M900.6 583.8h4.9M905.2 599.0h4.9M877.5 606.6h4.9M817.5 663.7h4.9M854.4 640.9h4.9M789.8 705.6h4.9" stroke="#002aff" stroke-width="4.11" fill="none"/>
<path d="M854.4 637.1h4.9M845.2 637.1h4.9M845.2 644.7h4.9M826.7 667.5h4.9M863.7 621.8h4.9M854.4 625.6h4.9M799.1 682.7h4.9M974.4 541.9h4.9M849.8 648.5h4.9M803.7 690.3h4.9" stroke="#00d4ff" stroke-width="4.11" fill="none"/>
<path d="M845.2 640.9h4.9M836.0 644.7h4.9M840.6 640.9h4.9M836.0 648.5h4.9M817.5 675.1h4.9M785.2 705.6h4.9" stroke="#c0ff37" stroke-width="4.11" fill="none"/>
<path d="M831.4 652.3h4.9M826.7 671.3h4.9M868.3 618.0h4.9M822.1 675.1h4.9" stroke="#37ffc0" stroke-width="4.11" fill="none"/>
<path d="M831.4 659.9h4.9M826.7 663.7h4.9M822.1 667.5h4.9M822.1 663.7h4.9M817.5 667.5h4.9M817.5 671.3h4.9M808.3 678.9h4.9M803.7 682.7h4.9M803.7 686.5h4.9M799.1 686.5h4.9M799.1 690.3h4.9M794.5 690.3h4.9M794.5 694.1h4.9M789.8 694.1h4.9M785.2 698.0h4.9M785.2 701.8h4.9M780.6 705.6h4.9M789.8 698.0h4.9" stroke="#800000" stroke-width="4.11" fill="none"/>
<path d="M826.7 659.9h4.9M808.3 675.1h4.9M780.6 701.8h4.9" stroke="#e00000" stroke-width="4.11" fill="none"/>
<path d="M826.7 652.3h4.9M808.3 671.3h4.9M923.6 576.2h4.9M872.9 614.2h4.9M872.9 637.1h4.9M836.0 656.1h4.9M831.4 667.5h4.9M868.3 610.4h4.9M849.8 625.6h4.9M840.6 648.5h4.9M840.6 644.7h4.9M886.7 610.4h4.9M859.0 629.5h4.9M863.7 629.5h4.9M891.3 587.6h4.9M812.9 682.7h4.9M794.5 686.5h4.9M937.5 553.3h4.9" stroke="#0080ff" stroke-width="4.11" fill="none"/>
<path d="M812.9 675.1h4.9M822.1 671.3h4.9M849.8 637.1h4.9M789.8 701.8h4.9" stroke="#ffe600" stroke-width="4.11" fill="none"/>
<path d="M808.3 682.7h4.9M812.9 671.3h4.9M803.7 678.9h4.9" stroke="#ff4800" stroke-width="4.11" fill="none"/>
<path d="M799.1 694.1h4.9" stroke="#ff9700" stroke-width="4.11" fill="none"/>
<path d="M817.5 694.1h4.9M840.6 690.3h4.9M859.0 690.3h4.9M882.1 671.3h4.9M905.2 648.5h4.9M928.2 633.3h4.9M955.9 618.0h4.9M955.9 595.2h4.9M955.9 580.0h4.9M951.3 568.6h4.9M992.8 545.7h4.9M1034.3 549.5h4.9M1089.7 545.7h4.9M1094.3 515.3h4.9M1098.9 500.1h4.9M1043.6 443.0h4.9M1034.3 481.0h4.9M1025.1 484.9h4.9M1015.9 492.5h4.9M988.2 488.7h4.9M946.7 507.7h4.9M942.1 545.7h4.9M932.9 553.3h4.9M928.2 561.0h4.9M923.6 557.2h4.9M923.6 595.2h4.9M923.6 580.0h4.9M923.6 591.4h4.9M909.8 591.4h4.9M909.8 557.2h4.9M900.6 587.6h4.9M886.7 599.0h4.9M882.1 583.8h4.9M877.5 595.2h4.9M868.3 633.3h4.9M872.9 629.5h4.9M863.7 618.0h4.9M849.8 629.5h4.9M831.4 644.7h4.9M794.5 705.6h4.9M808.3 705.6h4.9M812.9 705.6h4.9M794.5 678.9h4.9M794.5 682.7h4.9M799.1 698.0h4.9M808.3 698.0h4.9M817.5 701.8h4.9M817.5 690.3h4.9M831.4 671.3h4.9M845.2 659.9h4.9M859.0 659.9h4.9M854.4 659.9h4.9M854.4 652.3h4.9M928.2 637.1h4.9M997.4 633.3h4.9M1034.3 625.6h4.9M1052.8 580.0h4.9M1020.5 507.7h4.9M1011.3 496.3h4.9M983.6 500.1h4.9M988.2 526.7h4.9M992.8 522.9h4.9M983.6 530.5h4.9M979.0 511.5h4.9M979.0 530.5h4.9M965.1 534.3h4.9M951.3 534.3h4.9M955.9 564.8h4.9M955.9 553.3h4.9M946.7 572.4h4.9M937.5 561.0h4.9M928.2 568.6h4.9M928.2 580.0h4.9M928.2 576.2h4.9M932.9 576.2h4.9M932.9 583.8h4.9M951.3 580.0h4.9M960.5 576.2h4.9M979.0 557.2h4.9M969.8 561.0h4.9M969.8 549.5h4.9M965.1 538.1h4.9M992.8 538.1h4.9M1006.7 549.5h4.9M1025.1 545.7h4.9M1052.8 538.1h4.9M1039.0 526.7h4.9M1015.9 496.3h4.9M1006.7 469.6h4.9M992.8 481.0h4.9M974.4 507.7h4.9M955.9 526.7h4.9M937.5 522.9h4.9M923.6 534.3h4.9M900.6 568.6h4.9M891.3 564.8h4.9M886.7 580.0h4.9M882.1 591.4h4.9M877.5 614.2h4.9M872.9 618.0h4.9M845.2 633.3h4.9M836.0 671.3h4.9M840.6 671.3h4.9M849.8 663.7h4.9M854.4 656.1h4.9M859.0 652.3h4.9M863.7 648.5h4.9M877.5 640.9h4.9M877.5 633.3h4.9M882.1 625.6h4.9M882.1 621.8h4.9M877.5 618.0h4.9M872.9 610.4h4.9M863.7 625.6h4.9M863.7 633.3h4.9M836.0 659.9h4.9M840.6 659.9h4.9M872.9 659.9h4.9M905.2 659.9h4.9M937.5 656.1h4.9M960.5 621.8h4.9M960.5 606.6h4.9M974.4 561.0h4.9M979.0 549.5h4.9M1039.0 545.7h4.9M1075.9 545.7h4.9M1117.4 469.6h4.9M1020.5 473.4h4.9M1011.3 465.8h4.9M992.8 465.8h4.9M969.8 484.9h4.9M960.5 496.3h4.9M942.1 530.5h4.9M932.9 549.5h4.9M923.6 561.0h4.9M919.0 572.4h4.9M905.2 572.4h4.9M895.9 572.4h4.9M891.3 595.2h4.9M882.1 610.4h4.9M882.1 629.5h4.9M909.8 637.1h4.9M932.9 637.1h4.9M960.5 618.0h4.9M969.8 591.4h4.9M969.8 583.8h4.9M974.4 549.5h4.9M969.8 534.3h4.9M965.1 530.5h4.9M955.9 538.1h4.9M923.6 553.3h4.9M914.4 549.5h4.9M895.9 557.2h4.9M891.3 599.0h4.9M863.7 614.2h4.9M854.4 618.0h4.9M854.4 648.5h4.9M836.0 652.3h4.9M808.3 694.1h4.9M812.9 690.3h4.9M822.1 678.9h4.9M831.4 675.1h4.9M863.7 671.3h4.9M914.4 663.7h4.9M946.7 656.1h4.9M942.1 640.9h4.9M946.7 595.2h4.9M955.9 557.2h4.9M942.1 572.4h4.9M942.1 561.0h4.9M932.9 572.4h4.9M919.0 568.6h4.9M909.8 583.8h4.9M895.9 583.8h4.9M891.3 602.8h4.9M882.1 599.0h4.9M877.5 599.0h4.9M891.3 618.0h4.9M905.2 629.5h4.9M909.8 610.4h4.9M928.2 610.4h4.9M960.5 602.8h4.9M983.6 599.0h4.9M1002.1 580.0h4.9M997.4 557.2h4.9M992.8 541.9h4.9M983.6 515.3h4.9M942.1 522.9h4.9M928.2 553.3h4.9M919.0 564.8h4.9M914.4 576.2h4.9M909.8 572.4h4.9M872.9 599.0h4.9M836.0 629.5h4.9M836.0 640.9h4.9M845.2 671.3h4.9M877.5 663.7h4.9M923.6 667.5h4.9M974.4 656.1h4.9M1034.3 621.8h4.9M1089.7 595.2h4.9M1108.2 427.8h4.9M1075.9 443.0h4.9M1075.9 431.6h4.9M1066.6 465.8h4.9M1075.9 450.6h4.9M1066.6 450.6h4.9M1066.6 469.6h4.9M1052.8 465.8h4.9M1043.6 465.8h4.9M1029.7 450.6h4.9M1006.7 465.8h4.9M997.4 488.7h4.9M988.2 500.1h4.9M969.8 522.9h4.9M960.5 541.9h4.9M951.3 526.7h4.9M923.6 568.6h4.9M914.4 568.6h4.9M909.8 561.0h4.9M905.2 564.8h4.9M895.9 599.0h4.9M891.3 568.6h4.9M868.3 606.6h4.9M859.0 610.4h4.9M840.6 682.7h4.9M845.2 686.5h4.9M849.8 686.5h4.9M900.6 644.7h4.9M928.2 648.5h4.9M928.2 644.7h4.9M932.9 606.6h4.9M932.9 561.0h4.9M919.0 583.8h4.9M923.6 564.8h4.9M905.2 580.0h4.9M886.7 595.2h4.9M877.5 583.8h4.9M877.5 602.8h4.9M854.4 621.8h4.9M845.2 625.6h4.9M831.4 648.5h4.9" stroke="#0000e0" stroke-width="4.11" fill="none"/>
<path d="M776.0,711.27L1122.00,425.87" stroke="#000" stroke-width="2.9" stroke-dasharray="11.1,4.8"/>
<path d="M780.33,700.17L1122.00,445.96" stroke="#ff0000" stroke-width="3.3"/>
</g>
<rect x="776.0" y="425.87" width="346.0" height="285.4" fill="none" stroke="#000" stroke-width="1.9"/>
<text transform="translate(776.00,738.87) scale(1,1.08)" text-anchor="middle" style="font-family:'Liberation Serif',serif;font-size:28px">0</text>
<text transform="translate(768.7,721.17) scale(1,1.08)" text-anchor="end" style="font-family:'Liberation Serif',serif;font-size:28px">0</text>
<text transform="translate(862.50,738.87) scale(1,1.08)" text-anchor="middle" style="font-family:'Liberation Serif',serif;font-size:28px">2000</text>
<text transform="translate(768.7,649.82) scale(1,1.08)" text-anchor="end" style="font-family:'Liberation Serif',serif;font-size:28px">2000</text>
<text transform="translate(949.00,738.87) scale(1,1.08)" text-anchor="middle" style="font-family:'Liberation Serif',serif;font-size:28px">4000</text>
<text transform="translate(768.7,578.47) scale(1,1.08)" text-anchor="end" style="font-family:'Liberation Serif',serif;font-size:28px">4000</text>
<text transform="translate(1035.50,738.87) scale(1,1.08)" text-anchor="middle" style="font-family:'Liberation Serif',serif;font-size:28px">6000</text>
<text transform="translate(768.7,507.12) scale(1,1.08)" text-anchor="end" style="font-family:'Liberation Serif',serif;font-size:28px">6000</text>
<path d="M776.00,711.27v4 M776.0,711.27h-4 M862.50,711.27v4 M776.0,639.92h-4 M949.00,711.27v4 M776.0,568.57h-4 M1035.50,711.27v4 M776.0,497.22h-4" stroke="#000" stroke-width="1.5"/>
<text x="949" y="765.87" text-anchor="middle" style="font-family:'Liberation Serif',serif;font-size:24.3px">Observed(m³/s)</text>
<text transform="translate(704,568.57) rotate(-90)" text-anchor="middle" style="font-family:'Liberation Serif',serif;font-size:24.3px">Forecasted(m³/s)</text>
<text transform="translate(797.6,461.47) scale(0.93,1)" style="font-family:'Liberation Sans',sans-serif;font-size:28.5px;font-style:italic;stroke-width:0.9px">R</text>
<text x="819" y="451.27" style="font-family:'Liberation Sans',sans-serif;font-size:20px;stroke-width:0.6px">2</text>
<path d="M840,448.17h18v2.8h-18z M840,453.87h18v2.8h-18z" fill="#000"/>
<text transform="translate(865.4,461.47) scale(0.955,1.04)" style="font-family:'Liberation Serif',serif;font-size:29px">0.91</text>
<text transform="translate(798,497.47) scale(0.95,1)" style="font-family:'Liberation Sans',sans-serif;font-size:29px;font-style:italic;stroke-width:0.9px">y</text>
<path d="M821.7,484.17h18.3v2.8h-18.3z M821.7,489.87h18.3v2.8h-18.3z" fill="#000"/>
<text transform="translate(847.6,497.47) scale(0.955,1.04)" style="font-family:'Liberation Serif',serif;font-size:29px">0.902<tspan style="font-family:'Liberation Sans',sans-serif;font-style:italic;font-size:29px;stroke-width:0.9px">x</tspan>+221</text>
<rect x="1143.5" y="425.87" width="14.8" height="285.4" fill="url(#jet)" stroke="#000" stroke-width="1.6"/>
<text x="1165.3" y="719.07" style="font-family:'Liberation Serif',serif;font-size:23px">0</text>
<text x="1165.3" y="647.72" style="font-family:'Liberation Serif',serif;font-size:23px">3</text>
<text x="1165.3" y="576.37" style="font-family:'Liberation Serif',serif;font-size:23px">6</text>
<text x="1165.3" y="505.02" style="font-family:'Liberation Serif',serif;font-size:23px">9</text>
<text x="1165.3" y="433.67" style="font-family:'Liberation Serif',serif;font-size:23px">&gt;12</text>
<path d="M1158.3,711.27h4 M1158.3,639.92h4 M1158.3,568.57h4 M1158.3,497.22h4 M1158.3,425.87h4" stroke="#000" stroke-width="1.5"/>
<text x="1151" y="417.07" text-anchor="middle" style="font-family:'Liberation Serif',serif;font-size:28px">Counts</text>
<text x="2.4" y="970.2" style="font-family:'Liberation Serif',serif;font-size:24.1px">5-day ahead</text>
<g clip-path="url(#cl2)">
<polyline points="254,1059 256.9,1061.8 259.4,1070.2 262.3,1072 266,1077.6 269.9,1079.5 274.3,1080.4 279,1082.6 287.4,1085.1 288.8,1082.3 290.2,1046.9 291.3,1013.4 293.1,1011.5 293.9,1014.3 295,963.1 296.1,951.9 296.6,916.5 297.1,870 297.9,836.1 298.2,830.4 298.6,838 299.3,858.9 300,884.9 301.1,944.5 303.3,981.7 305.1,1018.9 306.6,1024.5 309.5,1025.5 311.6,1045 313.8,1056.2 316.4,1048.7 319.2,1063.6 322.9,1076.7 325.8,1071.1 328.7,1074.8 331.6,1079.8 334.1,1086.1 338.5,1089.2 342.1,1089.6 343,1074.1 344.1,1084.7 346.8,1085.4 351.1,1086.8 352.2,1074.8 354.1,1067.7 356.2,1068.4 356.9,1057.9 359.1,1055.7 359.9,997.1 360.4,967.4 361.7,997.1 363.1,992.9 366.7,1009.9 368.2,1016.9 370.4,1026.8 372.2,1029.7 373.6,1002.7 374.9,1015.5 376.5,980.1 378,1004.1 380.1,1039.5 383,1060.7 385.2,1063.5 388.1,1069.1 390.7,1073.4 393.6,1050.8 395.4,1043.7 397.9,1050.8 399.4,1056.4 400.8,1053.6 403.4,1060.7 407.7,1069.1 412,1076.2 413.9,1071.2 417.5,1069.1 418.9,1064.9 420.4,1011.2 421.8,1007 423.3,999.9 424.4,942 425.5,941.3 426.9,950.5 427.6,971.7 429.1,997.1 430.5,1019.7 432.7,1039.5 435.6,1055.7 437.1,1007 438.1,1002.7 439.6,1014.1 441.8,1043.7 443.9,1062.8 445.4,1057.8 448.3,1063.5 451.2,1069.1 453.7,1069.1 457.4,1076.2 461,1079 462.4,1076.9 465.3,1080.4 467.9,1081.1 472.2,1086.1 476.6,1088.2 481.3,1089.6 484.9,1087.5 489.3,1084.7 491.4,1074.8 492.7,1064.9 493.4,1015.5 494.2,1014.1 496.1,1018.3 497.6,1033.8 500.1,1049.4 501.9,1025.3 503,992.9 504.1,997.1 506.3,1032.4 510.3,1053.6 512.1,1064.9 515,1072 517.2,1072 520.1,1076.2 522.6,1068.4 525.5,1074.8 528.4,1080.4 532.8,1084 538.2,1086.1 544.7,1086.8 547.3,1081.1 551.6,1076.9 556,1076.9 558.1,1072 558.7,1060.7 559.4,1025.3 560.1,980.1 560.8,951.9 562.5,934.9 563.6,951.9 565.8,957.5 567.2,994.4 569.4,1014.1 571.5,1036.6 574.5,1053.6 577,1059.2 579.9,1069.1 582.8,1073.4 586.4,1079.7 590.4,1079.7 591.8,1079.2 594,1084.1 595.5,1084.5 598,1079.6 602.7,1085.9 604.5,1084.1 608.2,1088.1 611.8,1088.6 615,1089.9 616.9,1088.1 620.5,1089.5 621.6,1085 625.2,1083.6 627.7,1081 629.5,1081 629.9,1063 631,1058.5 632.1,1059.4 633.5,1060.8 634.1,1027 635,1023 636.8,1027 639,1045 641.9,1063 644.8,1072 647.5,1074.2" fill="none" stroke="#0000ff" stroke-width="2.3" stroke-linejoin="round" stroke-linecap="butt"/>
<polyline points="254,1059 255.1,1059 258,1061.8 260.5,1070.2 263.4,1072 267,1077.6 271,1079.5 275.3,1080.4 280,1082.6 288.3,1085.1 289.7,1082.3 291.2,1046.9 292.3,1013.4 294.1,1011.5 294.8,1014.3 295.9,963.1 297,954.8 297.5,925.6 298,888.5 298.8,868.1 299.1,868.6 299.5,869.8 300.2,878.3 301,893.5 302.1,944.5 304.3,981.7 306.2,1018.9 307.6,1024.5 310.6,1025.5 312.8,1045 315,1056.2 317.6,1048.7 320.6,1063.6 324.3,1076.7 327.2,1071.1 330.1,1074.8 333,1079.8 335.5,1086.1 339.8,1089.2 343.4,1089.6 344.3,1074.1 345.4,1084.7 348.1,1085.4 352.4,1086.8 353.5,1074.8 355.3,1067.7 357.5,1068.4 358.2,1057.9 360.3,1052.9 361.1,984 361.6,945.1 362.9,988.8 364.3,992.9 367.9,1009.9 369.3,1016.9 371.5,1026.8 373.3,1029.7 374.7,1002.7 376,1016.3 377.6,983.2 379.1,1005.2 381.3,1039.5 384.2,1060.7 386.4,1063.5 389.4,1069.1 392,1073.4 394.9,1050.8 396.7,1043.7 399.3,1050.8 400.8,1056.4 402.3,1053.6 404.8,1060.7 409.2,1069.1 413.7,1076.2 415.5,1071.2 419.2,1069.1 420.7,1064.9 422.1,1011.2 423.6,1007 425.1,1000.2 426.2,943.9 427.3,944.6 428.7,951.9 429.4,972.1 430.9,997.1 432.3,1019.7 434.5,1039.5 437.4,1055.7 438.8,1007 439.9,1002.7 441.4,1014.1 443.5,1043.7 445.7,1062.8 447.1,1057.8 450,1063.5 452.9,1069.1 455.4,1069.1 459,1076.2 462.7,1079 464.1,1076.9 467,1080.4 469.5,1081.1 473.9,1086.1 478.3,1088.2 483.1,1089.6 486.8,1087.5 491.2,1084.7 493.4,1074.5 494.7,1062.5 495.4,1003.7 496.1,1005.7 498,1018.3 499.4,1033.8 501.8,1049.4 503.5,1024 504.5,989.3 505.6,995.2 507.8,1032.4 511.8,1053.6 513.6,1064.9 516.5,1072 518.7,1072 521.6,1076.2 524.1,1068.4 527,1074.8 529.9,1080.4 534.3,1084 539.8,1086.1 546.3,1086.8 548.8,1081.1 553.2,1076.9 557.6,1076.9 559.8,1072 560.3,1060.7 561,1025.3 561.8,980.3 562.4,952.9 564.1,938.3 565.2,953.7 567.4,957.5 568.8,994.4 571,1014.1 573.2,1036.6 576.1,1053.6 578.7,1059.2 581.6,1069.1 584.5,1073.4 588.1,1079.7 592.1,1079.7 593.6,1079.2 595.7,1084.1 597.2,1084.5 599.7,1079.6 604.5,1085.9 606.3,1084.1 609.9,1088.1 613.5,1088.6 616.8,1089.9 618.6,1088.1 622.3,1089.5 623.4,1085 627,1083.6 629.5,1081 631.3,1081 631.7,1063 632.8,1058.5 633.9,1059.4 635.3,1059.9 635.9,1024 636.8,1018 638.6,1025.7 640.8,1045 643.7,1063 646.6,1072 647.5,1072.8" fill="none" stroke="#ff0000" stroke-width="2.3" stroke-linejoin="round" stroke-linecap="butt"/>
</g>
<rect x="234.5" y="817.94" width="432.70" height="285.4" fill="none" stroke="#000" stroke-width="1.9"/>
<text transform="translate(230.7,1103.04) scale(1,1.08)" text-anchor="end" style="font-family:'Liberation Serif',serif;font-size:28px">0</text>
<text transform="translate(230.7,1045.91) scale(1,1.08)" text-anchor="end" style="font-family:'Liberation Serif',serif;font-size:28px">3000</text>
<text transform="translate(230.7,988.79) scale(1,1.08)" text-anchor="end" style="font-family:'Liberation Serif',serif;font-size:28px">6000</text>
<text transform="translate(230.7,931.66) scale(1,1.08)" text-anchor="end" style="font-family:'Liberation Serif',serif;font-size:28px">9000</text>
<text transform="translate(230.7,874.54) scale(1,1.08)" text-anchor="end" style="font-family:'Liberation Serif',serif;font-size:28px">12000</text>
<text transform="translate(254.00,1127.04) scale(1,1.08)" text-anchor="middle" style="font-family:'Liberation Serif',serif;font-size:28px">0</text>
<text transform="translate(326.50,1127.04) scale(1,1.08)" text-anchor="middle" style="font-family:'Liberation Serif',serif;font-size:28px">200</text>
<text transform="translate(399.00,1127.04) scale(1,1.08)" text-anchor="middle" style="font-family:'Liberation Serif',serif;font-size:28px">400</text>
<text transform="translate(471.50,1127.04) scale(1,1.08)" text-anchor="middle" style="font-family:'Liberation Serif',serif;font-size:28px">600</text>
<text transform="translate(544.00,1127.04) scale(1,1.08)" text-anchor="middle" style="font-family:'Liberation Serif',serif;font-size:28px">800</text>
<text transform="translate(616.50,1127.04) scale(1,1.08)" text-anchor="middle" style="font-family:'Liberation Serif',serif;font-size:28px">1000</text>
<path d="M234.5,1093.14h4 M234.5,1036.01h4 M234.5,978.89h4 M234.5,921.76h4 M234.5,864.64h4 M254.00,1103.34v-4 M326.50,1103.34v-4 M399.00,1103.34v-4 M471.50,1103.34v-4 M544.00,1103.34v-4 M616.50,1103.34v-4" stroke="#000" stroke-width="1.5"/>
<text x="450.85" y="1153.94" text-anchor="middle" style="font-family:'Liberation Serif',serif;font-size:24.3px">Time(day)</text>
<text transform="translate(153.1,960.64) rotate(-90)" text-anchor="middle" style="font-family:'Liberation Serif',serif;font-size:24.3px">Streamflow(m³/s)</text>
<rect x="518.7" y="826.84" width="139.6" height="54.7" rx="2.5" fill="#fff" fill-opacity="0.8" stroke="#cccccc" stroke-width="1.2"/>
<path d="M524.4,839.84H562" stroke="#0000ff" stroke-width="2.3"/>
<path d="M524.4,864.84H562" stroke="#ff0000" stroke-width="2.3"/>
<text x="574.8" y="845.84" style="font-family:'Liberation Serif',serif;font-size:17.8px">Observed</text>
<text x="574.8" y="870.44" style="font-family:'Liberation Serif',serif;font-size:17.8px">Forecasted</text>
<g clip-path="url(#cr2)">
<path d="M853.5 1031.2h0M852.7 1026.1h0M854.6 1027.5h0M855.7 1030.3h0M853.2 1040.0h0M851.4 1030.6h0M849.3 1027.8h0M849.4 1039.9h0M848.3 1038.0h0M846.7 1039.3h0M840.5 1041.2h0M840.4 1039.2h0M837.3 1042.3h0M835.3 1036.6h0M832.1 1045.9h0M828.6 1046.2h0M828.6 1047.9h0M829.0 1052.6h0M827.9 1045.6h0M827.0 1053.0h0M827.2 1054.2h0M825.3 1057.5h0M822.9 1053.2h0M823.1 1054.6h0M821.2 1058.3h0M818.1 1063.6h0M816.6 1056.2h0M815.4 1059.0h0M813.6 1060.6h0M811.6 1062.1h0M811.2 1065.3h0M811.4 1066.5h0M810.3 1070.8h0M808.8 1069.8h0M809.1 1070.6h0M809.6 1073.4h0M809.1 1074.1h0M809.3 1067.7h0M809.8 1072.6h0M809.1 1074.5h0M808.0 1074.5h0M808.0 1079.5h0M807.8 1076.8h0M808.3 1073.7h0M806.7 1070.6h0M806.1 1079.1h0M805.4 1076.4h0M804.1 1070.4h0M804.4 1073.0h0M804.9 1075.2h0M804.4 1074.0h0M805.4 1077.6h0M805.9 1078.9h0M806.1 1076.8h0M806.1 1076.0h0M806.5 1080.3h0M805.1 1073.9h0M805.2 1080.3h0M805.1 1078.1h0M803.3 1069.2h0M803.2 1077.3h0M802.7 1076.2h0M802.9 1079.5h0M802.1 1078.3h0M801.7 1080.6h0M801.6 1080.1h0M800.6 1078.6h0M800.6 1076.1h0M800.2 1078.7h0M800.1 1077.7h0M799.5 1081.8h0M799.9 1079.1h0M799.9 1080.7h0M799.4 1079.7h0M799.5 1082.9h0M799.8 1083.2h0M800.4 1080.0h0M798.9 1081.4h0M799.0 1082.7h0M798.8 1083.9h0M798.2 1082.7h0M797.3 1081.1h0M797.6 1082.2h0M796.6 1084.2h0M796.6 1084.0h0M796.9 1083.3h0M795.7 1086.4h0M795.3 1083.1h0M794.5 1085.5h0M794.4 1085.7h0M795.0 1088.4h0M795.6 1088.4h0M794.4 1088.0h0M795.6 1088.2h0M797.6 1088.8h0M800.1 1086.5h0M801.9 1086.2h0M821.8 1087.9h0M842.7 1088.9h0M863.0 1082.4h0M882.7 1082.8h0M905.7 1079.6h0M932.6 1064.6h0M959.3 1043.9h0M959.4 1021.4h0M959.0 1007.4h0M954.0 980.9h0M953.5 970.0h0M960.9 919.8h0M956.9 968.8h0M947.6 953.8h0M993.3 938.6h0M1035.5 954.4h0M1090.3 951.1h0M1096.8 969.2h0M1099.3 941.3h0M1094.6 946.5h0M1037.8 869.9h0M1028.1 830.7h0M1019.3 869.3h0M1005.5 883.9h0M991.8 832.1h0M971.3 889.0h0M949.1 916.5h0M942.1 911.5h0M936.8 906.1h0M929.5 925.6h0M925.1 920.7h0M925.5 942.2h0M927.1 969.6h0M926.1 964.7h0M919.5 964.0h0M920.6 978.7h0M922.6 978.9h0M927.5 963.4h0M929.7 968.9h0M920.0 992.2h0M910.6 983.5h0M910.6 980.7h0M905.0 973.8h0M902.2 978.2h0M899.3 964.5h0M890.0 995.1h0M885.1 996.0h0M880.5 989.0h0M876.1 1011.3h0M871.6 1004.2h0M866.4 998.2h0M868.3 1017.1h0M866.5 1017.3h0M868.3 1007.0h0M868.9 1015.6h0M871.7 1022.9h0M873.0 1019.9h0M877.2 1027.3h0M874.9 1019.5h0M871.0 1022.4h0M867.0 999.9h0M862.4 1013.7h0M856.8 1016.4h0M852.0 1016.3h0M846.8 1018.9h0M843.3 1031.1h0M840.3 1031.5h0M838.2 1022.2h0M833.0 1043.0h0M831.5 1043.3h0M827.4 1038.4h0M823.7 1038.8h0M820.8 1052.4h0M817.5 1046.3h0M815.2 1055.4h0M811.9 1051.1h0M812.6 1059.2h0M813.7 1064.4h0M816.9 1064.2h0M818.7 1066.9h0M819.1 1073.3h0M820.9 1064.6h0M820.9 1070.7h0M825.1 1063.4h0M822.4 1066.8h0M822.3 1070.2h0M822.1 1066.8h0M819.6 1063.7h0M819.2 1057.2h0M819.5 1055.8h0M819.0 1061.9h0M818.1 1063.2h0M817.6 1068.2h0M816.1 1065.0h0M814.8 1063.7h0M813.0 1071.3h0M811.9 1061.7h0M809.4 1062.8h0M808.6 1060.5h0M806.6 1071.3h0M803.7 1070.3h0M802.0 1071.3h0M801.0 1076.6h0M799.3 1076.4h0M796.7 1078.4h0M794.8 1078.0h0M792.4 1079.8h0M791.7 1079.0h0M791.0 1083.7h0M789.6 1087.3h0M789.2 1086.6h0M788.3 1088.9h0M787.7 1089.2h0M786.8 1089.2h0M786.0 1092.3h0M785.4 1091.4h0M785.3 1093.7h0M785.2 1093.4h0M784.7 1093.7h0M784.8 1095.0h0M784.7 1095.3h0M784.2 1096.4h0M784.2 1096.0h0M784.2 1096.0h0M784.1 1096.6h0M784.1 1096.5h0M784.1 1095.0h0M783.9 1096.3h0M783.5 1096.9h0M796.9 1097.1h0M810.4 1095.8h0M813.3 1097.9h0M806.9 1096.9h0M800.4 1096.7h0M795.2 1086.2h0M795.3 1071.7h0M795.5 1073.0h0M795.4 1076.3h0M795.5 1082.2h0M794.9 1086.9h0M794.9 1086.7h0M795.4 1086.7h0M795.2 1085.2h0M794.3 1087.0h0M794.1 1088.0h0M794.2 1087.6h0M793.8 1087.2h0M793.0 1088.8h0M793.2 1090.0h0M792.2 1089.5h0M792.0 1087.5h0M791.5 1089.0h0M790.7 1089.4h0M790.9 1085.0h0M800.4 1088.4h0M808.7 1090.1h0M818.4 1090.8h0M821.1 1089.5h0M822.0 1091.5h0M824.6 1080.1h0M828.4 1073.3h0M832.7 1061.6h0M832.8 1065.9h0M832.7 1059.7h0M833.2 1066.3h0M832.6 1057.8h0M834.0 1048.8h0M833.7 1050.4h0M846.3 1060.2h0M859.4 1050.1h0M857.6 1051.6h0M856.8 1052.5h0M860.9 1055.4h0M862.1 1042.8h0M861.9 1033.1h0M863.2 1025.8h0M929.0 1029.4h0M997.5 1021.8h0M1038.1 1023.2h0M1053.0 1035.0h0M1023.5 1025.7h0M1013.9 947.8h0M991.7 935.2h0M986.0 884.7h0M988.6 891.1h0M990.4 914.3h0M995.1 904.0h0M986.5 910.1h0M986.9 917.0h0M1004.3 919.5h0M991.4 910.7h0M988.8 943.6h0M982.6 915.9h0M979.4 921.7h0M966.3 917.2h0M958.2 924.3h0M958.2 937.7h0M955.2 913.8h0M959.5 943.1h0M952.0 961.0h0M948.9 949.5h0M957.9 956.4h0M948.7 952.6h0M940.0 928.5h0M935.7 955.9h0M931.5 955.2h0M930.8 919.0h0M929.3 972.4h0M924.6 959.5h0M924.0 953.7h0M932.5 953.2h0M934.4 944.8h0M937.1 978.8h0M951.6 969.5h0M962.7 977.3h0M981.5 974.4h0M972.3 975.7h0M973.4 981.1h0M967.9 950.4h0M975.5 936.0h0M993.4 945.5h0M1009.8 928.1h0M1028.8 944.8h0M1054.2 954.5h0M1039.8 967.8h0M1019.8 905.7h0M1010.6 898.7h0M994.1 901.5h0M976.9 883.2h0M957.3 909.4h0M940.3 894.3h0M924.0 910.6h0M901.6 913.8h0M893.4 932.4h0M889.8 966.3h0M883.6 979.8h0M880.7 971.9h0M875.5 1008.2h0M870.0 998.9h0M858.3 996.6h0M852.5 1018.5h0M848.1 1006.5h0M850.2 1015.6h0M852.3 1016.9h0M853.1 1034.2h0M848.8 1035.8h0M843.3 1037.3h0M843.4 1027.3h0M841.8 1031.7h0M841.7 1032.3h0M839.7 1045.3h0M838.2 1042.1h0M834.2 1046.8h0M833.4 1045.4h0M831.2 1043.8h0M830.3 1042.3h0M829.5 1045.5h0M827.9 1051.0h0M826.9 1052.7h0M825.4 1048.7h0M824.8 1058.5h0M823.8 1055.7h0M821.5 1051.9h0M827.1 1058.9h0M836.1 1056.5h0M842.2 1056.8h0M850.3 1053.6h0M857.2 1059.1h0M862.0 1063.6h0M866.5 1050.0h0M873.1 1043.2h0M876.9 1032.9h0M881.5 1029.0h0M881.0 1014.5h0M882.7 1015.8h0M885.9 1025.4h0M888.4 1018.9h0M879.4 1024.8h0M878.9 997.3h0M875.6 1010.6h0M875.0 1008.1h0M871.8 1016.8h0M870.8 1015.8h0M871.5 1009.9h0M868.6 1018.7h0M865.9 1019.2h0M862.9 1023.3h0M862.4 1005.7h0M865.0 1023.2h0M865.8 1031.0h0M865.3 1027.6h0M863.0 1029.1h0M860.3 1028.0h0M859.7 1026.8h0M857.1 1031.4h0M853.7 1026.3h0M854.3 1024.6h0M853.5 1037.3h0M853.6 1017.2h0M852.2 1021.6h0M849.4 1044.5h0M846.3 1036.7h0M843.7 1029.6h0M843.3 1027.4h0M841.3 1026.1h0M836.9 1047.9h0M835.3 1047.0h0M831.7 1046.4h0M830.7 1041.6h0M827.7 1050.8h0M825.3 1047.9h0M824.7 1049.4h0M823.8 1051.5h0M821.0 1060.1h0M821.2 1057.2h0M822.7 1059.8h0M819.7 1062.0h0M820.6 1056.6h0M818.3 1064.7h0M816.5 1058.6h0M815.1 1064.1h0M812.5 1059.2h0M816.2 1058.5h0M819.1 1068.4h0M820.5 1066.7h0M822.5 1068.0h0M823.1 1073.6h0M823.5 1065.5h0M825.5 1063.4h0M824.0 1066.7h0M824.4 1061.9h0M825.5 1058.6h0M827.7 1061.9h0M830.1 1062.1h0M829.8 1054.8h0M829.2 1063.8h0M830.4 1058.3h0M832.3 1053.2h0M834.3 1052.3h0M838.5 1062.3h0M843.6 1057.4h0M875.6 1055.6h0M906.1 1054.3h0M939.2 1048.9h0M960.8 1045.4h0M963.3 1042.8h0M960.9 1013.6h0M975.6 980.3h0M980.8 948.3h0M984.3 968.6h0M986.1 913.3h0M976.3 952.9h0M985.0 923.5h0M1039.2 952.0h0M1077.5 935.0h0M1118.0 914.1h0M1118.1 831.0h0M1117.4 835.2h0M1077.7 831.7h0M1022.1 849.3h0M995.8 844.0h0M972.2 847.1h0M960.7 890.7h0M945.3 892.5h0M935.8 869.1h0M925.2 923.7h0M923.4 941.8h0M914.1 939.3h0M909.0 963.9h0M900.4 965.6h0M892.9 979.4h0M892.6 983.5h0M888.7 974.3h0M883.0 990.9h0M875.4 1003.0h0M874.4 1003.1h0M871.6 1002.2h0M866.0 1001.8h0M861.8 1001.6h0M886.7 1001.8h0M910.8 1024.6h0M935.0 1020.4h0M964.3 1034.5h0M970.0 1025.7h0M970.2 1001.8h0M978.2 992.2h0M976.2 976.3h0M970.3 955.7h0M968.4 957.8h0M959.5 930.3h0M946.9 904.2h0M937.1 949.3h0M924.9 915.6h0M915.7 941.9h0M899.5 964.0h0M892.3 950.4h0M882.1 956.3h0M874.3 970.7h0M863.8 984.8h0M858.4 980.1h0M853.8 1003.9h0M848.1 1005.2h0M852.1 1012.1h0M851.4 1031.0h0M852.6 1040.5h0M854.7 1043.5h0M851.5 1041.6h0M852.5 1034.0h0M851.3 1045.6h0M849.6 1039.4h0M848.9 1024.5h0M845.5 1045.6h0M842.5 1033.1h0M839.8 1034.8h0M839.6 1033.9h0M838.9 1046.1h0M838.4 1040.2h0M838.5 1050.8h0M834.6 1040.4h0M832.3 1050.9h0M831.2 1046.0h0M827.9 1051.7h0M827.6 1047.5h0M829.4 1057.6h0M831.0 1052.4h0M832.5 1052.1h0M832.2 1057.5h0M831.7 1051.3h0M833.0 1054.7h0M830.4 1051.5h0M829.0 1051.3h0M828.8 1045.5h0M826.1 1056.7h0M823.4 1054.0h0M821.6 1056.1h0M820.5 1054.1h0M819.2 1055.7h0M817.4 1055.9h0M816.1 1060.4h0M813.6 1064.6h0M812.2 1064.2h0M811.9 1063.8h0M810.5 1072.9h0M809.0 1063.6h0M807.7 1071.5h0M806.8 1072.2h0M806.5 1070.9h0M805.6 1073.4h0M805.6 1077.5h0M808.4 1075.9h0M809.6 1073.0h0M812.0 1074.1h0M813.4 1074.7h0M811.3 1078.5h0M810.2 1075.2h0M808.5 1070.9h0M808.4 1067.3h0M806.5 1070.0h0M806.8 1074.4h0M806.2 1077.4h0M803.7 1071.1h0M804.2 1078.1h0M805.2 1075.5h0M804.2 1074.2h0M804.7 1068.6h0M803.1 1078.7h0M803.1 1078.8h0M801.9 1076.7h0M801.5 1077.5h0M799.6 1075.2h0M797.5 1078.2h0M797.3 1081.0h0M797.9 1084.3h0M796.8 1080.6h0M796.4 1083.9h0M795.6 1082.4h0M794.5 1086.8h0M793.9 1084.0h0M793.6 1086.4h0M792.0 1086.9h0M791.8 1084.0h0M791.5 1087.2h0M790.5 1088.2h0M790.7 1087.3h0M791.0 1090.5h0M790.0 1090.2h0M790.2 1090.8h0M789.6 1088.8h0M789.0 1090.4h0M788.9 1089.9h0M788.4 1090.2h0M787.9 1091.5h0M788.0 1091.9h0M787.9 1093.7h0M787.7 1091.9h0M786.9 1092.6h0M786.1 1093.6h0M786.1 1092.1h0M785.5 1094.6h0M785.3 1093.1h0M784.8 1095.1h0M784.5 1095.6h0M784.1 1095.0h0M784.2 1094.4h0M783.8 1096.2h0M784.2 1096.5h0M784.7 1096.8h0M785.5 1095.3h0M785.6 1096.1h0M786.1 1096.6h0M786.5 1095.1h0M787.2 1095.9h0M787.8 1096.6h0M788.1 1095.6h0M788.7 1095.6h0M789.1 1092.8h0M789.8 1094.9h0M790.3 1093.1h0M790.6 1093.5h0M791.1 1092.9h0M791.8 1092.2h0M793.3 1091.7h0M793.5 1091.8h0M794.1 1092.1h0M795.3 1091.1h0M794.6 1090.9h0M794.3 1089.6h0M797.4 1088.2h0M801.1 1088.0h0M806.7 1086.1h0M810.8 1087.6h0M815.7 1084.9h0M819.1 1085.9h0M822.5 1083.2h0M826.0 1073.8h0M834.1 1074.1h0M864.9 1067.7h0M915.3 1061.8h0M948.6 1062.3h0M944.2 1060.1h0M950.8 1047.3h0M956.1 1022.1h0M950.4 987.5h0M944.1 969.4h0M946.7 963.4h0M940.5 973.0h0M936.2 960.3h0M923.1 967.0h0M918.1 955.5h0M909.9 947.4h0M903.6 969.3h0M896.2 970.3h0M892.6 987.1h0M882.9 993.3h0M878.5 990.8h0M873.8 986.5h0M871.5 993.8h0M879.4 995.8h0M895.8 1011.2h0M905.8 1031.2h0M913.0 1009.9h0M929.7 1008.9h0M961.8 1004.9h0M985.0 990.1h0M1004.1 979.2h0M1000.9 954.3h0M993.9 966.9h0M989.6 923.2h0M985.1 914.7h0M972.7 901.5h0M958.9 917.0h0M945.9 925.4h0M931.2 939.6h0M919.9 918.1h0M917.5 940.7h0M910.4 962.0h0M905.4 966.3h0M907.9 981.8h0M902.7 960.5h0M895.8 982.7h0M895.8 985.0h0M889.1 1001.0h0M879.8 997.6h0M876.1 982.3h0M868.5 1000.2h0M861.7 996.2h0M857.0 987.4h0M851.3 994.1h0M844.6 1009.5h0M838.8 1017.8h0M836.1 1025.5h0M836.1 1032.9h0M833.1 1024.0h0M830.4 1048.1h0M831.4 1047.8h0M828.4 1057.7h0M828.2 1055.1h0M827.5 1050.8h0M826.7 1053.0h0M824.5 1052.5h0M825.0 1057.9h0M825.7 1059.5h0M826.6 1059.5h0M826.3 1059.6h0M826.2 1056.0h0M826.1 1054.1h0M822.8 1057.4h0M822.8 1060.2h0M821.2 1061.9h0M818.8 1057.5h0M816.9 1059.6h0M817.4 1067.5h0M820.7 1056.6h0M820.8 1063.1h0M823.3 1066.2h0M825.5 1069.4h0M827.7 1069.1h0M829.5 1060.4h0M830.0 1066.5h0M829.7 1060.9h0M826.8 1056.9h0M824.8 1049.7h0M822.6 1053.3h0M820.4 1055.4h0M819.8 1057.2h0M818.7 1054.8h0M816.3 1056.1h0M814.0 1063.3h0M812.4 1061.8h0M812.0 1064.7h0M810.7 1070.1h0M809.4 1070.3h0M807.6 1067.1h0M805.9 1066.8h0M804.5 1069.4h0M802.7 1073.0h0M803.3 1075.4h0M802.1 1074.1h0M801.2 1076.3h0M801.5 1081.4h0M801.0 1078.7h0M800.3 1080.8h0M799.2 1079.2h0M797.7 1080.3h0M797.3 1079.7h0M797.4 1079.5h0M796.2 1080.9h0M796.7 1084.8h0M795.7 1086.1h0M795.1 1083.2h0M795.1 1084.1h0M794.9 1088.0h0M794.9 1088.2h0M794.2 1085.0h0M793.5 1083.5h0M792.5 1085.7h0M791.9 1087.4h0M791.4 1086.7h0M790.8 1090.8h0M791.0 1089.5h0M790.7 1088.0h0M789.9 1088.7h0M791.0 1092.3h0M790.7 1089.4h0M790.3 1090.0h0M790.9 1089.8h0M791.3 1091.7h0M790.8 1090.5h0M790.3 1091.9h0M790.0 1090.8h0M790.5 1089.6h0M790.4 1091.2h0M790.1 1090.3h0M790.1 1091.7h0M790.6 1090.3h0M790.0 1089.9h0M789.9 1093.3h0M789.4 1090.9h0M790.3 1090.2h0M790.9 1091.5h0M793.1 1091.6h0M794.8 1091.6h0M797.0 1092.9h0M797.6 1091.3h0M799.6 1088.9h0M800.6 1088.1h0M801.6 1084.9h0M802.2 1083.7h0M803.0 1082.7h0M804.4 1082.6h0M805.9 1080.5h0M806.9 1076.8h0M807.0 1077.5h0M808.5 1079.1h0M809.2 1079.8h0M811.1 1078.9h0M811.0 1075.4h0M809.4 1074.9h0M810.1 1078.6h0M812.4 1073.3h0M812.9 1071.1h0M812.7 1071.4h0M813.6 1075.0h0M813.9 1066.5h0M814.2 1068.4h0M813.5 1074.0h0M813.5 1072.5h0M813.5 1067.6h0M812.8 1068.1h0M811.8 1069.0h0M812.1 1070.0h0M815.0 1070.6h0M817.4 1071.1h0M819.7 1073.2h0M822.0 1069.9h0M826.8 1077.8h0M828.4 1070.7h0M846.9 1062.5h0M879.7 1066.9h0M925.3 1066.3h0M975.8 1050.5h0M1035.5 1052.5h0M1092.0 1041.1h0M1110.3 841.2h0M1083.7 835.4h0M1070.3 870.0h0M1067.6 840.1h0M1070.3 866.6h0M1056.1 866.9h0M1046.4 851.3h0M1030.4 824.5h0M1008.9 876.1h0M1000.4 853.5h0M991.2 885.1h0M988.7 875.4h0M976.0 913.0h0M970.0 937.2h0M960.8 915.0h0M952.4 924.2h0M941.7 914.1h0M941.2 943.9h0M927.9 919.7h0M919.0 945.3h0M910.2 932.7h0M906.3 965.5h0M901.6 943.2h0M896.8 973.3h0M893.5 978.3h0M883.0 977.3h0M877.7 1005.6h0M869.5 1003.2h0M865.4 980.6h0M861.1 1012.7h0M857.8 1013.2h0M856.6 1009.7h0M858.2 1010.1h0M857.6 1027.5h0M856.3 1027.1h0M857.0 1037.4h0M851.7 1034.2h0M844.9 1024.0h0M841.9 1029.0h0M839.1 1032.4h0M838.7 1029.0h0M839.3 1035.5h0M833.9 1041.4h0M834.5 1046.6h0M834.9 1051.7h0M833.9 1044.5h0M832.2 1052.4h0M833.4 1047.5h0M830.9 1041.5h0M827.9 1044.1h0M826.1 1041.1h0M822.5 1057.6h0M821.3 1051.4h0M819.4 1057.8h0M818.1 1060.0h0M816.7 1064.8h0M814.0 1066.0h0M813.7 1060.2h0M811.1 1062.5h0M810.4 1062.1h0M807.5 1063.6h0M806.4 1067.3h0M805.8 1072.0h0M805.9 1072.4h0M805.5 1070.9h0M804.1 1072.5h0M803.7 1077.4h0M804.1 1078.2h0M804.9 1077.9h0M804.1 1073.7h0M803.0 1077.5h0M802.9 1079.7h0M803.3 1080.2h0M803.6 1077.0h0M803.7 1081.9h0M805.1 1080.1h0M806.4 1080.9h0M805.3 1080.6h0M802.9 1078.8h0M801.3 1078.2h0M799.5 1070.5h0M797.0 1076.3h0M795.9 1076.0h0M795.8 1081.3h0M795.4 1084.1h0M796.0 1080.9h0M796.1 1081.9h0M798.1 1087.5h0M800.4 1086.3h0M802.3 1085.0h0M802.8 1085.9h0M804.0 1089.1h0M806.3 1082.5h0M807.2 1082.3h0M806.0 1078.9h0M805.2 1081.6h0M805.0 1076.8h0M804.5 1074.1h0M803.6 1077.3h0M801.9 1075.7h0M801.0 1079.0h0M799.8 1078.9h0M798.3 1080.1h0M797.6 1080.0h0M796.3 1081.9h0M794.5 1079.3h0M793.8 1083.0h0M794.3 1085.7h0M795.3 1082.4h0M795.2 1084.9h0M796.0 1086.0h0M796.3 1088.1h0M795.0 1086.6h0M793.3 1086.8h0M793.6 1088.0h0M792.6 1085.9h0M791.9 1085.6h0M791.4 1086.8h0M790.4 1087.4h0M789.6 1090.2h0M788.2 1088.7h0M787.3 1090.6h0M787.1 1090.5h0M787.2 1090.6h0M787.1 1091.7h0M786.6 1093.5h0M786.1 1093.1h0M785.8 1093.9h0M786.0 1093.1h0M786.1 1092.9h0M786.1 1094.6h0M785.5 1095.6h0M784.7 1095.0h0M784.5 1094.3h0M784.3 1094.6h0M784.0 1095.5h0M783.9 1096.3h0M783.6 1096.5h0M783.2 1096.7h0M782.9 1096.0h0M782.7 1096.6h0M783.6 1096.2h0M784.4 1096.9h0M785.8 1096.4h0M786.5 1097.6h0M787.4 1097.4h0M786.8 1097.2h0M786.4 1096.0h0M786.3 1094.3h0M786.1 1093.8h0M785.8 1092.6h0M785.6 1094.6h0M785.2 1094.1h0M784.5 1093.3h0M783.6 1094.5h0M783.9 1095.2h0M787.4 1095.4h0M790.8 1095.9h0M793.4 1096.1h0M793.3 1096.2h0M794.4 1096.5h0M793.6 1093.6h0M794.0 1091.4h0M794.9 1089.6h0M795.4 1085.2h0M796.3 1088.0h0M796.6 1088.1h0M798.2 1088.4h0M797.8 1086.8h0M797.9 1087.1h0M798.9 1085.6h0M800.7 1083.3h0M801.4 1085.1h0M802.9 1083.5h0M803.2 1084.4h0M803.2 1082.1h0M804.2 1082.9h0M805.2 1080.3h0M806.1 1081.5h0M805.3 1082.7h0M804.2 1081.9h0M844.0 1080.3h0M847.0 1079.8h0M851.6 1077.4h0M856.0 1075.0h0M852.3 1080.7h0M852.2 1040.5h0M851.7 1039.2h0M851.3 1039.7h0M850.6 1037.2h0M849.5 1032.9h0M850.0 1032.7h0M901.6 1037.7h0M929.9 1037.1h0M930.6 1036.9h0M935.9 1044.4h0M933.5 1036.9h0M923.6 990.5h0M924.9 949.9h0M922.8 982.7h0M925.2 974.7h0M918.0 966.4h0M911.1 981.2h0M905.3 978.4h0M898.5 975.8h0M890.5 977.0h0M879.2 980.2h0M879.9 981.2h0M871.0 1004.1h0M865.9 990.9h0M863.0 1019.3h0M859.0 998.6h0M855.2 1004.3h0M851.4 1023.0h0M848.1 1016.5h0M845.4 1026.7h0M847.1 1026.7h0M841.4 1028.3h0M838.3 1034.2h0M834.4 1039.0h0M830.6 1038.3h0M828.1 1040.9h0M827.0 1046.8h0M825.0 1051.9h0M823.2 1058.3h0M823.3 1048.1h0M823.0 1053.9h0M824.4 1062.7h0M824.3 1058.2h0M823.2 1060.5h0" stroke="#000" stroke-width="5.8" stroke-linecap="round" fill="none"/>
<path d="M849.8 1032.9h4.9M836.0 1040.6h4.9M831.4 1044.4h4.9M826.7 1055.8h4.9M808.3 1067.2h4.9M817.5 1067.2h4.9M822.1 1067.2h4.9M812.9 1071.0h4.9M789.8 1082.4h4.9M840.6 1029.1h4.9M822.1 1048.2h4.9M826.7 1059.6h4.9M808.3 1078.6h4.9M812.9 1067.2h4.9" stroke="#37ffc0" stroke-width="4.11" fill="none"/>
<path d="M849.8 1025.3h4.9M854.4 1029.1h4.9M845.2 1040.6h4.9M845.2 1036.7h4.9M799.1 1071.0h4.9M895.9 964.4h4.9M872.9 1010.1h4.9M868.3 1017.7h4.9M817.5 1052.0h4.9M808.3 1059.6h4.9M817.5 1090.0h4.9M826.7 1063.4h4.9M905.2 964.4h4.9M891.3 983.5h4.9M845.2 1025.3h4.9M831.4 1040.6h4.9M812.9 1074.8h4.9" stroke="#0080ff" stroke-width="4.11" fill="none"/>
<path d="M849.8 1040.6h4.9M822.1 1052.0h4.9M836.0 1032.9h4.9" stroke="#7bff7b" stroke-width="4.11" fill="none"/>
<path d="M849.8 1029.1h4.9M817.5 1086.2h4.9M955.9 1021.5h4.9M951.3 968.3h4.9M946.7 953.0h4.9M923.6 922.6h4.9M923.6 964.4h4.9M919.0 979.7h4.9M909.8 979.7h4.9M882.1 994.9h4.9M863.7 998.7h4.9M863.7 1017.7h4.9M868.3 1013.9h4.9M868.3 1021.5h4.9M859.0 1013.9h4.9M845.2 1017.7h4.9M826.7 1036.7h4.9M822.1 1040.6h4.9M817.5 1074.8h4.9M817.5 1071.0h4.9M822.1 1071.0h4.9M789.8 1078.6h4.9M785.2 1086.2h4.9M799.1 1090.0h4.9M831.4 1067.2h4.9M831.4 1059.6h4.9M854.4 1052.0h4.9M859.0 1025.3h4.9M868.3 998.7h4.9M845.2 1006.3h4.9M849.8 1013.9h4.9M836.0 1044.4h4.9M840.6 1055.8h4.9M877.5 998.7h4.9M863.7 1029.1h4.9M859.0 1029.1h4.9M849.8 1036.7h4.9M849.8 1021.5h4.9M845.2 1044.4h4.9M840.6 1025.3h4.9M822.1 1074.8h4.9M960.5 1044.4h4.9M983.6 915.0h4.9M891.3 979.7h4.9M886.7 975.9h4.9M872.9 1002.5h4.9M914.4 941.6h4.9M831.4 1055.8h4.9M895.9 972.1h4.9M826.7 1067.2h4.9M854.4 1010.1h4.9M928.2 1036.7h4.9M877.5 979.7h4.9" stroke="#002aff" stroke-width="4.11" fill="none"/>
<path d="M845.2 1029.1h4.9M831.4 1036.7h4.9M840.6 1090.0h4.9M859.0 1082.4h4.9M882.1 1082.4h4.9M905.2 1078.6h4.9M928.2 1063.4h4.9M955.9 1044.4h4.9M955.9 1006.3h4.9M951.3 979.7h4.9M960.5 918.8h4.9M955.9 968.3h4.9M992.8 937.8h4.9M1034.3 953.0h4.9M1089.7 953.0h4.9M1094.3 968.3h4.9M1098.9 941.6h4.9M1094.3 945.4h4.9M1034.3 869.3h4.9M1025.1 831.3h4.9M1015.9 869.3h4.9M1002.1 884.5h4.9M988.2 831.3h4.9M969.8 888.3h4.9M946.7 915.0h4.9M942.1 911.2h4.9M932.9 907.4h4.9M928.2 926.4h4.9M923.6 941.6h4.9M923.6 968.3h4.9M919.0 964.4h4.9M928.2 968.3h4.9M919.0 991.1h4.9M909.8 983.5h4.9M900.6 972.1h4.9M900.6 979.7h4.9M886.7 994.9h4.9M877.5 987.3h4.9M868.3 1006.3h4.9M872.9 1021.5h4.9M872.9 1029.1h4.9M872.9 1017.7h4.9M854.4 1017.7h4.9M836.0 1021.5h4.9M812.9 1048.2h4.9M808.3 1052.0h4.9M794.5 1097.6h4.9M808.3 1097.6h4.9M812.9 1097.6h4.9M803.7 1097.6h4.9M799.1 1097.6h4.9M794.5 1071.0h4.9M808.3 1090.0h4.9M822.1 1078.6h4.9M826.7 1074.8h4.9M831.4 1063.4h4.9M845.2 1059.6h4.9M859.0 1052.0h4.9M859.0 1055.8h4.9M859.0 1044.4h4.9M859.0 1032.9h4.9M928.2 1029.1h4.9M997.4 1021.5h4.9M1034.3 1021.5h4.9M1052.8 1036.7h4.9M1020.5 1025.3h4.9M1011.3 949.2h4.9M988.2 934.0h4.9M983.6 884.5h4.9M988.2 892.1h4.9M988.2 915.0h4.9M992.8 903.6h4.9M983.6 911.2h4.9M983.6 918.8h4.9M1002.1 918.8h4.9M988.2 911.2h4.9M988.2 945.4h4.9M979.0 915.0h4.9M979.0 922.6h4.9M965.1 918.8h4.9M955.9 922.6h4.9M955.9 937.8h4.9M951.3 915.0h4.9M955.9 941.6h4.9M951.3 960.6h4.9M946.7 949.2h4.9M955.9 956.8h4.9M937.5 930.2h4.9M932.9 956.8h4.9M928.2 956.8h4.9M928.2 918.8h4.9M928.2 972.1h4.9M923.6 960.6h4.9M923.6 953.0h4.9M928.2 953.0h4.9M932.9 945.4h4.9M932.9 979.7h4.9M960.5 975.9h4.9M979.0 975.9h4.9M969.8 975.9h4.9M969.8 979.7h4.9M965.1 949.2h4.9M974.4 937.8h4.9M992.8 945.4h4.9M1006.7 926.4h4.9M1025.1 945.4h4.9M1052.8 953.0h4.9M1039.0 968.3h4.9M1015.9 907.4h4.9M1006.7 899.8h4.9M992.8 899.8h4.9M974.4 884.5h4.9M955.9 911.2h4.9M937.5 895.9h4.9M923.6 911.2h4.9M900.6 915.0h4.9M891.3 934.0h4.9M886.7 964.4h4.9M882.1 979.7h4.9M877.5 972.1h4.9M854.4 994.9h4.9M840.6 1036.7h4.9M836.0 1055.8h4.9M849.8 1052.0h4.9M854.4 1059.6h4.9M859.0 1063.4h4.9M863.7 1048.2h4.9M872.9 1044.4h4.9M872.9 1032.9h4.9M877.5 1029.1h4.9M877.5 1013.9h4.9M882.1 1013.9h4.9M882.1 1025.3h4.9M886.7 1017.7h4.9M877.5 1025.3h4.9M872.9 1006.3h4.9M868.3 1010.1h4.9M859.0 1021.5h4.9M859.0 1006.3h4.9M863.7 1021.5h4.9M854.4 1032.9h4.9M836.0 1048.2h4.9M836.0 1063.4h4.9M872.9 1055.8h4.9M905.2 1055.8h4.9M937.5 1048.2h4.9M960.5 1013.9h4.9M974.4 979.7h4.9M979.0 949.2h4.9M983.6 968.3h4.9M974.4 953.0h4.9M983.6 922.6h4.9M1039.0 953.0h4.9M1075.9 934.0h4.9M1117.4 915.0h4.9M1117.4 831.3h4.9M1112.8 835.1h4.9M1075.9 831.3h4.9M1020.5 850.3h4.9M992.8 842.7h4.9M969.8 846.5h4.9M960.5 892.1h4.9M942.1 892.1h4.9M932.9 869.3h4.9M919.0 941.6h4.9M909.8 937.8h4.9M882.1 991.1h4.9M863.7 1002.5h4.9M859.0 1002.5h4.9M882.1 1002.5h4.9M909.8 1025.3h4.9M932.9 1021.5h4.9M960.5 1032.9h4.9M969.8 1025.3h4.9M969.8 1002.5h4.9M974.4 991.1h4.9M974.4 975.9h4.9M969.8 956.8h4.9M965.1 956.8h4.9M955.9 930.2h4.9M946.7 903.6h4.9M932.9 949.2h4.9M923.6 915.0h4.9M891.3 949.2h4.9M882.1 956.8h4.9M872.9 972.1h4.9M863.7 983.5h4.9M854.4 979.7h4.9M849.8 1002.5h4.9M854.4 1044.4h4.9M849.8 1044.4h4.9M836.0 1052.0h4.9M803.7 1086.2h4.9M808.3 1086.2h4.9M812.9 1086.2h4.9M822.1 1082.4h4.9M831.4 1074.8h4.9M863.7 1067.2h4.9M914.4 1063.4h4.9M946.7 1063.4h4.9M942.1 1059.6h4.9M946.7 1048.2h4.9M946.7 987.3h4.9M942.1 968.3h4.9M942.1 964.4h4.9M937.5 972.1h4.9M932.9 960.6h4.9M919.0 968.3h4.9M914.4 956.8h4.9M909.8 949.2h4.9M900.6 968.3h4.9M891.3 987.3h4.9M877.5 991.1h4.9M872.9 987.3h4.9M868.3 994.9h4.9M877.5 994.9h4.9M891.3 1010.1h4.9M905.2 1032.9h4.9M909.8 1010.1h4.9M928.2 1010.1h4.9M960.5 1006.3h4.9M983.6 991.1h4.9M1002.1 979.7h4.9M997.4 953.0h4.9M992.8 968.3h4.9M988.2 922.6h4.9M969.8 899.8h4.9M955.9 918.8h4.9M942.1 926.4h4.9M928.2 937.8h4.9M919.0 918.8h4.9M909.8 960.6h4.9M905.2 983.5h4.9M900.6 960.6h4.9M886.7 1002.5h4.9M872.9 983.5h4.9M859.0 994.9h4.9M854.4 987.3h4.9M849.8 994.9h4.9M840.6 1010.1h4.9M836.0 1017.7h4.9M836.0 1025.3h4.9M831.4 1025.3h4.9M794.5 1093.8h4.9M826.7 1078.6h4.9M826.7 1071.0h4.9M845.2 1063.4h4.9M877.5 1067.2h4.9M923.6 1067.2h4.9M974.4 1052.0h4.9M1034.3 1052.0h4.9M1089.7 1040.6h4.9M1108.2 842.7h4.9M1080.5 835.1h4.9M1066.6 869.3h4.9M1066.6 838.9h4.9M1066.6 865.5h4.9M1052.8 865.5h4.9M1043.6 850.3h4.9M1029.7 823.6h4.9M1006.7 876.9h4.9M997.4 854.1h4.9M988.2 884.5h4.9M988.2 876.9h4.9M974.4 911.2h4.9M969.8 937.8h4.9M960.5 915.0h4.9M951.3 922.6h4.9M937.5 915.0h4.9M937.5 945.4h4.9M923.6 918.8h4.9M914.4 945.4h4.9M909.8 934.0h4.9M900.6 941.6h4.9M882.1 975.9h4.9M877.5 1006.3h4.9M863.7 979.7h4.9M854.4 1013.9h4.9M854.4 1025.3h4.9M854.4 1036.7h4.9M836.0 1029.1h4.9M836.0 1036.7h4.9M803.7 1063.4h4.9M803.7 1090.0h4.9M840.6 1078.6h4.9M845.2 1078.6h4.9M849.8 1078.6h4.9M854.4 1074.8h4.9M849.8 1082.4h4.9M845.2 1032.9h4.9M900.6 1036.7h4.9M932.9 1044.4h4.9M932.9 1036.7h4.9M923.6 991.1h4.9M923.6 949.2h4.9M919.0 983.5h4.9M923.6 975.9h4.9M914.4 968.3h4.9M905.2 979.7h4.9M895.9 975.9h4.9M863.7 991.1h4.9M859.0 1017.7h4.9M854.4 998.7h4.9M854.4 1002.5h4.9" stroke="#0000e0" stroke-width="4.11" fill="none"/>
<path d="M826.7 1044.4h4.9M812.9 1059.6h4.9M831.4 1048.2h4.9" stroke="#c0ff37" stroke-width="4.11" fill="none"/>
<path d="M826.7 1048.2h4.9M817.5 1059.6h4.9M812.9 1055.8h4.9M868.3 1002.5h4.9M849.8 1017.7h4.9M840.6 1032.9h4.9M822.1 1063.4h4.9M794.5 1074.8h4.9M826.7 1040.6h4.9M803.7 1067.2h4.9M789.8 1097.6h4.9" stroke="#00d4ff" stroke-width="4.11" fill="none"/>
<path d="M826.7 1052.0h4.9M822.1 1055.8h4.9M808.3 1071.0h4.9M808.3 1074.8h4.9M799.1 1074.8h4.9M799.1 1086.2h4.9" stroke="#ff4800" stroke-width="4.11" fill="none"/>
<path d="M817.5 1063.4h4.9M794.5 1078.6h4.9M785.2 1097.6h4.9" stroke="#ff9700" stroke-width="4.11" fill="none"/>
<path d="M808.3 1063.4h4.9M822.1 1059.6h4.9M803.7 1082.4h4.9" stroke="#e00000" stroke-width="4.11" fill="none"/>
<path d="M803.7 1074.8h4.9M803.7 1078.6h4.9M803.7 1071.0h4.9M799.1 1078.6h4.9M799.1 1082.4h4.9M794.5 1082.4h4.9M794.5 1086.2h4.9M789.8 1086.2h4.9M794.5 1090.0h4.9M817.5 1055.8h4.9M785.2 1090.0h4.9M785.2 1093.8h4.9M780.6 1093.8h4.9M780.6 1097.6h4.9M789.8 1090.0h4.9" stroke="#800000" stroke-width="4.11" fill="none"/>
<path d="M812.9 1063.4h4.9M831.4 1052.0h4.9M789.8 1093.8h4.9" stroke="#ffe600" stroke-width="4.11" fill="none"/>
<path d="M776.0,1103.34L1122.00,817.94" stroke="#000" stroke-width="2.9" stroke-dasharray="11.1,4.8"/>
<path d="M780.33,1089.48L1122.00,851.33" stroke="#ff0000" stroke-width="3.3"/>
</g>
<rect x="776.0" y="817.94" width="346.0" height="285.4" fill="none" stroke="#000" stroke-width="1.9"/>
<text transform="translate(776.00,1130.94) scale(1,1.08)" text-anchor="middle" style="font-family:'Liberation Serif',serif;font-size:28px">0</text>
<text transform="translate(768.7,1113.24) scale(1,1.08)" text-anchor="end" style="font-family:'Liberation Serif',serif;font-size:28px">0</text>
<text transform="translate(862.50,1130.94) scale(1,1.08)" text-anchor="middle" style="font-family:'Liberation Serif',serif;font-size:28px">2000</text>
<text transform="translate(768.7,1041.89) scale(1,1.08)" text-anchor="end" style="font-family:'Liberation Serif',serif;font-size:28px">2000</text>
<text transform="translate(949.00,1130.94) scale(1,1.08)" text-anchor="middle" style="font-family:'Liberation Serif',serif;font-size:28px">4000</text>
<text transform="translate(768.7,970.54) scale(1,1.08)" text-anchor="end" style="font-family:'Liberation Serif',serif;font-size:28px">4000</text>
<text transform="translate(1035.50,1130.94) scale(1,1.08)" text-anchor="middle" style="font-family:'Liberation Serif',serif;font-size:28px">6000</text>
<text transform="translate(768.7,899.19) scale(1,1.08)" text-anchor="end" style="font-family:'Liberation Serif',serif;font-size:28px">6000</text>
<path d="M776.00,1103.34v4 M776.0,1103.34h-4 M862.50,1103.34v4 M776.0,1031.99h-4 M949.00,1103.34v4 M776.0,960.64h-4 M1035.50,1103.34v4 M776.0,889.29h-4" stroke="#000" stroke-width="1.5"/>
<text x="949" y="1157.94" text-anchor="middle" style="font-family:'Liberation Serif',serif;font-size:24.3px">Observed(m³/s)</text>
<text transform="translate(704,960.64) rotate(-90)" text-anchor="middle" style="font-family:'Liberation Serif',serif;font-size:24.3px">Forecasted(m³/s)</text>
<text transform="translate(797.6,853.54) scale(0.93,1)" style="font-family:'Liberation Sans',sans-serif;font-size:28.5px;font-style:italic;stroke-width:0.9px">R</text>
<text x="819" y="843.34" style="font-family:'Liberation Sans',sans-serif;font-size:20px;stroke-width:0.6px">2</text>
<path d="M840,840.24h18v2.8h-18z M840,845.94h18v2.8h-18z" fill="#000"/>
<text transform="translate(865.4,853.54) scale(0.955,1.04)" style="font-family:'Liberation Serif',serif;font-size:29px">0.816</text>
<text transform="translate(798,889.54) scale(0.95,1)" style="font-family:'Liberation Sans',sans-serif;font-size:29px;font-style:italic;stroke-width:0.9px">y</text>
<path d="M821.7,876.24h18.3v2.8h-18.3z M821.7,881.94h18.3v2.8h-18.3z" fill="#000"/>
<text transform="translate(847.6,889.54) scale(0.955,1.04)" style="font-family:'Liberation Serif',serif;font-size:29px">0.845<tspan style="font-family:'Liberation Sans',sans-serif;font-style:italic;font-size:29px;stroke-width:0.9px">x</tspan>+304</text>
<rect x="1143.5" y="817.94" width="14.8" height="285.4" fill="url(#jet)" stroke="#000" stroke-width="1.6"/>
<text x="1165.3" y="1111.14" style="font-family:'Liberation Serif',serif;font-size:23px">0</text>
<text x="1165.3" y="1039.79" style="font-family:'Liberation Serif',serif;font-size:23px">3</text>
<text x="1165.3" y="968.44" style="font-family:'Liberation Serif',serif;font-size:23px">6</text>
<text x="1165.3" y="897.09" style="font-family:'Liberation Serif',serif;font-size:23px">9</text>
<text x="1165.3" y="825.74" style="font-family:'Liberation Serif',serif;font-size:23px">&gt;12</text>
<path d="M1158.3,1103.34h4 M1158.3,1031.99h4 M1158.3,960.64h4 M1158.3,889.29h4 M1158.3,817.94h4" stroke="#000" stroke-width="1.5"/>
<text x="1151" y="809.14" text-anchor="middle" style="font-family:'Liberation Serif',serif;font-size:28px">Counts</text>
<text x="2.4" y="1383.0" style="font-family:'Liberation Serif',serif;font-size:24.1px">7-day ahead</text>
<g clip-path="url(#cl3)">
<polyline points="254,1451.1 256.9,1453.9 259.4,1462.3 262.3,1464.1 266,1469.7 269.9,1471.6 274.3,1472.5 279,1474.7 287.4,1477.2 288.8,1474.4 290.2,1439 291.3,1405.5 293.1,1403.6 293.9,1406.4 295,1355.2 296.1,1344 296.6,1308.6 297.1,1262.1 297.9,1228.1 298.2,1222.4 298.6,1230 299.3,1251 300,1277 301.1,1336.6 303.3,1373.8 305.1,1411 306.6,1416.6 309.5,1417.6 311.6,1437.1 313.8,1448.3 316.4,1440.8 319.2,1455.7 322.9,1468.8 325.8,1463.2 328.7,1466.9 331.6,1471.9 334.1,1478.2 338.5,1481.3 342.1,1481.7 343,1466.2 344.1,1476.8 346.8,1477.5 351.1,1478.9 352.2,1466.9 354.1,1459.8 356.2,1460.5 356.9,1449.9 359.1,1447.8 359.9,1389.2 360.4,1359.5 361.7,1389.2 363.1,1385 366.7,1401.9 368.2,1409 370.4,1418.9 372.2,1421.7 373.6,1394.8 374.9,1407.6 376.5,1372.2 378,1396.2 380.1,1431.6 383,1452.8 385.2,1455.6 388.1,1461.2 390.7,1465.5 393.6,1442.9 395.4,1435.8 397.9,1442.9 399.4,1448.5 400.8,1445.7 403.4,1452.8 407.7,1461.2 412,1468.3 413.9,1463.3 417.5,1461.2 418.9,1457 420.4,1403.3 421.8,1399.1 423.3,1392 424.4,1334.1 425.5,1333.4 426.9,1342.6 427.6,1363.8 429.1,1389.2 430.5,1411.8 432.7,1431.6 435.6,1447.8 437.1,1399.1 438.1,1394.8 439.6,1406.2 441.8,1435.8 443.9,1454.9 445.4,1449.9 448.3,1455.6 451.2,1461.2 453.7,1461.2 457.4,1468.3 461,1471.1 462.4,1469 465.3,1472.5 467.9,1473.2 472.2,1478.2 476.6,1480.3 481.3,1481.7 484.9,1479.6 489.3,1476.8 491.4,1466.9 492.7,1457 493.4,1407.6 494.2,1406.2 496.1,1410.4 497.6,1425.9 500.1,1441.5 501.9,1417.4 503,1385 504.1,1389.2 506.3,1424.5 510.3,1445.7 512.1,1457 515,1464.1 517.2,1464.1 520.1,1468.3 522.6,1460.5 525.5,1466.9 528.4,1472.5 532.8,1476.1 538.2,1478.2 544.7,1478.9 547.3,1473.2 551.6,1469 556,1469 558.1,1464.1 558.7,1452.8 559.4,1417.4 560.1,1372.2 560.8,1344 562.5,1327 563.6,1344 565.8,1349.6 567.2,1386.4 569.4,1406.2 571.5,1428.7 574.5,1445.7 577,1451.3 579.9,1461.2 582.8,1465.5 586.4,1471.8 590.4,1471.8 591.8,1471.3 594,1476.2 595.5,1476.6 598,1471.7 602.7,1478 604.5,1476.2 608.2,1480.2 611.8,1480.7 615,1482 616.9,1480.2 620.5,1481.6 621.6,1477.1 625.2,1475.7 627.7,1473.1 629.5,1473.1 629.9,1455.1 631,1450.6 632.1,1451.5 633.5,1452.8 634.1,1419.1 635,1415.1 636.8,1419.1 639,1437.1 641.9,1455.1 644.8,1464.1 647.5,1466.3" fill="none" stroke="#0000ff" stroke-width="2.3" stroke-linejoin="round" stroke-linecap="butt"/>
<polyline points="254,1451.1 255.4,1451.1 258.4,1453.9 260.9,1462.3 263.9,1464.1 267.5,1469.7 271.6,1471.6 276,1472.5 280.7,1474.7 289.1,1477.2 290.6,1474.4 292.1,1439 293,1405.5 294.6,1403.6 295.2,1406.4 296.1,1355.2 297.1,1348 297.5,1321.3 298,1288 298.6,1273.1 298.9,1276.1 299.3,1274.6 300.1,1278.2 300.8,1289 302,1336.6 304.2,1373.8 306.1,1411 307.6,1416.6 310.6,1417.6 312.9,1437.1 315.1,1448.3 317.8,1440.8 320.8,1455.7 324.5,1468.8 327.6,1463.2 330.4,1466.9 333.3,1471.9 335.7,1478.2 340,1481.3 343.5,1481.7 344.4,1466.2 345.5,1476.8 348.1,1477.5 352.3,1478.9 353.4,1466.9 355.1,1459.8 357.2,1460.5 357.9,1449.9 360.1,1447.3 360.8,1386.8 361.3,1355.4 362.6,1387.7 364.1,1385 367.8,1401.9 369.3,1409 371.5,1418.9 373.3,1421.7 374.8,1394.8 376.1,1410.6 377.8,1384.8 379.2,1400.4 381.4,1431.6 384.3,1452.8 386.5,1455.6 389.4,1461.2 392,1465.5 394.9,1442.9 396.7,1435.8 399.3,1442.9 400.7,1448.5 402.2,1445.7 404.7,1452.8 409.1,1461.2 413.5,1468.3 415.3,1463.3 418.9,1461.2 420.4,1457 421.8,1403.3 423.3,1399.1 424.7,1392.8 425.8,1339.4 426.9,1342.7 428.5,1346.3 429.3,1364.8 430.8,1389.2 432.4,1411.8 434.8,1431.6 437.9,1447.9 439.5,1402 440.7,1399.8 442.1,1408 444.3,1435.8 446.4,1454.9 447.9,1449.9 450.7,1455.6 453.6,1461.2 456.1,1461.2 459.7,1468.3 463.3,1471.1 464.7,1469 467.6,1472.5 470.1,1473.2 474.4,1478.2 479,1480.3 483.9,1481.7 487.8,1479.6 492.3,1476.8 494.6,1466.8 495.9,1456 496.7,1402.9 497.4,1402.8 499.2,1410.4 500.5,1425.9 502.8,1441.5 504.4,1417.2 505.4,1384.5 506.5,1389 508.6,1424.5 512.5,1445.7 514.3,1457 517.2,1464.1 519.3,1464.1 522.2,1468.3 524.7,1460.5 527.5,1466.9 530.4,1472.5 534.6,1476.1 540,1478.2 546.4,1478.9 548.9,1473.2 553.2,1469 557.5,1469 559.6,1464.1 560.2,1452.8 560.9,1417.4 561.6,1372.5 562.3,1345.5 563.9,1332 565,1346.5 567.3,1349.6 568.7,1386.4 571,1406.2 573.2,1428.7 576.1,1445.7 578.7,1451.3 581.7,1461.2 584.6,1465.5 588.3,1471.8 592.4,1471.8 593.9,1471.3 596.1,1476.2 597.6,1476.6 600.2,1471.7 605.1,1478 606.9,1476.2 610.7,1480.2 614.4,1480.7 617.8,1482 619.7,1480.2 623.4,1481.6 624.6,1477.1 628.3,1475.7 630.9,1473.1 632.8,1473.1 633.2,1455.1 634.3,1450.6 635.4,1451.5 636.9,1453 637.5,1419.8 638.4,1416.3 640.2,1419.4 642.2,1437.1 645,1455.1 647.5,1463.5" fill="none" stroke="#ff0000" stroke-width="2.3" stroke-linejoin="round" stroke-linecap="butt"/>
</g>
<rect x="234.5" y="1210.01" width="432.70" height="285.4" fill="none" stroke="#000" stroke-width="1.9"/>
<text transform="translate(230.7,1495.11) scale(1,1.08)" text-anchor="end" style="font-family:'Liberation Serif',serif;font-size:28px">0</text>
<text transform="translate(230.7,1437.98) scale(1,1.08)" text-anchor="end" style="font-family:'Liberation Serif',serif;font-size:28px">3000</text>
<text transform="translate(230.7,1380.86) scale(1,1.08)" text-anchor="end" style="font-family:'Liberation Serif',serif;font-size:28px">6000</text>
<text transform="translate(230.7,1323.73) scale(1,1.08)" text-anchor="end" style="font-family:'Liberation Serif',serif;font-size:28px">9000</text>
<text transform="translate(230.7,1266.61) scale(1,1.08)" text-anchor="end" style="font-family:'Liberation Serif',serif;font-size:28px">12000</text>
<text transform="translate(254.00,1519.11) scale(1,1.08)" text-anchor="middle" style="font-family:'Liberation Serif',serif;font-size:28px">0</text>
<text transform="translate(326.50,1519.11) scale(1,1.08)" text-anchor="middle" style="font-family:'Liberation Serif',serif;font-size:28px">200</text>
<text transform="translate(399.00,1519.11) scale(1,1.08)" text-anchor="middle" style="font-family:'Liberation Serif',serif;font-size:28px">400</text>
<text transform="translate(471.50,1519.11) scale(1,1.08)" text-anchor="middle" style="font-family:'Liberation Serif',serif;font-size:28px">600</text>
<text transform="translate(544.00,1519.11) scale(1,1.08)" text-anchor="middle" style="font-family:'Liberation Serif',serif;font-size:28px">800</text>
<text transform="translate(616.50,1519.11) scale(1,1.08)" text-anchor="middle" style="font-family:'Liberation Serif',serif;font-size:28px">1000</text>
<path d="M234.5,1485.21h4 M234.5,1428.08h4 M234.5,1370.96h4 M234.5,1313.83h4 M234.5,1256.71h4 M254.00,1495.41v-4 M326.50,1495.41v-4 M399.00,1495.41v-4 M471.50,1495.41v-4 M544.00,1495.41v-4 M616.50,1495.41v-4" stroke="#000" stroke-width="1.5"/>
<text x="450.85" y="1546.01" text-anchor="middle" style="font-family:'Liberation Serif',serif;font-size:24.3px">Time(day)</text>
<text transform="translate(153.1,1352.71) rotate(-90)" text-anchor="middle" style="font-family:'Liberation Serif',serif;font-size:24.3px">Streamflow(m³/s)</text>
<rect x="518.7" y="1218.91" width="139.6" height="54.7" rx="2.5" fill="#fff" fill-opacity="0.8" stroke="#cccccc" stroke-width="1.2"/>
<path d="M524.4,1231.91H562" stroke="#0000ff" stroke-width="2.3"/>
<path d="M524.4,1256.91H562" stroke="#ff0000" stroke-width="2.3"/>
<text x="574.8" y="1237.91" style="font-family:'Liberation Serif',serif;font-size:17.8px">Observed</text>
<text x="574.8" y="1262.51" style="font-family:'Liberation Serif',serif;font-size:17.8px">Forecasted</text>
<g clip-path="url(#cr3)">
<path d="M853.5 1441.2h0M852.7 1432.4h0M854.6 1427.1h0M855.7 1411.8h0M853.2 1417.4h0M851.4 1415.9h0M849.3 1423.8h0M849.4 1418.2h0M848.3 1435.2h0M846.7 1420.3h0M840.5 1418.2h0M840.4 1435.4h0M837.3 1426.2h0M835.3 1417.9h0M832.1 1414.2h0M828.6 1419.9h0M828.6 1437.0h0M829.0 1438.3h0M827.9 1441.0h0M827.0 1432.6h0M827.2 1447.0h0M825.3 1450.7h0M822.9 1456.1h0M823.1 1447.3h0M821.2 1445.7h0M818.1 1451.9h0M816.6 1453.5h0M815.4 1450.6h0M813.6 1444.3h0M811.6 1459.2h0M811.2 1453.4h0M811.4 1454.0h0M810.3 1456.1h0M808.8 1453.7h0M809.1 1456.7h0M809.6 1460.7h0M809.1 1457.9h0M809.3 1459.7h0M809.8 1462.7h0M809.1 1463.9h0M808.0 1469.7h0M808.0 1465.4h0M807.8 1467.9h0M808.3 1469.4h0M806.7 1466.6h0M806.1 1470.4h0M805.4 1468.6h0M804.1 1468.5h0M804.4 1465.9h0M804.9 1468.1h0M804.4 1465.4h0M805.4 1463.0h0M805.9 1466.3h0M806.1 1472.5h0M806.1 1475.0h0M806.5 1472.8h0M805.1 1472.3h0M805.2 1475.3h0M805.1 1473.9h0M803.3 1473.6h0M803.2 1470.5h0M802.7 1464.3h0M802.9 1462.9h0M802.1 1472.5h0M801.7 1471.1h0M801.6 1473.5h0M800.6 1475.5h0M800.6 1471.9h0M800.2 1472.1h0M800.1 1473.6h0M799.5 1471.1h0M799.9 1473.9h0M799.9 1470.4h0M799.4 1475.3h0M799.5 1472.0h0M799.8 1475.0h0M800.4 1474.3h0M798.9 1473.7h0M799.0 1477.6h0M798.8 1476.4h0M798.2 1475.4h0M797.3 1475.8h0M797.6 1474.3h0M796.6 1476.2h0M796.6 1478.4h0M796.9 1475.9h0M795.7 1475.2h0M795.3 1478.0h0M794.5 1474.6h0M794.4 1475.4h0M795.0 1476.1h0M795.6 1476.2h0M794.4 1479.1h0M795.6 1474.1h0M797.6 1480.1h0M800.1 1479.0h0M801.9 1478.3h0M821.8 1478.5h0M842.7 1478.2h0M863.0 1481.0h0M882.7 1479.2h0M905.7 1476.6h0M932.6 1471.2h0M959.3 1474.4h0M959.4 1451.3h0M959.0 1433.0h0M954.0 1417.0h0M953.5 1406.5h0M960.9 1383.3h0M956.9 1383.0h0M947.6 1336.2h0M993.3 1332.1h0M1035.5 1346.7h0M1090.3 1332.8h0M1096.8 1336.8h0M1099.3 1348.5h0M1094.6 1324.3h0M1028.1 1244.3h0M1005.5 1274.0h0M991.8 1271.8h0M971.3 1261.9h0M949.1 1239.9h0M942.1 1268.7h0M936.8 1325.2h0M929.5 1326.8h0M925.1 1298.5h0M925.5 1350.8h0M927.1 1334.5h0M926.1 1359.6h0M919.5 1339.2h0M920.6 1337.0h0M922.6 1394.7h0M927.5 1359.9h0M929.7 1356.5h0M920.0 1375.3h0M910.6 1373.8h0M910.6 1386.3h0M905.0 1374.8h0M902.2 1362.7h0M899.3 1343.8h0M890.0 1340.1h0M885.1 1374.6h0M880.5 1388.6h0M876.1 1364.8h0M871.6 1412.5h0M866.4 1401.0h0M868.3 1379.9h0M866.5 1367.7h0M868.3 1407.5h0M868.9 1402.4h0M871.7 1417.3h0M873.0 1411.6h0M877.2 1416.1h0M874.9 1420.2h0M871.0 1411.7h0M867.0 1415.2h0M862.4 1408.5h0M856.8 1412.6h0M852.0 1420.3h0M846.8 1404.7h0M843.3 1399.4h0M840.3 1418.3h0M838.2 1401.9h0M833.0 1414.7h0M831.5 1426.4h0M827.4 1427.6h0M823.7 1435.3h0M820.8 1441.2h0M817.5 1432.2h0M815.2 1434.3h0M811.9 1447.1h0M812.6 1447.0h0M813.7 1450.7h0M816.9 1449.6h0M818.7 1448.6h0M819.1 1461.0h0M820.9 1459.3h0M820.9 1463.5h0M825.1 1460.7h0M822.4 1456.1h0M822.3 1462.3h0M822.1 1465.1h0M819.6 1457.7h0M819.2 1461.9h0M819.5 1447.3h0M819.0 1454.9h0M818.1 1455.3h0M817.6 1453.0h0M816.1 1453.3h0M814.8 1458.3h0M813.0 1456.9h0M811.9 1452.4h0M809.4 1458.4h0M808.6 1449.3h0M806.6 1456.8h0M803.7 1467.8h0M802.0 1457.3h0M801.0 1468.2h0M799.3 1462.1h0M796.7 1457.2h0M794.8 1462.8h0M792.4 1471.5h0M791.7 1473.1h0M791.0 1472.5h0M789.6 1469.7h0M789.2 1476.6h0M788.3 1475.1h0M787.7 1478.6h0M786.8 1481.5h0M786.0 1482.2h0M785.4 1479.9h0M785.3 1485.6h0M785.2 1485.5h0M784.7 1483.8h0M784.8 1484.4h0M784.7 1487.5h0M784.2 1487.7h0M784.2 1488.4h0M784.2 1487.1h0M784.1 1488.2h0M784.1 1486.9h0M784.1 1487.3h0M783.9 1487.9h0M783.5 1488.4h0M796.9 1488.1h0M810.4 1487.8h0M813.3 1488.6h0M806.9 1488.4h0M800.4 1487.9h0M795.2 1488.8h0M795.3 1488.3h0M795.5 1477.6h0M795.4 1467.2h0M795.5 1461.4h0M794.9 1462.5h0M794.9 1470.3h0M795.4 1481.5h0M795.2 1478.2h0M794.3 1479.5h0M794.1 1479.2h0M794.2 1479.2h0M793.8 1479.5h0M793.0 1480.1h0M793.2 1479.2h0M792.2 1478.4h0M792.0 1481.6h0M791.5 1481.8h0M790.7 1481.6h0M790.9 1481.9h0M800.4 1479.9h0M808.7 1482.4h0M818.4 1481.7h0M821.1 1481.7h0M822.0 1481.0h0M824.6 1482.8h0M828.4 1481.2h0M832.7 1474.3h0M832.8 1465.6h0M832.7 1454.3h0M833.2 1461.2h0M832.6 1452.6h0M834.0 1444.3h0M833.7 1448.1h0M846.3 1446.2h0M859.4 1433.0h0M857.6 1444.3h0M856.8 1437.0h0M860.9 1456.6h0M862.1 1443.1h0M861.9 1446.8h0M863.2 1430.1h0M929.0 1410.8h0M997.5 1423.9h0M1038.1 1425.2h0M1053.0 1439.9h0M1023.5 1411.7h0M1013.9 1406.8h0M991.7 1416.4h0M986.0 1369.7h0M988.6 1301.9h0M990.4 1253.1h0M995.1 1250.0h0M986.5 1237.3h0M986.9 1309.0h0M1004.3 1339.0h0M991.4 1308.4h0M988.8 1289.3h0M982.6 1323.7h0M979.4 1311.1h0M966.3 1329.9h0M958.2 1340.5h0M958.2 1319.2h0M955.2 1351.0h0M959.5 1310.6h0M952.0 1311.7h0M948.9 1305.7h0M957.9 1347.5h0M948.7 1350.3h0M940.0 1366.0h0M935.7 1364.9h0M931.5 1322.7h0M930.8 1289.9h0M929.3 1363.5h0M924.6 1346.7h0M924.0 1331.4h0M932.5 1364.7h0M934.4 1348.6h0M937.1 1365.5h0M951.6 1366.0h0M962.7 1348.9h0M981.5 1370.2h0M972.3 1383.9h0M973.4 1347.5h0M967.9 1358.4h0M975.5 1364.8h0M993.4 1357.8h0M1009.8 1325.8h0M1028.8 1335.0h0M1054.2 1326.7h0M1039.8 1308.5h0M1019.8 1334.2h0M1010.6 1304.8h0M994.1 1338.5h0M976.9 1286.8h0M957.3 1273.8h0M940.3 1213.5h0M924.0 1277.4h0M901.6 1272.0h0M893.4 1303.1h0M889.8 1332.3h0M883.6 1340.9h0M880.7 1352.1h0M875.5 1341.4h0M870.0 1377.6h0M858.3 1384.9h0M852.5 1381.5h0M848.1 1380.6h0M850.2 1390.1h0M852.3 1386.4h0M853.1 1417.6h0M848.8 1416.3h0M843.3 1419.5h0M843.4 1418.4h0M841.8 1427.5h0M841.7 1434.7h0M839.7 1428.9h0M838.2 1438.1h0M834.2 1424.6h0M833.4 1446.1h0M831.2 1433.9h0M830.3 1429.4h0M829.5 1430.7h0M827.9 1447.9h0M826.9 1438.7h0M825.4 1445.5h0M824.8 1445.9h0M823.8 1436.5h0M821.5 1445.5h0M827.1 1454.7h0M836.1 1454.3h0M842.2 1446.4h0M850.3 1450.3h0M857.2 1457.0h0M862.0 1460.0h0M866.5 1457.3h0M873.1 1452.0h0M876.9 1436.9h0M881.5 1440.3h0M881.0 1424.2h0M882.7 1412.8h0M885.9 1431.2h0M888.4 1420.1h0M879.4 1393.4h0M878.9 1410.5h0M875.6 1402.5h0M875.0 1392.4h0M871.8 1408.9h0M870.8 1403.0h0M871.5 1413.1h0M868.6 1398.5h0M865.9 1409.4h0M862.9 1410.9h0M862.4 1429.6h0M865.0 1401.2h0M865.8 1405.0h0M865.3 1418.1h0M863.0 1401.6h0M860.3 1434.6h0M859.7 1419.0h0M857.1 1431.8h0M853.7 1389.1h0M854.3 1435.9h0M853.5 1426.4h0M853.6 1424.6h0M852.2 1413.9h0M849.4 1414.3h0M846.3 1420.5h0M843.7 1428.5h0M843.3 1407.7h0M841.3 1432.1h0M836.9 1424.4h0M835.3 1413.7h0M831.7 1438.8h0M830.7 1438.6h0M827.7 1427.8h0M825.3 1432.8h0M824.7 1445.4h0M823.8 1441.4h0M821.0 1430.6h0M821.2 1447.6h0M822.7 1442.6h0M819.7 1449.1h0M820.6 1455.1h0M818.3 1444.0h0M816.5 1448.4h0M815.1 1450.0h0M812.5 1456.2h0M816.2 1453.7h0M819.1 1455.9h0M820.5 1454.1h0M822.5 1459.4h0M823.1 1461.6h0M823.5 1455.5h0M825.5 1466.9h0M824.0 1461.6h0M824.4 1458.9h0M825.5 1458.3h0M827.7 1459.5h0M830.1 1457.2h0M829.8 1449.6h0M829.2 1453.4h0M830.4 1456.3h0M832.3 1444.0h0M834.3 1457.7h0M838.5 1444.3h0M843.6 1445.8h0M875.6 1454.5h0M906.1 1450.5h0M939.2 1449.4h0M960.8 1438.1h0M963.3 1438.5h0M960.9 1442.0h0M975.6 1443.1h0M980.8 1423.0h0M984.3 1384.9h0M986.1 1376.2h0M976.3 1342.3h0M985.0 1340.9h0M1039.2 1332.6h0M1077.5 1308.3h0M1118.0 1323.2h0M1117.4 1230.8h0M1077.7 1247.4h0M1022.1 1225.0h0M995.8 1213.0h0M972.2 1219.4h0M960.7 1239.2h0M945.3 1301.2h0M935.8 1311.6h0M925.2 1300.9h0M923.4 1323.4h0M914.1 1313.2h0M909.0 1330.9h0M900.4 1378.1h0M892.9 1364.0h0M892.6 1351.1h0M888.7 1396.6h0M883.0 1373.8h0M875.4 1393.1h0M874.4 1403.2h0M871.6 1373.8h0M866.0 1381.3h0M861.8 1398.9h0M886.7 1402.8h0M910.8 1386.9h0M935.0 1396.3h0M964.3 1409.6h0M970.0 1403.4h0M970.2 1415.7h0M978.2 1422.7h0M976.2 1392.5h0M970.3 1384.9h0M968.4 1351.1h0M959.5 1341.6h0M946.9 1341.0h0M937.1 1342.8h0M924.9 1318.1h0M915.7 1310.2h0M899.5 1325.0h0M892.3 1349.0h0M882.1 1330.3h0M874.3 1364.5h0M863.8 1374.6h0M858.4 1371.0h0M853.8 1364.4h0M848.1 1380.4h0M852.1 1388.2h0M851.4 1387.9h0M852.6 1401.0h0M854.7 1421.3h0M851.5 1416.5h0M852.5 1429.0h0M851.3 1429.2h0M849.6 1424.0h0M848.9 1429.6h0M845.5 1438.1h0M842.5 1427.3h0M839.8 1431.1h0M839.6 1428.8h0M838.9 1432.0h0M838.4 1438.0h0M838.5 1441.5h0M834.6 1429.5h0M832.3 1431.5h0M831.2 1436.7h0M827.9 1439.6h0M827.6 1426.6h0M829.4 1436.2h0M831.0 1440.1h0M832.5 1438.7h0M832.2 1446.0h0M831.7 1442.8h0M833.0 1448.1h0M830.4 1447.0h0M829.0 1447.9h0M828.8 1449.1h0M826.1 1442.6h0M823.4 1439.2h0M821.6 1450.8h0M820.5 1447.8h0M819.2 1452.6h0M817.4 1443.8h0M816.1 1449.8h0M813.6 1446.5h0M812.2 1456.9h0M811.9 1451.2h0M810.5 1458.4h0M809.0 1459.0h0M807.7 1456.5h0M806.8 1461.3h0M806.5 1464.1h0M805.6 1460.0h0M805.6 1463.8h0M808.4 1460.4h0M809.6 1457.0h0M812.0 1469.1h0M813.4 1469.3h0M811.3 1472.7h0M810.2 1472.6h0M808.5 1467.7h0M808.4 1465.8h0M806.5 1464.8h0M806.8 1461.8h0M806.2 1465.1h0M803.7 1469.3h0M804.2 1461.3h0M805.2 1465.9h0M804.2 1463.1h0M804.7 1468.6h0M803.1 1466.0h0M803.1 1470.3h0M801.9 1471.2h0M801.5 1471.1h0M799.6 1468.8h0M797.5 1466.6h0M797.3 1468.4h0M797.9 1478.1h0M796.8 1472.0h0M796.4 1472.9h0M795.6 1471.2h0M794.5 1474.6h0M793.9 1478.2h0M793.6 1478.6h0M792.0 1477.1h0M791.8 1478.8h0M791.5 1474.9h0M790.5 1477.5h0M790.7 1479.5h0M791.0 1478.4h0M790.0 1476.3h0M790.2 1482.0h0M789.6 1482.0h0M789.0 1482.6h0M788.9 1484.6h0M788.4 1483.7h0M787.9 1483.9h0M788.0 1482.8h0M787.9 1482.8h0M787.7 1482.7h0M786.9 1485.3h0M786.1 1483.2h0M786.1 1486.0h0M785.5 1485.5h0M785.3 1483.7h0M784.8 1483.9h0M784.5 1484.2h0M784.1 1483.9h0M784.2 1485.9h0M783.8 1487.1h0M784.2 1487.6h0M784.7 1488.2h0M785.5 1487.8h0M785.6 1488.8h0M786.1 1489.1h0M786.5 1489.2h0M787.2 1490.0h0M787.8 1486.3h0M788.1 1487.4h0M788.7 1489.0h0M789.1 1486.9h0M789.8 1487.4h0M790.3 1488.4h0M790.6 1486.2h0M791.1 1485.2h0M791.8 1484.4h0M793.3 1483.2h0M793.5 1485.3h0M794.1 1483.7h0M795.3 1482.3h0M794.6 1482.2h0M794.3 1481.9h0M797.4 1481.7h0M801.1 1478.4h0M806.7 1482.3h0M810.8 1482.2h0M815.7 1475.3h0M819.1 1478.6h0M822.5 1477.6h0M826.0 1476.4h0M834.1 1474.3h0M864.9 1469.6h0M915.3 1463.9h0M948.6 1461.8h0M944.2 1457.3h0M950.8 1454.3h0M956.1 1446.6h0M950.4 1438.9h0M944.1 1401.0h0M946.7 1382.8h0M940.5 1347.4h0M936.2 1334.3h0M923.1 1339.1h0M918.1 1376.8h0M909.9 1339.1h0M903.6 1350.3h0M896.2 1355.5h0M892.6 1359.3h0M882.9 1366.9h0M878.5 1349.7h0M873.8 1361.4h0M871.5 1375.0h0M879.4 1368.4h0M895.8 1377.7h0M905.8 1400.9h0M913.0 1410.5h0M929.7 1413.5h0M961.8 1400.6h0M985.0 1410.0h0M1004.1 1390.2h0M1000.9 1383.0h0M993.9 1383.3h0M989.6 1390.2h0M985.1 1364.8h0M972.7 1291.5h0M958.9 1329.9h0M945.9 1318.9h0M931.2 1309.3h0M919.9 1280.8h0M917.5 1314.3h0M910.4 1337.1h0M905.4 1337.3h0M907.9 1339.8h0M902.7 1346.5h0M895.8 1343.9h0M895.8 1329.8h0M889.1 1351.1h0M879.8 1368.3h0M876.1 1381.2h0M868.5 1388.5h0M861.7 1376.0h0M857.0 1373.2h0M851.3 1379.0h0M844.6 1396.1h0M838.8 1395.6h0M836.1 1407.9h0M836.1 1413.8h0M833.1 1420.1h0M830.4 1421.9h0M831.4 1428.2h0M828.4 1426.5h0M828.2 1438.9h0M827.5 1441.9h0M826.7 1434.9h0M824.5 1440.1h0M825.0 1440.1h0M825.7 1449.5h0M826.6 1441.1h0M826.3 1448.5h0M826.2 1454.1h0M826.1 1450.6h0M822.8 1457.2h0M822.8 1455.9h0M821.2 1452.8h0M818.8 1445.1h0M816.9 1456.4h0M817.4 1449.0h0M820.7 1451.8h0M820.8 1445.8h0M823.3 1452.5h0M825.5 1452.2h0M827.7 1450.8h0M829.5 1462.8h0M830.0 1459.7h0M829.7 1461.3h0M826.8 1458.8h0M824.8 1451.6h0M822.6 1451.9h0M820.4 1447.1h0M819.8 1449.6h0M818.7 1450.6h0M816.3 1448.1h0M814.0 1454.1h0M812.4 1456.7h0M812.0 1460.3h0M810.7 1456.4h0M809.4 1454.5h0M807.6 1462.1h0M805.9 1461.3h0M804.5 1469.0h0M802.7 1467.0h0M803.3 1463.2h0M802.1 1468.6h0M801.2 1464.5h0M801.5 1468.8h0M801.0 1468.2h0M800.3 1471.9h0M799.2 1475.5h0M797.7 1471.7h0M797.3 1470.9h0M797.4 1474.7h0M796.2 1472.3h0M796.7 1475.3h0M795.7 1475.2h0M795.1 1472.5h0M795.1 1476.8h0M794.9 1478.8h0M794.9 1475.9h0M794.2 1478.0h0M793.5 1478.6h0M792.5 1477.2h0M791.9 1483.4h0M791.4 1478.0h0M790.8 1475.7h0M791.0 1478.7h0M790.7 1482.7h0M789.9 1478.2h0M791.0 1477.1h0M790.7 1481.0h0M790.3 1483.7h0M790.9 1483.7h0M791.3 1482.9h0M790.8 1482.7h0M790.3 1482.1h0M790.0 1481.9h0M790.5 1485.6h0M790.4 1483.6h0M790.1 1483.0h0M790.1 1479.5h0M790.6 1483.6h0M790.0 1484.9h0M789.9 1483.9h0M789.4 1482.7h0M790.3 1485.4h0M790.9 1482.0h0M793.1 1483.6h0M794.8 1481.9h0M797.0 1482.6h0M797.6 1482.9h0M799.6 1482.2h0M800.6 1480.9h0M801.6 1483.3h0M802.2 1480.9h0M803.0 1477.4h0M804.4 1477.0h0M805.9 1477.9h0M806.9 1474.7h0M807.0 1475.9h0M808.5 1474.2h0M809.2 1479.6h0M811.1 1471.5h0M811.0 1465.1h0M809.4 1467.0h0M810.1 1466.0h0M812.4 1467.5h0M812.9 1468.9h0M812.7 1464.3h0M813.6 1464.0h0M813.9 1464.7h0M814.2 1465.0h0M813.5 1466.9h0M813.5 1462.5h0M813.5 1460.2h0M812.8 1459.1h0M811.8 1461.5h0M812.1 1458.6h0M815.0 1460.8h0M817.4 1469.2h0M819.7 1468.3h0M822.0 1462.7h0M826.8 1466.3h0M828.4 1461.5h0M846.9 1467.5h0M879.7 1462.2h0M925.3 1460.6h0M975.8 1459.5h0M1035.5 1457.0h0M1092.0 1450.3h0M1110.3 1219.6h0M1030.4 1271.4h0M1000.4 1266.8h0M991.2 1252.0h0M988.7 1272.8h0M976.0 1302.4h0M970.0 1310.8h0M960.8 1234.7h0M952.4 1266.7h0M941.7 1325.7h0M941.2 1334.1h0M927.9 1284.4h0M919.0 1342.0h0M910.2 1321.6h0M906.3 1298.4h0M901.6 1330.8h0M896.8 1327.4h0M893.5 1349.2h0M883.0 1385.4h0M877.7 1381.1h0M869.5 1398.4h0M865.4 1377.1h0M861.1 1399.5h0M857.8 1387.6h0M856.6 1397.2h0M858.2 1407.5h0M857.6 1400.1h0M856.3 1416.3h0M857.0 1422.5h0M851.7 1410.8h0M844.9 1422.7h0M841.9 1434.1h0M839.1 1412.0h0M838.7 1432.9h0M839.3 1422.0h0M833.9 1418.9h0M834.5 1429.8h0M834.9 1439.2h0M833.9 1438.7h0M832.2 1441.2h0M833.4 1445.8h0M830.9 1433.6h0M827.9 1447.1h0M826.1 1447.2h0M822.5 1434.6h0M821.3 1447.8h0M819.4 1453.0h0M818.1 1444.6h0M816.7 1446.4h0M814.0 1449.0h0M813.7 1439.5h0M811.1 1456.4h0M810.4 1448.7h0M807.5 1452.8h0M806.4 1451.5h0M805.8 1459.5h0M805.9 1462.7h0M805.5 1462.5h0M804.1 1463.0h0M803.7 1461.4h0M804.1 1462.0h0M804.9 1473.2h0M804.1 1465.8h0M803.0 1467.8h0M802.9 1469.2h0M803.3 1473.3h0M803.6 1470.1h0M803.7 1475.0h0M805.1 1466.2h0M806.4 1473.0h0M805.3 1472.0h0M802.9 1472.2h0M801.3 1469.9h0M799.5 1474.4h0M797.0 1468.7h0M795.9 1468.6h0M795.8 1463.6h0M795.4 1468.6h0M796.0 1472.1h0M796.1 1477.3h0M798.1 1475.7h0M800.4 1473.6h0M802.3 1479.0h0M802.8 1479.2h0M804.0 1478.9h0M806.3 1476.4h0M807.2 1481.0h0M806.0 1472.0h0M805.2 1472.7h0M805.0 1470.5h0M804.5 1471.9h0M803.6 1464.8h0M801.9 1469.8h0M801.0 1465.2h0M799.8 1468.5h0M798.3 1473.0h0M797.6 1470.2h0M796.3 1468.3h0M794.5 1471.9h0M793.8 1473.7h0M794.3 1473.6h0M795.3 1476.5h0M795.2 1478.2h0M796.0 1476.5h0M796.3 1479.5h0M795.0 1478.4h0M793.3 1478.9h0M793.6 1477.2h0M792.6 1476.9h0M791.9 1479.3h0M791.4 1477.3h0M790.4 1479.9h0M789.6 1478.2h0M788.2 1481.3h0M787.3 1477.9h0M787.1 1482.1h0M787.2 1481.5h0M787.1 1483.3h0M786.6 1482.3h0M786.1 1483.0h0M785.8 1486.1h0M786.0 1483.5h0M786.1 1485.4h0M786.1 1487.3h0M785.5 1486.9h0M784.7 1488.0h0M784.5 1488.6h0M784.3 1487.2h0M784.0 1488.7h0M783.9 1486.5h0M783.6 1488.2h0M783.2 1487.7h0M782.9 1486.5h0M782.7 1488.5h0M783.6 1488.5h0M784.4 1487.7h0M785.8 1489.0h0M786.5 1488.6h0M787.4 1489.9h0M786.8 1489.9h0M786.4 1489.7h0M786.3 1489.0h0M786.1 1488.9h0M785.8 1486.9h0M785.6 1485.9h0M785.2 1485.0h0M784.5 1486.2h0M783.6 1487.4h0M783.9 1486.0h0M787.4 1486.0h0M790.8 1488.0h0M793.4 1489.1h0M793.3 1487.8h0M794.4 1487.4h0M793.6 1488.4h0M794.0 1489.6h0M794.9 1484.2h0M795.4 1484.0h0M796.3 1478.9h0M796.6 1481.2h0M798.2 1477.8h0M797.8 1479.5h0M797.9 1480.4h0M798.9 1477.8h0M800.7 1479.8h0M801.4 1478.7h0M802.9 1478.3h0M803.2 1477.9h0M803.2 1474.5h0M804.2 1474.5h0M805.2 1475.5h0M806.1 1476.1h0M805.3 1472.1h0M804.2 1471.2h0M844.0 1469.9h0M847.0 1471.7h0M851.6 1471.3h0M856.0 1465.6h0M852.3 1470.7h0M852.2 1470.2h0M851.7 1475.0h0M851.3 1437.5h0M850.6 1435.6h0M849.5 1430.8h0M850.0 1419.8h0M901.6 1432.1h0M929.9 1424.6h0M930.6 1430.9h0M935.9 1431.8h0M933.5 1441.4h0M923.6 1427.3h0M924.9 1425.3h0M922.8 1397.1h0M925.2 1371.5h0M918.0 1386.4h0M911.1 1363.8h0M905.3 1375.7h0M898.5 1363.2h0M890.5 1369.3h0M879.2 1360.8h0M879.9 1378.5h0M871.0 1393.8h0M865.9 1379.9h0M863.0 1390.6h0M859.0 1365.9h0M855.2 1393.3h0M851.4 1390.0h0M848.1 1399.2h0M845.4 1414.9h0M847.1 1428.4h0M841.4 1420.7h0M838.3 1417.2h0M834.4 1425.1h0M830.6 1426.6h0M828.1 1429.7h0M827.0 1442.5h0M825.0 1430.6h0M823.2 1442.6h0M823.3 1440.8h0M823.0 1435.8h0M824.4 1456.6h0M824.3 1450.8h0M823.2 1448.7h0" stroke="#000" stroke-width="5.8" stroke-linecap="round" fill="none"/>
<path d="M849.8 1440.2h4.9M849.8 1432.6h4.9M854.4 1428.8h4.9M840.6 1478.3h4.9M859.0 1482.1h4.9M882.1 1478.3h4.9M905.2 1478.3h4.9M928.2 1470.7h4.9M955.9 1474.5h4.9M955.9 1451.6h4.9M955.9 1432.6h4.9M951.3 1417.4h4.9M951.3 1406.0h4.9M960.5 1383.2h4.9M955.9 1383.2h4.9M946.7 1337.5h4.9M992.8 1333.7h4.9M1034.3 1345.1h4.9M1089.7 1333.7h4.9M1094.3 1337.5h4.9M1098.9 1348.9h4.9M1094.3 1326.1h4.9M1025.1 1246.2h4.9M1002.1 1272.8h4.9M969.8 1261.4h4.9M946.7 1238.5h4.9M942.1 1269.0h4.9M932.9 1326.1h4.9M928.2 1326.1h4.9M923.6 1348.9h4.9M923.6 1333.7h4.9M919.0 1394.6h4.9M928.2 1356.5h4.9M919.0 1375.5h4.9M909.8 1375.5h4.9M900.6 1375.5h4.9M900.6 1364.1h4.9M895.9 1345.1h4.9M886.7 1341.3h4.9M877.5 1387.0h4.9M863.7 1367.9h4.9M868.3 1406.0h4.9M868.3 1417.4h4.9M872.9 1409.8h4.9M872.9 1417.4h4.9M872.9 1421.2h4.9M863.7 1413.6h4.9M845.2 1406.0h4.9M840.6 1398.4h4.9M836.0 1402.2h4.9M817.5 1440.2h4.9M799.1 1455.5h4.9M794.5 1455.5h4.9M785.2 1470.7h4.9M785.2 1474.5h4.9M808.3 1485.9h4.9M812.9 1489.7h4.9M803.7 1489.7h4.9M799.1 1489.7h4.9M822.1 1482.1h4.9M826.7 1482.1h4.9M831.4 1466.9h4.9M831.4 1455.5h4.9M831.4 1463.1h4.9M831.4 1451.6h4.9M845.2 1447.8h4.9M859.0 1432.6h4.9M854.4 1444.0h4.9M854.4 1436.4h4.9M859.0 1455.5h4.9M859.0 1444.0h4.9M859.0 1447.8h4.9M928.2 1409.8h4.9M997.4 1425.0h4.9M1034.3 1425.0h4.9M1052.8 1440.2h4.9M1020.5 1413.6h4.9M1011.3 1406.0h4.9M988.2 1417.4h4.9M983.6 1367.9h4.9M988.2 1303.2h4.9M992.8 1250.0h4.9M983.6 1238.5h4.9M983.6 1310.9h4.9M1002.1 1337.5h4.9M988.2 1307.0h4.9M988.2 1288.0h4.9M979.0 1322.3h4.9M979.0 1310.9h4.9M965.1 1329.9h4.9M955.9 1318.5h4.9M951.3 1352.7h4.9M955.9 1310.9h4.9M951.3 1310.9h4.9M946.7 1307.0h4.9M955.9 1348.9h4.9M946.7 1348.9h4.9M937.5 1367.9h4.9M928.2 1322.3h4.9M928.2 1288.0h4.9M923.6 1345.1h4.9M923.6 1329.9h4.9M932.9 1348.9h4.9M951.3 1364.1h4.9M960.5 1348.9h4.9M979.0 1371.7h4.9M969.8 1348.9h4.9M965.1 1356.5h4.9M974.4 1364.1h4.9M992.8 1356.5h4.9M1006.7 1326.1h4.9M1025.1 1333.7h4.9M1052.8 1326.1h4.9M1039.0 1307.0h4.9M1015.9 1333.7h4.9M1006.7 1303.2h4.9M992.8 1337.5h4.9M974.4 1288.0h4.9M955.9 1272.8h4.9M937.5 1211.9h4.9M923.6 1276.6h4.9M900.6 1272.8h4.9M891.3 1303.2h4.9M886.7 1333.7h4.9M882.1 1341.3h4.9M877.5 1352.7h4.9M872.9 1341.3h4.9M854.4 1383.2h4.9M849.8 1383.2h4.9M840.6 1417.4h4.9M840.6 1436.4h4.9M836.0 1455.5h4.9M840.6 1447.8h4.9M849.8 1451.6h4.9M854.4 1455.5h4.9M859.0 1459.3h4.9M863.7 1455.5h4.9M872.9 1451.6h4.9M872.9 1436.4h4.9M877.5 1440.2h4.9M877.5 1425.0h4.9M882.1 1413.6h4.9M882.1 1432.6h4.9M886.7 1421.2h4.9M877.5 1394.6h4.9M877.5 1409.8h4.9M872.9 1390.8h4.9M868.3 1409.8h4.9M863.7 1409.8h4.9M863.7 1406.0h4.9M863.7 1417.4h4.9M859.0 1402.2h4.9M859.0 1436.4h4.9M859.0 1417.4h4.9M854.4 1432.6h4.9M849.8 1413.6h4.9M840.6 1406.0h4.9M822.1 1432.6h4.9M817.5 1428.8h4.9M822.1 1466.9h4.9M831.4 1459.3h4.9M836.0 1444.0h4.9M840.6 1444.0h4.9M872.9 1455.5h4.9M905.2 1451.6h4.9M937.5 1447.8h4.9M960.5 1436.4h4.9M974.4 1444.0h4.9M979.0 1421.2h4.9M983.6 1383.2h4.9M983.6 1375.5h4.9M974.4 1341.3h4.9M983.6 1341.3h4.9M1039.0 1333.7h4.9M1075.9 1307.0h4.9M1117.4 1322.3h4.9M1112.8 1230.9h4.9M1075.9 1246.2h4.9M1020.5 1223.3h4.9M992.8 1211.9h4.9M969.8 1219.5h4.9M960.5 1238.5h4.9M942.1 1299.4h4.9M932.9 1310.9h4.9M919.0 1322.3h4.9M909.8 1314.7h4.9M905.2 1329.9h4.9M895.9 1379.3h4.9M891.3 1364.1h4.9M891.3 1352.7h4.9M886.7 1398.4h4.9M872.9 1394.6h4.9M863.7 1383.2h4.9M882.1 1402.2h4.9M932.9 1394.6h4.9M960.5 1409.8h4.9M969.8 1402.2h4.9M969.8 1417.4h4.9M974.4 1421.2h4.9M974.4 1390.8h4.9M965.1 1352.7h4.9M946.7 1341.3h4.9M932.9 1341.3h4.9M923.6 1318.5h4.9M914.4 1310.9h4.9M882.1 1329.9h4.9M849.8 1364.1h4.9M849.8 1402.2h4.9M836.0 1440.2h4.9M831.4 1432.6h4.9M812.9 1474.5h4.9M822.1 1478.3h4.9M822.1 1474.5h4.9M863.7 1470.7h4.9M914.4 1463.1h4.9M946.7 1463.1h4.9M942.1 1455.5h4.9M946.7 1455.5h4.9M955.9 1447.8h4.9M946.7 1440.2h4.9M942.1 1402.2h4.9M942.1 1383.2h4.9M937.5 1348.9h4.9M932.9 1333.7h4.9M914.4 1375.5h4.9M900.6 1348.9h4.9M895.9 1356.5h4.9M891.3 1360.3h4.9M882.1 1367.9h4.9M877.5 1348.9h4.9M872.9 1360.3h4.9M891.3 1379.3h4.9M905.2 1402.2h4.9M909.8 1409.8h4.9M928.2 1413.6h4.9M960.5 1402.2h4.9M983.6 1409.8h4.9M1002.1 1390.8h4.9M997.4 1383.2h4.9M992.8 1383.2h4.9M988.2 1390.8h4.9M983.6 1364.1h4.9M969.8 1291.8h4.9M955.9 1329.9h4.9M942.1 1318.5h4.9M928.2 1310.9h4.9M919.0 1280.4h4.9M914.4 1314.7h4.9M905.2 1337.5h4.9M905.2 1341.3h4.9M900.6 1345.1h4.9M891.3 1345.1h4.9M891.3 1329.9h4.9M886.7 1352.7h4.9M872.9 1379.3h4.9M868.3 1387.0h4.9M859.0 1375.5h4.9M849.8 1379.3h4.9M840.6 1394.6h4.9M836.0 1394.6h4.9M836.0 1406.0h4.9M831.4 1421.2h4.9M808.3 1478.3h4.9M812.9 1466.9h4.9M826.7 1466.9h4.9M845.2 1466.9h4.9M877.5 1463.1h4.9M923.6 1459.3h4.9M974.4 1459.3h4.9M1034.3 1455.5h4.9M1089.7 1451.6h4.9M1108.2 1219.5h4.9M1029.7 1272.8h4.9M997.4 1265.2h4.9M974.4 1303.2h4.9M969.8 1310.9h4.9M960.5 1234.7h4.9M951.3 1265.2h4.9M937.5 1326.1h4.9M937.5 1333.7h4.9M923.6 1284.2h4.9M914.4 1341.3h4.9M909.8 1322.3h4.9M905.2 1299.4h4.9M900.6 1329.9h4.9M882.1 1387.0h4.9M854.4 1387.0h4.9M854.4 1406.0h4.9M854.4 1417.4h4.9M849.8 1409.8h4.9M836.0 1421.2h4.9M812.9 1440.2h4.9M794.5 1485.9h4.9M840.6 1470.7h4.9M845.2 1470.7h4.9M854.4 1466.9h4.9M849.8 1474.5h4.9M845.2 1432.6h4.9M900.6 1432.6h4.9M928.2 1425.0h4.9M928.2 1432.6h4.9M932.9 1432.6h4.9M932.9 1440.2h4.9M923.6 1428.8h4.9M923.6 1425.0h4.9M919.0 1398.4h4.9M923.6 1371.7h4.9M914.4 1387.0h4.9M909.8 1364.1h4.9M905.2 1375.5h4.9M895.9 1364.1h4.9M886.7 1367.9h4.9M877.5 1360.3h4.9M868.3 1394.6h4.9M863.7 1379.3h4.9M859.0 1390.8h4.9M854.4 1364.1h4.9M854.4 1394.6h4.9M845.2 1398.4h4.9M826.7 1444.0h4.9M822.1 1428.8h4.9" stroke="#0000e0" stroke-width="4.11" fill="none"/>
<path d="M854.4 1413.6h4.9M845.2 1425.0h4.9M845.2 1417.4h4.9M845.2 1436.4h4.9M845.2 1421.2h4.9M836.0 1425.0h4.9M831.4 1417.4h4.9M826.7 1421.2h4.9M812.9 1444.0h4.9M817.5 1478.3h4.9M988.2 1272.8h4.9M923.6 1299.4h4.9M923.6 1360.3h4.9M909.8 1387.0h4.9M882.1 1375.5h4.9M872.9 1364.1h4.9M863.7 1402.2h4.9M868.3 1379.3h4.9M868.3 1402.2h4.9M859.0 1409.8h4.9M849.8 1421.2h4.9M812.9 1432.6h4.9M817.5 1466.9h4.9M803.7 1455.5h4.9M789.8 1470.7h4.9M808.3 1482.1h4.9M831.4 1474.5h4.9M859.0 1428.8h4.9M988.2 1253.8h4.9M955.9 1341.3h4.9M932.9 1364.1h4.9M928.2 1364.1h4.9M969.8 1383.2h4.9M845.2 1379.3h4.9M836.0 1428.8h4.9M872.9 1402.2h4.9M868.3 1398.4h4.9M849.8 1425.0h4.9M845.2 1413.6h4.9M840.6 1432.6h4.9M826.7 1451.6h4.9M960.5 1440.2h4.9M868.3 1375.5h4.9M859.0 1398.4h4.9M895.9 1326.1h4.9M891.3 1348.9h4.9M863.7 1375.5h4.9M854.4 1371.7h4.9M854.4 1421.2h4.9M849.8 1428.8h4.9M845.2 1428.8h4.9M803.7 1459.3h4.9M808.3 1470.7h4.9M803.7 1482.1h4.9M909.8 1337.5h4.9M877.5 1367.9h4.9M836.0 1413.6h4.9M877.5 1379.3h4.9M854.4 1398.4h4.9M803.7 1451.6h4.9" stroke="#002aff" stroke-width="4.11" fill="none"/>
<path d="M849.8 1417.4h4.9M808.3 1463.1h4.9M808.3 1447.8h4.9M822.1 1459.3h4.9M812.9 1455.5h4.9M794.5 1463.1h4.9M831.4 1444.0h4.9M831.4 1447.8h4.9M799.1 1482.1h4.9M803.7 1478.3h4.9M812.9 1463.1h4.9" stroke="#00d4ff" stroke-width="4.11" fill="none"/>
<path d="M836.0 1417.4h4.9M836.0 1436.4h4.9M831.4 1413.6h4.9M826.7 1436.4h4.9M826.7 1432.6h4.9M808.3 1451.6h4.9M919.0 1337.5h4.9M868.3 1413.6h4.9M831.4 1425.0h4.9M817.5 1459.3h4.9M817.5 1463.1h4.9M822.1 1463.1h4.9M812.9 1459.3h4.9M780.6 1482.1h4.9M794.5 1489.7h4.9M817.5 1482.1h4.9M849.8 1390.8h4.9M849.8 1387.0h4.9M840.6 1421.2h4.9M840.6 1428.8h4.9M826.7 1455.5h4.9M849.8 1436.4h4.9M826.7 1459.3h4.9M836.0 1432.6h4.9M831.4 1428.8h4.9M826.7 1425.0h4.9M812.9 1470.7h4.9M808.3 1474.5h4.9M826.7 1463.1h4.9M849.8 1470.7h4.9" stroke="#0080ff" stroke-width="4.11" fill="none"/>
<path d="M826.7 1440.2h4.9M817.5 1451.6h4.9M817.5 1447.8h4.9" stroke="#ffe600" stroke-width="4.11" fill="none"/>
<path d="M826.7 1447.8h4.9M822.1 1451.6h4.9M822.1 1455.5h4.9M789.8 1474.5h4.9M812.9 1447.8h4.9M794.5 1466.9h4.9" stroke="#c0ff37" stroke-width="4.11" fill="none"/>
<path d="M822.1 1447.8h4.9M826.7 1428.8h4.9M822.1 1436.4h4.9M817.5 1455.5h4.9M785.2 1478.3h4.9M831.4 1440.2h4.9M789.8 1489.7h4.9" stroke="#37ffc0" stroke-width="4.11" fill="none"/>
<path d="M817.5 1444.0h4.9M812.9 1451.6h4.9M799.1 1463.1h4.9M822.1 1444.0h4.9M822.1 1440.2h4.9M808.3 1466.9h4.9" stroke="#7bff7b" stroke-width="4.11" fill="none"/>
<path d="M808.3 1459.3h4.9M808.3 1455.5h4.9M799.1 1478.3h4.9M780.6 1489.7h4.9" stroke="#e00000" stroke-width="4.11" fill="none"/>
<path d="M803.7 1470.7h4.9M803.7 1466.9h4.9M803.7 1463.1h4.9M803.7 1474.5h4.9M799.1 1474.5h4.9M799.1 1470.7h4.9M794.5 1474.5h4.9M794.5 1478.3h4.9M789.8 1478.3h4.9M785.2 1482.1h4.9M785.2 1485.9h4.9M780.6 1485.9h4.9M789.8 1482.1h4.9M785.2 1489.7h4.9" stroke="#800000" stroke-width="4.11" fill="none"/>
<path d="M799.1 1466.9h4.9M789.8 1485.9h4.9" stroke="#ff9700" stroke-width="4.11" fill="none"/>
<path d="M794.5 1470.7h4.9M794.5 1482.1h4.9" stroke="#ff4800" stroke-width="4.11" fill="none"/>
<path d="M776.0,1495.41L1122.00,1210.01" stroke="#000" stroke-width="2.9" stroke-dasharray="11.1,4.8"/>
<path d="M780.33,1475.89L1122.00,1269.59" stroke="#ff0000" stroke-width="3.3"/>
</g>
<rect x="776.0" y="1210.01" width="346.0" height="285.4" fill="none" stroke="#000" stroke-width="1.9"/>
<text transform="translate(776.00,1523.01) scale(1,1.08)" text-anchor="middle" style="font-family:'Liberation Serif',serif;font-size:28px">0</text>
<text transform="translate(768.7,1505.31) scale(1,1.08)" text-anchor="end" style="font-family:'Liberation Serif',serif;font-size:28px">0</text>
<text transform="translate(862.50,1523.01) scale(1,1.08)" text-anchor="middle" style="font-family:'Liberation Serif',serif;font-size:28px">2000</text>
<text transform="translate(768.7,1433.96) scale(1,1.08)" text-anchor="end" style="font-family:'Liberation Serif',serif;font-size:28px">2000</text>
<text transform="translate(949.00,1523.01) scale(1,1.08)" text-anchor="middle" style="font-family:'Liberation Serif',serif;font-size:28px">4000</text>
<text transform="translate(768.7,1362.61) scale(1,1.08)" text-anchor="end" style="font-family:'Liberation Serif',serif;font-size:28px">4000</text>
<text transform="translate(1035.50,1523.01) scale(1,1.08)" text-anchor="middle" style="font-family:'Liberation Serif',serif;font-size:28px">6000</text>
<text transform="translate(768.7,1291.26) scale(1,1.08)" text-anchor="end" style="font-family:'Liberation Serif',serif;font-size:28px">6000</text>
<path d="M776.00,1495.41v4 M776.0,1495.41h-4 M862.50,1495.41v4 M776.0,1424.06h-4 M949.00,1495.41v4 M776.0,1352.71h-4 M1035.50,1495.41v4 M776.0,1281.36h-4" stroke="#000" stroke-width="1.5"/>
<text x="949" y="1550.01" text-anchor="middle" style="font-family:'Liberation Serif',serif;font-size:24.3px">Observed(m³/s)</text>
<text transform="translate(704,1352.71) rotate(-90)" text-anchor="middle" style="font-family:'Liberation Serif',serif;font-size:24.3px">Forecasted(m³/s)</text>
<text transform="translate(797.6,1245.61) scale(0.93,1)" style="font-family:'Liberation Sans',sans-serif;font-size:28.5px;font-style:italic;stroke-width:0.9px">R</text>
<text x="819" y="1235.41" style="font-family:'Liberation Sans',sans-serif;font-size:20px;stroke-width:0.6px">2</text>
<path d="M840,1232.31h18v2.8h-18z M840,1238.01h18v2.8h-18z" fill="#000"/>
<text transform="translate(865.4,1245.61) scale(0.955,1.04)" style="font-family:'Liberation Serif',serif;font-size:29px">0.718</text>
<text transform="translate(798,1281.61) scale(0.95,1)" style="font-family:'Liberation Sans',sans-serif;font-size:29px;font-style:italic;stroke-width:0.9px">y</text>
<path d="M821.7,1268.31h18.3v2.8h-18.3z M821.7,1274.01h18.3v2.8h-18.3z" fill="#000"/>
<text transform="translate(847.6,1281.61) scale(0.955,1.04)" style="font-family:'Liberation Serif',serif;font-size:29px">0.732<tspan style="font-family:'Liberation Sans',sans-serif;font-style:italic;font-size:29px;stroke-width:0.9px">x</tspan>+474</text>
<rect x="1143.5" y="1210.01" width="14.8" height="285.4" fill="url(#jet)" stroke="#000" stroke-width="1.6"/>
<text x="1165.3" y="1503.21" style="font-family:'Liberation Serif',serif;font-size:23px">0</text>
<text x="1165.3" y="1431.86" style="font-family:'Liberation Serif',serif;font-size:23px">3</text>
<text x="1165.3" y="1360.51" style="font-family:'Liberation Serif',serif;font-size:23px">6</text>
<text x="1165.3" y="1289.16" style="font-family:'Liberation Serif',serif;font-size:23px">9</text>
<text x="1165.3" y="1217.81" style="font-family:'Liberation Serif',serif;font-size:23px">&gt;12</text>
<path d="M1158.3,1495.41h4 M1158.3,1424.06h4 M1158.3,1352.71h4 M1158.3,1281.36h4 M1158.3,1210.01h4" stroke="#000" stroke-width="1.5"/>
<text x="1151" y="1201.21" text-anchor="middle" style="font-family:'Liberation Serif',serif;font-size:28px">Counts</text>
</svg></body></html>
